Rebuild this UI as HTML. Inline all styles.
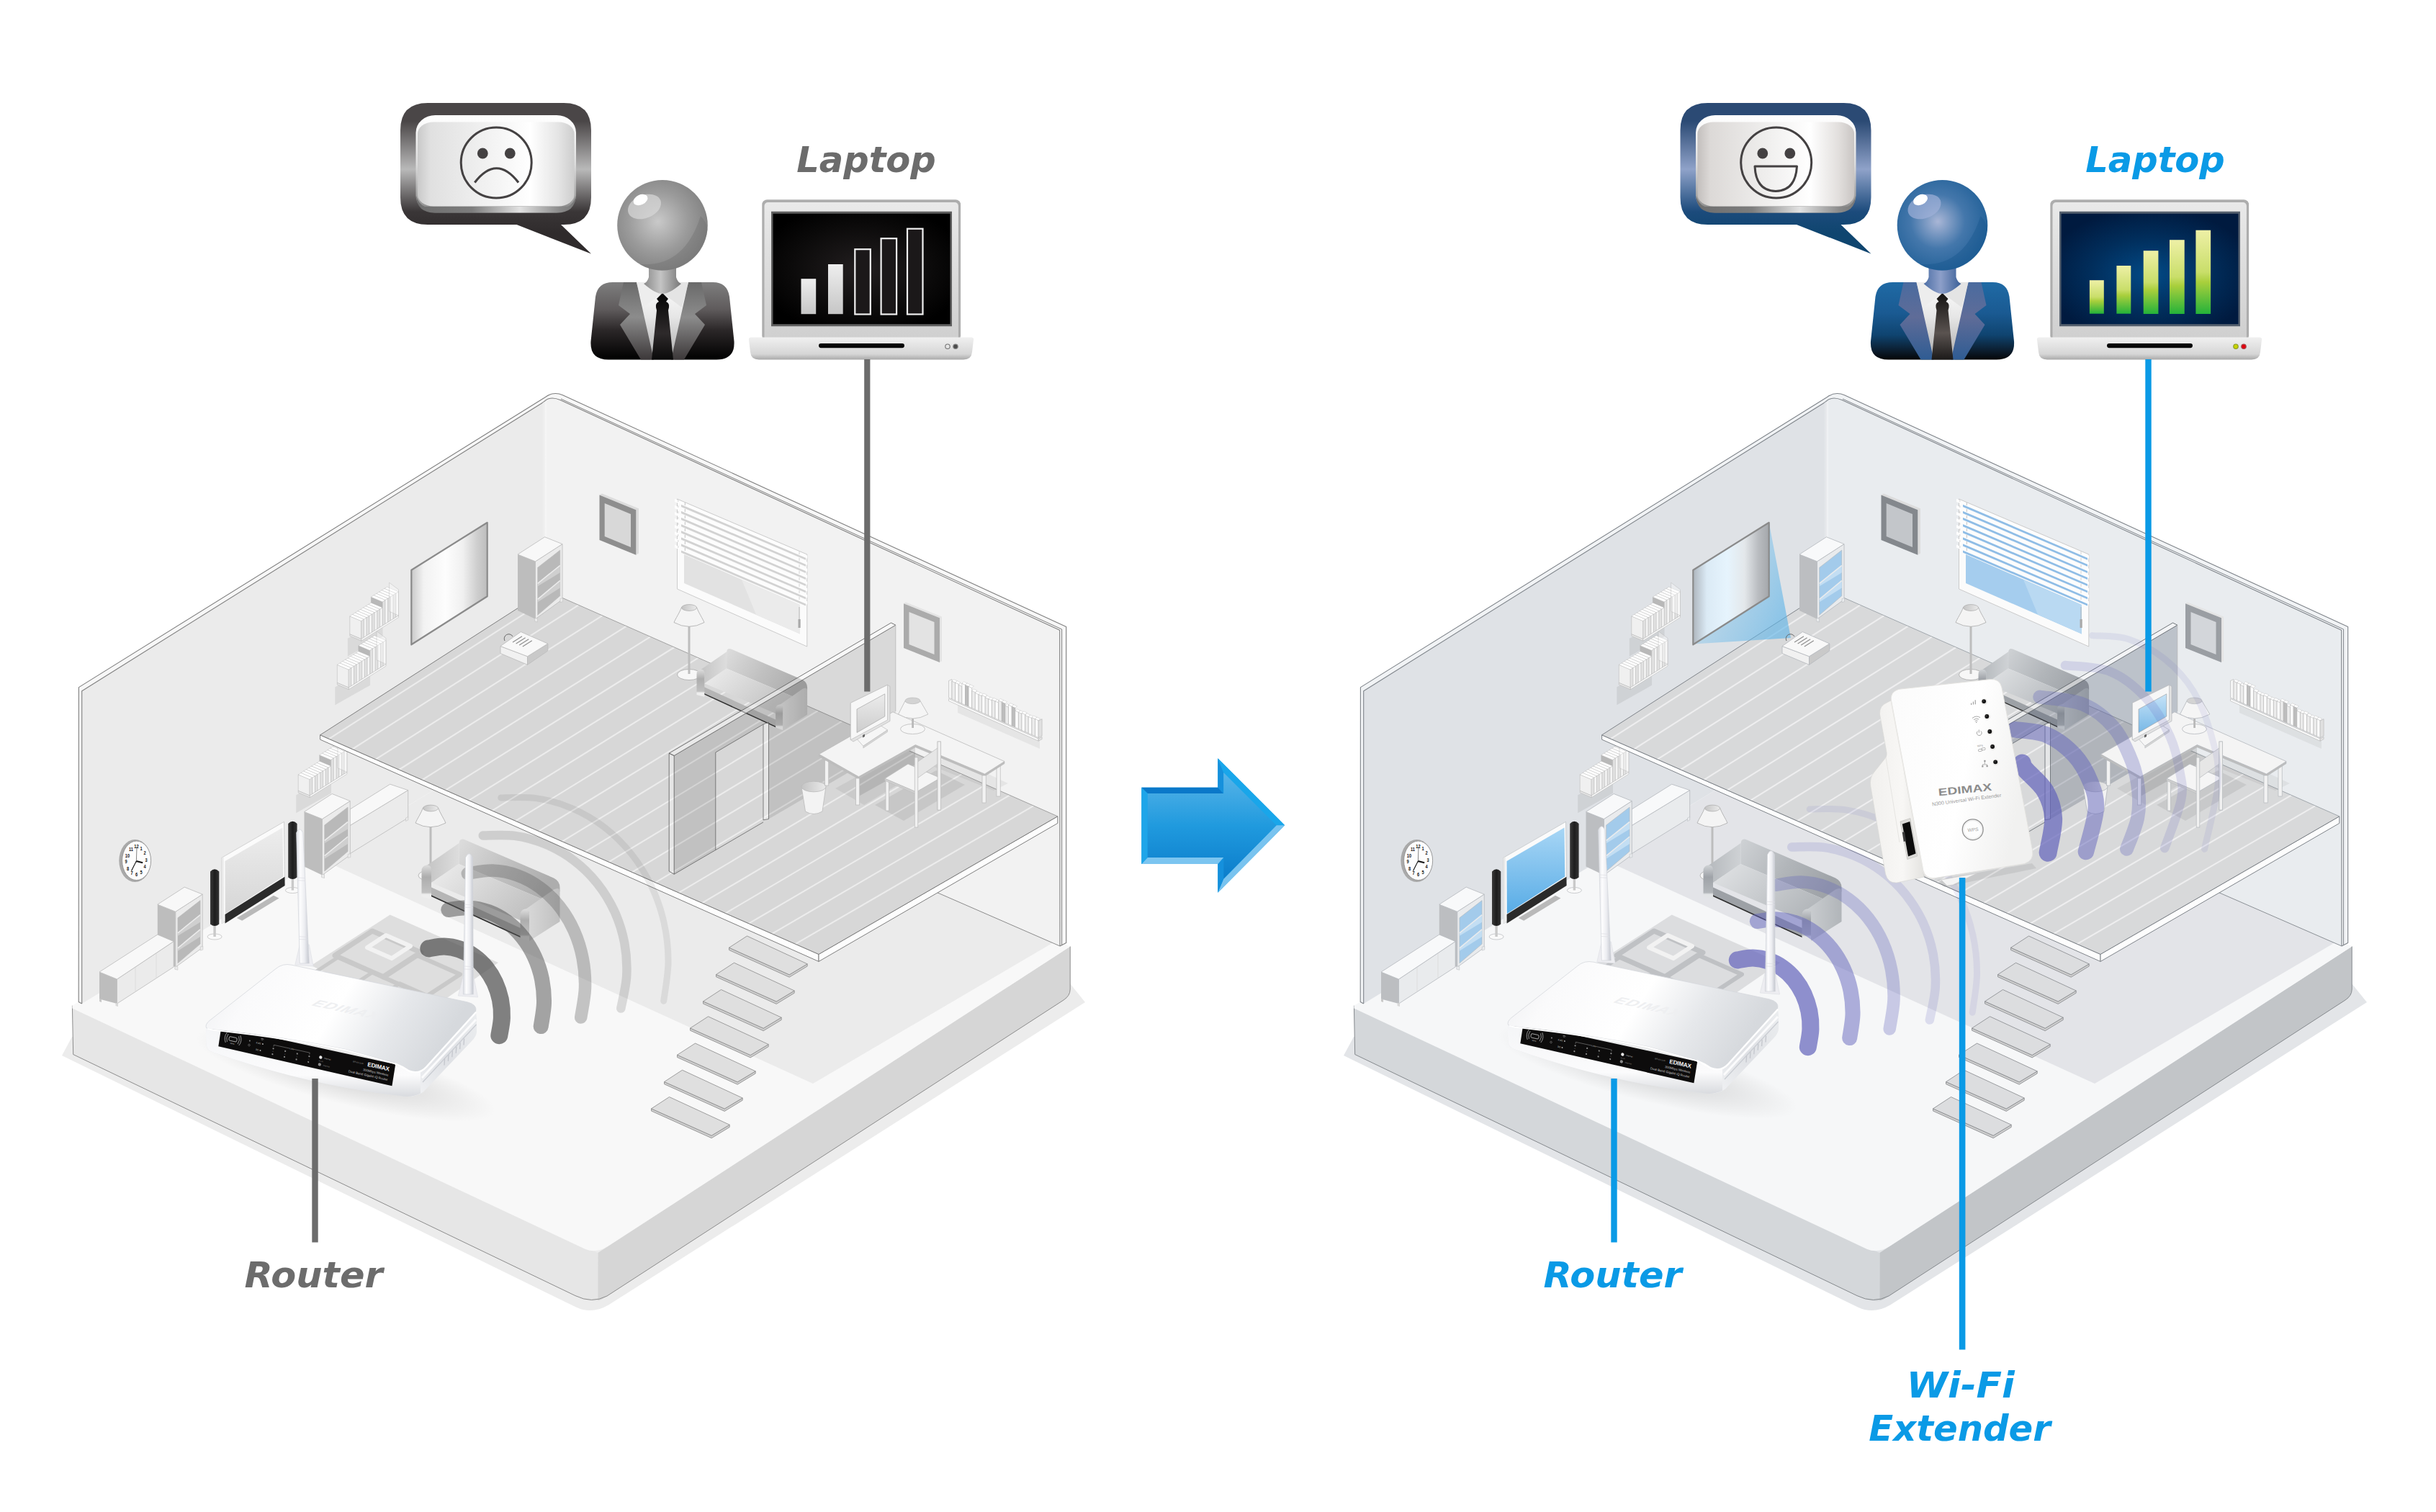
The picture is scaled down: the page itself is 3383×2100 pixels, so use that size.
<!DOCTYPE html>
<html lang="en"><head><meta charset="utf-8"><title>Wi-Fi Extender - before and after</title>
<style>
html,body{margin:0;padding:0;background:#fff}
body{width:3383px;height:2100px;overflow:hidden}
svg{display:block}
text{font-family:"DejaVu Sans","Liberation Sans",sans-serif}
.ls,.ls text{font-family:"Liberation Sans","DejaVu Sans",sans-serif}
.lbl{font-family:"DejaVu Sans","Liberation Sans",sans-serif;font-weight:bold;font-style:italic}
</style></head><body>
<svg xmlns="http://www.w3.org/2000/svg" width="3383" height="2100" viewBox="0 0 3383 2100">
<defs><linearGradient id="cornerShade" x1="0" x2="1" y1="0" y2="0"><stop offset="0" stop-color="#fff" stop-opacity="0"/><stop offset="0.6" stop-color="#fff" stop-opacity="0.35"/><stop offset="1" stop-color="#fff" stop-opacity="0"/></linearGradient><linearGradient id="bubVL" x1="0" x2="0" y1="0" y2="1"><stop offset="0" stop-color="#4a4647"/><stop offset="0.12" stop-color="#4a4647"/><stop offset="0.44" stop-color="#b9b9b9"/><stop offset="0.72" stop-color="#3a3637"/><stop offset="0.86" stop-color="#2f2b2c"/><stop offset="1" stop-color="#2f2b2c"/></linearGradient><linearGradient id="bubVR" x1="0" x2="0" y1="0" y2="1"><stop offset="0" stop-color="#2b4a74"/><stop offset="0.12" stop-color="#2b4a74"/><stop offset="0.44" stop-color="#8fa2c9"/><stop offset="0.72" stop-color="#1c4b7c"/><stop offset="0.86" stop-color="#0f456f"/><stop offset="1" stop-color="#0f456f"/></linearGradient><linearGradient id="bubFace" x1="0" x2="1" y1="0" y2="0"><stop offset="0" stop-color="#c9c9c9"/><stop offset="0.08" stop-color="#e0e0e0"/><stop offset="0.45" stop-color="#f2f2f2"/><stop offset="0.72" stop-color="#ffffff"/><stop offset="0.9" stop-color="#e4e4e4"/><stop offset="1" stop-color="#cdcdcd"/></linearGradient><linearGradient id="bubFaceR" x1="0" x2="1" y1="0" y2="0"><stop offset="0" stop-color="#c3bfbd"/><stop offset="0.08" stop-color="#dcd9d7"/><stop offset="0.45" stop-color="#f0efee"/><stop offset="0.72" stop-color="#ffffff"/><stop offset="0.9" stop-color="#e2dfdd"/><stop offset="1" stop-color="#c9c5c3"/></linearGradient><linearGradient id="bubRim" x1="0" x2="0" y1="0" y2="1"><stop offset="0" stop-color="#ffffff"/><stop offset="0.1" stop-color="#fafafa"/><stop offset="0.5" stop-color="#dcdcdc"/><stop offset="0.9" stop-color="#9a9a9a"/><stop offset="1" stop-color="#777"/></linearGradient><linearGradient id="bubRimB" x1="0" x2="1" y1="0" y2="0"><stop offset="0" stop-color="#6e6e6e"/><stop offset="0.35" stop-color="#7d7d7d"/><stop offset="0.65" stop-color="#e2e2e2"/><stop offset="0.9" stop-color="#8a8a8a"/><stop offset="1" stop-color="#777"/></linearGradient><radialGradient id="headL" cx="0.45" cy="0.46" r="0.6"><stop offset="0" stop-color="#c9c9c9"/><stop offset="0.55" stop-color="#9b9b9b"/><stop offset="1" stop-color="#7e7e7e"/></radialGradient><radialGradient id="headR" cx="0.45" cy="0.46" r="0.6"><stop offset="0" stop-color="#a9b6d6"/><stop offset="0.5" stop-color="#4477ab"/><stop offset="1" stop-color="#1f5f97"/></radialGradient><linearGradient id="neckL" x1="0" x2="1" y1="0" y2="0"><stop offset="0" stop-color="#8a8a8a"/><stop offset="0.45" stop-color="#c4c4c4"/><stop offset="1" stop-color="#777"/></linearGradient><linearGradient id="neckR" x1="0" x2="1" y1="0" y2="0"><stop offset="0" stop-color="#4d6fa6"/><stop offset="0.45" stop-color="#8d9fc9"/><stop offset="1" stop-color="#3a5f97"/></linearGradient><linearGradient id="suitL" x1="0" x2="0" y1="0" y2="1"><stop offset="0" stop-color="#7e7e7e"/><stop offset="0.35" stop-color="#5f5b5c"/><stop offset="0.62" stop-color="#2b2728"/><stop offset="1" stop-color="#000"/></linearGradient><linearGradient id="suitR" x1="0" x2="0" y1="0" y2="1"><stop offset="0" stop-color="#1f6aa5"/><stop offset="0.4" stop-color="#1a5a92"/><stop offset="0.68" stop-color="#0f4470"/><stop offset="0.9" stop-color="#0b1a29"/><stop offset="1" stop-color="#050608"/></linearGradient><linearGradient id="lapL" x1="0" x2="0" y1="0" y2="1"><stop offset="0" stop-color="#6a6a6a"/><stop offset="0.45" stop-color="#8c8c8c"/><stop offset="1" stop-color="#3c3839"/></linearGradient><linearGradient id="lapR" x1="0" x2="0" y1="0" y2="1"><stop offset="0" stop-color="#4a6b9f"/><stop offset="0.45" stop-color="#5f6c98"/><stop offset="1" stop-color="#2f5c93"/></linearGradient><linearGradient id="shirt" x1="0" x2="0" y1="0" y2="1"><stop offset="0" stop-color="#bdbdbd"/><stop offset="0.2" stop-color="#f4f4f4"/><stop offset="0.45" stop-color="#e6e6e6"/><stop offset="1" stop-color="#a9a9a9"/></linearGradient><linearGradient id="tieL" x1="0" x2="0" y1="0" y2="1"><stop offset="0" stop-color="#050505"/><stop offset="0.6" stop-color="#2e2a2b"/><stop offset="1" stop-color="#0a0a0a"/></linearGradient><linearGradient id="tieR" x1="0" x2="0" y1="0" y2="1"><stop offset="0" stop-color="#141211"/><stop offset="0.6" stop-color="#5a5350"/><stop offset="1" stop-color="#1c1a19"/></linearGradient><linearGradient id="lapBody" x1="0" x2="0" y1="0" y2="1"><stop offset="0" stop-color="#e9e9e9"/><stop offset="1" stop-color="#cfcfcf"/></linearGradient><linearGradient id="lapBase" x1="0" x2="0" y1="0" y2="1"><stop offset="0" stop-color="#f0f0f0"/><stop offset="0.75" stop-color="#d6d6d6"/><stop offset="1" stop-color="#a9a9a9"/></linearGradient><radialGradient id="scrL" cx="0.5" cy="0.5" r="0.6"><stop offset="0" stop-color="#231f20"/><stop offset="0.7" stop-color="#0a0909"/><stop offset="1" stop-color="#000"/></radialGradient><radialGradient id="scrR" cx="0.5" cy="0.55" r="0.6"><stop offset="0" stop-color="#024a86"/><stop offset="0.55" stop-color="#012e5c"/><stop offset="1" stop-color="#001a3f"/></radialGradient><linearGradient id="barW" x1="0" x2="0" y1="0" y2="1"><stop offset="0" stop-color="#eeeeee"/><stop offset="1" stop-color="#c6c6c6"/></linearGradient><linearGradient id="barG" x1="0" x2="0" y1="0" y2="1"><stop offset="0" stop-color="#eef0a6"/><stop offset="0.5" stop-color="#c9de6a"/><stop offset="0.62" stop-color="#a9cf3c"/><stop offset="1" stop-color="#24b23a"/></linearGradient><linearGradient id="screenL" x1="0" x2="1" y1="0" y2="0"><stop offset="0" stop-color="#c9c9c9"/><stop offset="0.16" stop-color="#f2f2f2"/><stop offset="0.45" stop-color="#fdfdfd"/><stop offset="0.68" stop-color="#f0f0f0"/><stop offset="0.86" stop-color="#cfcfcf"/><stop offset="1" stop-color="#bdbdbd"/></linearGradient><linearGradient id="screenR" x1="0" x2="1" y1="0" y2="0"><stop offset="0" stop-color="#aeb6be"/><stop offset="0.18" stop-color="#dbeaf5"/><stop offset="0.45" stop-color="#e6f4fd"/><stop offset="0.68" stop-color="#e3e7ea"/><stop offset="0.86" stop-color="#b9bcc0"/><stop offset="1" stop-color="#a4a7ab"/></linearGradient><linearGradient id="beam" x1="0" x2="1" y1="0" y2="0.6"><stop offset="0" stop-color="#8ecbf0" stop-opacity="0.2"/><stop offset="1" stop-color="#58b2e8" stop-opacity="0.6"/></linearGradient><linearGradient id="tvL" x1="0" x2="0" y1="0" y2="1"><stop offset="0" stop-color="#ededed"/><stop offset="1" stop-color="#d6d6d6"/></linearGradient><linearGradient id="tvR" x1="0" x2="0" y1="0" y2="1"><stop offset="0" stop-color="#a8d6f5"/><stop offset="1" stop-color="#58ace6"/></linearGradient><linearGradient id="monL" x1="0" x2="0" y1="0" y2="1"><stop offset="0" stop-color="#ececec"/><stop offset="1" stop-color="#cdcdcd"/></linearGradient><linearGradient id="monR" x1="0" x2="0" y1="0" y2="1"><stop offset="0" stop-color="#c6e3f8"/><stop offset="1" stop-color="#78b8e6"/></linearGradient><linearGradient id="spk" x1="0" x2="1" y1="0" y2="0"><stop offset="0" stop-color="#3a3a3a"/><stop offset="0.5" stop-color="#1d1d1d"/><stop offset="1" stop-color="#333"/></linearGradient><linearGradient id="binIn" x1="0" x2="1" y1="0" y2="0"><stop offset="0" stop-color="#c4c4c4"/><stop offset="1" stop-color="#eaeaea"/></linearGradient><linearGradient id="sofaBackL" x1="0" x2="1" y1="0" y2="0.4"><stop offset="0" stop-color="#dddddd"/><stop offset="0.55" stop-color="#c0c0c0"/><stop offset="1" stop-color="#adadad"/></linearGradient><linearGradient id="sofaArmL" x1="0" x2="1" y1="0" y2="0"><stop offset="0" stop-color="#c0c0c0"/><stop offset="1" stop-color="#dddddd"/></linearGradient><linearGradient id="sofaArm2L" x1="0" x2="1" y1="0" y2="0"><stop offset="0" stop-color="#dddddd"/><stop offset="1" stop-color="#c0c0c0"/></linearGradient><linearGradient id="sofaSeatL" x1="0" x2="1" y1="0" y2="0.5"><stop offset="0" stop-color="#eeeeee"/><stop offset="1" stop-color="#c0c0c0"/></linearGradient><linearGradient id="sofaBlkL" x1="0" x2="0" y1="0" y2="1"><stop offset="0" stop-color="#dddddd"/><stop offset="0.35" stop-color="#adadad"/><stop offset="0.8" stop-color="#c0c0c0"/><stop offset="0.86" stop-color="#eeeeee"/><stop offset="1" stop-color="#eeeeee"/></linearGradient><linearGradient id="sofaBackR" x1="0" x2="1" y1="0" y2="0.4"><stop offset="0" stop-color="#cfd2d5"/><stop offset="0.55" stop-color="#b1b5b9"/><stop offset="1" stop-color="#9fa3a8"/></linearGradient><linearGradient id="sofaArmR" x1="0" x2="1" y1="0" y2="0"><stop offset="0" stop-color="#b1b5b9"/><stop offset="1" stop-color="#cfd2d5"/></linearGradient><linearGradient id="sofaArm2R" x1="0" x2="1" y1="0" y2="0"><stop offset="0" stop-color="#cfd2d5"/><stop offset="1" stop-color="#b1b5b9"/></linearGradient><linearGradient id="sofaSeatR" x1="0" x2="1" y1="0" y2="0.5"><stop offset="0" stop-color="#e2e4e6"/><stop offset="1" stop-color="#b1b5b9"/></linearGradient><linearGradient id="sofaBlkR" x1="0" x2="0" y1="0" y2="1"><stop offset="0" stop-color="#cfd2d5"/><stop offset="0.35" stop-color="#9fa3a8"/><stop offset="0.8" stop-color="#b1b5b9"/><stop offset="0.86" stop-color="#e2e4e6"/><stop offset="1" stop-color="#e2e4e6"/></linearGradient><linearGradient id="arrIn" x1="0" x2="0" y1="0" y2="1"><stop offset="0" stop-color="#58b4e8"/><stop offset="0.5" stop-color="#209ade"/><stop offset="1" stop-color="#0b7dcb"/></linearGradient><linearGradient id="rtTop" x1="0" x2="1" y1="0" y2="0.25"><stop offset="0" stop-color="#ecedf0"/><stop offset="0.22" stop-color="#fafafb"/><stop offset="0.55" stop-color="#ffffff"/><stop offset="0.78" stop-color="#e6e8eb"/><stop offset="1" stop-color="#d6d9dd"/></linearGradient><linearGradient id="rtFront" x1="0" x2="0" y1="0" y2="1"><stop offset="0" stop-color="#f4f5f7"/><stop offset="0.7" stop-color="#fbfbfc"/><stop offset="1" stop-color="#d9dbdf"/></linearGradient><linearGradient id="rtSide" x1="0" x2="1" y1="1" y2="0"><stop offset="0" stop-color="#f3f4f6"/><stop offset="0.5" stop-color="#dfe1e5"/><stop offset="1" stop-color="#eceef0"/></linearGradient><linearGradient id="ant" x1="0" x2="1" y1="0" y2="0"><stop offset="0" stop-color="#d9dbe1"/><stop offset="0.3" stop-color="#fdfdfe"/><stop offset="0.65" stop-color="#ecedf1"/><stop offset="1" stop-color="#c3c6ce"/></linearGradient><radialGradient id="rtShadow" cx="0.5" cy="0.5" r="0.5"><stop offset="0" stop-color="#000" stop-opacity="0.16"/><stop offset="1" stop-color="#000" stop-opacity="0"/></radialGradient><linearGradient id="exFront" x1="0" x2="1" y1="0" y2="0.3"><stop offset="0" stop-color="#fbfbfb"/><stop offset="0.6" stop-color="#ffffff"/><stop offset="1" stop-color="#f1f1f0"/></linearGradient><linearGradient id="exSide" x1="0" x2="1" y1="0" y2="0"><stop offset="0" stop-color="#f1f0ee"/><stop offset="0.6" stop-color="#f8f7f5"/><stop offset="1" stop-color="#e4e3e0"/></linearGradient></defs>
<rect width="3383" height="2100" fill="#fff"/>
<g id="sceneL">
<path d="M86,1466 L800,1815.5 Q822,1826 845,1812.5 L1507,1392 L1486,1366 L100,1440 Z" fill="#ececec"/>
<path d="M100.4,1396.7 L830,1740 L830.4,1806.5 L826,1807 Q812,1806.5 799,1799.6 L101.7,1464.5 Z" fill="#e6e6e6"/>
<path d="M830.4,1740 L1486.2,1314.5 L1486.2,1374 Q1486.2,1383 1477,1389 L843,1800 Q836,1805 830.4,1806.5 Z" fill="#d6d6d6"/>
<path d="M100.4,1396.7 L101.7,1464.5 L799,1799.6 Q822,1811 843,1800 L1477,1389 Q1486.2,1383 1486.2,1374 L1486.2,1314.5" fill="none" stroke="#8c8c8c" stroke-width="1"/>
<path d="M100.4,1400.5 L100.4,1396.7 L757,990 L1486.2,1314.5 L844,1731 Q828,1741 813,1735 Z" fill="#f8f8f8"/>
<polygon points="445,1193 757.5,1003 1462,1309.5 1129,1505" fill="#ebebeb"/>
<path d="M109.4,954.6 L757.5,551.5 Q768.5,543.2 781.5,548.7 L1480.7,870.4 L1480.7,1309.6 L1472,1314 L757.5,1003 L113.7,1394 L109.2,1391.5 Z" fill="#f7f7f7"/>
<path d="M113.7,959.8 L752,560.2 Q755.5,558 757.5,556 L757.5,1003 L113.7,1394 Z" fill="#ebebeb"/>
<path d="M757.5,556 Q766,550.5 778,555.5 L1471.7,875.2 L1472,1314 L757.5,1003 Z" fill="#f2f2f2"/>
<path d="M113.7,1394 L109.2,1391.5 L109.4,954.6 L757.5,551.5 Q768.5,543.2 781.5,548.7 L1480.7,870.4 L1480.7,1309.6 L1472,1314" fill="none" stroke="#7f7f7f" stroke-width="1.1" stroke-linejoin="round"/>
<path d="M113.7,1394 L113.7,959.8 L752,560.2 Q755.5,558 758.5,555.4 Q766,550.5 778,555.5 L1471.7,875.2 L1472,1314" fill="none" stroke="#7f7f7f" stroke-width="1.1" stroke-linejoin="round"/>
<polyline points="779,554 1474.6,874 1474.6,1312.5" fill="none" stroke="#7f7f7f" stroke-width="1"/>
<polyline points="1300,1239 1472,1314" fill="none" stroke="#7f7f7f" stroke-width="0.9"/>
<rect x="752.5" y="558" width="8" height="264" fill="url(#cornerShade)"/>
<polygon points="411.2,1104.3 460,1077.7 460,1101.7 411.2,1129.3" fill="rgba(0,0,0,0.07)"/>
<polygon points="462.3,1068 478.2,1074.7 478.2,1043.7 462.3,1037" fill="#fafafa" stroke="#b3b3b3" stroke-width="0.5" stroke-linejoin="round"/>
<polygon points="462.3,1037 478.2,1043.7 481.9,1041.4 466,1034.7" fill="#ffffff" stroke="#b3b3b3" stroke-width="0.4" stroke-linejoin="round"/>
<polygon points="458.6,1070.3 474.5,1077 474.5,1046 458.6,1039.3" fill="#ededed" stroke="#b3b3b3" stroke-width="0.5" stroke-linejoin="round"/>
<polygon points="458.6,1039.3 474.5,1046 478.2,1043.7 462.3,1037" fill="#ffffff" stroke="#b3b3b3" stroke-width="0.4" stroke-linejoin="round"/>
<polygon points="454.9,1072.7 470.8,1079.4 470.8,1048.4 454.9,1041.7" fill="#fafafa" stroke="#b3b3b3" stroke-width="0.5" stroke-linejoin="round"/>
<polygon points="454.9,1041.7 470.8,1048.4 474.5,1046 458.6,1039.3" fill="#ffffff" stroke="#b3b3b3" stroke-width="0.4" stroke-linejoin="round"/>
<polygon points="451.2,1075 467.1,1081.7 467.1,1050.7 451.2,1044" fill="#fafafa" stroke="#b3b3b3" stroke-width="0.5" stroke-linejoin="round"/>
<polygon points="451.2,1044 467.1,1050.7 470.8,1048.4 454.9,1041.7" fill="#ffffff" stroke="#b3b3b3" stroke-width="0.4" stroke-linejoin="round"/>
<polygon points="447.5,1077.3 463.4,1084 463.4,1053 447.5,1046.3" fill="#ededed" stroke="#b3b3b3" stroke-width="0.5" stroke-linejoin="round"/>
<polygon points="447.5,1046.3 463.4,1053 467.1,1050.7 451.2,1044" fill="#ffffff" stroke="#b3b3b3" stroke-width="0.4" stroke-linejoin="round"/>
<polygon points="443.8,1079.7 459.7,1086.4 459.7,1055.4 443.8,1048.7" fill="#b8b8b8" stroke="#b3b3b3" stroke-width="0.5" stroke-linejoin="round"/>
<polygon points="443.8,1048.7 459.7,1055.4 463.4,1053 447.5,1046.3" fill="#ffffff" stroke="#b3b3b3" stroke-width="0.4" stroke-linejoin="round"/>
<polygon points="440.1,1082 456,1088.7 456,1066.2 440.1,1059.5" fill="#fafafa" stroke="#b3b3b3" stroke-width="0.5" stroke-linejoin="round"/>
<polygon points="440.1,1059.5 456,1066.2 459.7,1063.9 443.8,1057.2" fill="#ffffff" stroke="#b3b3b3" stroke-width="0.4" stroke-linejoin="round"/>
<polygon points="436.4,1084.3 452.3,1091 452.3,1068.5 436.4,1061.8" fill="#ededed" stroke="#b3b3b3" stroke-width="0.5" stroke-linejoin="round"/>
<polygon points="436.4,1061.8 452.3,1068.5 456,1066.2 440.1,1059.5" fill="#ffffff" stroke="#b3b3b3" stroke-width="0.4" stroke-linejoin="round"/>
<polygon points="432.7,1086.6 448.6,1093.3 448.6,1070.8 432.7,1064.1" fill="#fafafa" stroke="#b3b3b3" stroke-width="0.5" stroke-linejoin="round"/>
<polygon points="432.7,1064.1 448.6,1070.8 452.3,1068.5 436.4,1061.8" fill="#ffffff" stroke="#b3b3b3" stroke-width="0.4" stroke-linejoin="round"/>
<polygon points="429,1089 444.9,1095.7 444.9,1073.2 429,1066.5" fill="#fafafa" stroke="#b3b3b3" stroke-width="0.5" stroke-linejoin="round"/>
<polygon points="429,1066.5 444.9,1073.2 448.6,1070.9 432.7,1064.2" fill="#ffffff" stroke="#b3b3b3" stroke-width="0.4" stroke-linejoin="round"/>
<polygon points="425.3,1091.3 441.2,1098 441.2,1075.5 425.3,1068.8" fill="#ededed" stroke="#b3b3b3" stroke-width="0.5" stroke-linejoin="round"/>
<polygon points="425.3,1068.8 441.2,1075.5 444.9,1073.2 429,1066.5" fill="#ffffff" stroke="#b3b3b3" stroke-width="0.4" stroke-linejoin="round"/>
<polygon points="421.6,1093.6 437.5,1100.3 437.5,1077.8 421.6,1071.1" fill="#fafafa" stroke="#b3b3b3" stroke-width="0.5" stroke-linejoin="round"/>
<polygon points="421.6,1071.1 437.5,1077.8 441.2,1075.5 425.3,1068.8" fill="#ffffff" stroke="#b3b3b3" stroke-width="0.4" stroke-linejoin="round"/>
<polygon points="417.9,1096 433.8,1102.7 433.8,1080.2 417.9,1073.5" fill="#fafafa" stroke="#b3b3b3" stroke-width="0.5" stroke-linejoin="round"/>
<polygon points="417.9,1073.5 433.8,1080.2 437.5,1077.8 421.6,1071.1" fill="#ffffff" stroke="#b3b3b3" stroke-width="0.4" stroke-linejoin="round"/>
<polygon points="414.2,1098.3 430.1,1105 430.1,1082.5 414.2,1075.8" fill="#f0f0f0" stroke="#b3b3b3" stroke-width="0.5" stroke-linejoin="round"/>
<polygon points="414.2,1075.8 430.1,1082.5 433.8,1080.2 417.9,1073.5" fill="#ffffff" stroke="#b3b3b3" stroke-width="0.4" stroke-linejoin="round"/>
<polygon points="430.1,1105 433.8,1102.7 433.8,1080.2 430.1,1082.5" fill="#e2e2e2" stroke="#b3b3b3" stroke-width="0.4" stroke-linejoin="round"/>
<polygon points="433.8,1102.7 437.5,1100.3 437.5,1077.8 433.8,1080.2" fill="#f4f4f4" stroke="#b3b3b3" stroke-width="0.4" stroke-linejoin="round"/>
<polygon points="437.5,1100.3 441.2,1098 441.2,1075.5 437.5,1077.8" fill="#e2e2e2" stroke="#b3b3b3" stroke-width="0.4" stroke-linejoin="round"/>
<polygon points="441.2,1098 444.9,1095.7 444.9,1073.2 441.2,1075.5" fill="#f4f4f4" stroke="#b3b3b3" stroke-width="0.4" stroke-linejoin="round"/>
<polygon points="444.9,1095.7 448.6,1093.4 448.6,1070.9 444.9,1073.2" fill="#e2e2e2" stroke="#b3b3b3" stroke-width="0.4" stroke-linejoin="round"/>
<polygon points="448.6,1093.3 452.3,1091 452.3,1068.5 448.6,1070.8" fill="#f4f4f4" stroke="#b3b3b3" stroke-width="0.4" stroke-linejoin="round"/>
<polygon points="452.3,1091 456,1088.7 456,1066.2 452.3,1068.5" fill="#e2e2e2" stroke="#b3b3b3" stroke-width="0.4" stroke-linejoin="round"/>
<polygon points="456,1088.7 459.7,1086.4 459.7,1063.9 456,1066.2" fill="#f4f4f4" stroke="#b3b3b3" stroke-width="0.4" stroke-linejoin="round"/>
<polygon points="459.7,1086.4 463.4,1084 463.4,1053 459.7,1055.4" fill="#e2e2e2" stroke="#b3b3b3" stroke-width="0.4" stroke-linejoin="round"/>
<polygon points="463.4,1084 467.1,1081.7 467.1,1050.7 463.4,1053" fill="#f4f4f4" stroke="#b3b3b3" stroke-width="0.4" stroke-linejoin="round"/>
<polygon points="467.1,1081.7 470.8,1079.4 470.8,1048.4 467.1,1050.7" fill="#e2e2e2" stroke="#b3b3b3" stroke-width="0.4" stroke-linejoin="round"/>
<polygon points="470.8,1079.4 474.5,1077 474.5,1046 470.8,1048.4" fill="#f4f4f4" stroke="#b3b3b3" stroke-width="0.4" stroke-linejoin="round"/>
<polygon points="474.5,1077 478.2,1074.7 478.2,1043.7 474.5,1046" fill="#e2e2e2" stroke="#b3b3b3" stroke-width="0.4" stroke-linejoin="round"/>
<polygon points="478.2,1074.7 481.9,1072.4 481.9,1041.4 478.2,1043.7" fill="#f4f4f4" stroke="#b3b3b3" stroke-width="0.4" stroke-linejoin="round"/>
<polygon points="481.9,1072.4 481.9,1038.4 469,1028.7 469,1066.7" fill="rgba(255,255,255,0.35)" stroke="#b3b3b3" stroke-width="0.4" stroke-linejoin="round"/>
<polygon points="430.1,1105 481.9,1072.4 481.9,1075 430.1,1107.6" fill="#fafafa" stroke="#b3b3b3" stroke-width="0.5" stroke-linejoin="round"/>
<polygon points="414.2,1098.3 430.1,1105 430.1,1107.6 414.2,1100.9" fill="#e6e6e6" stroke="#b3b3b3" stroke-width="0.5" stroke-linejoin="round"/>
<polygon points="485.8,1146.7 566.7,1097.5 566.7,1135.8 485.8,1185.8" fill="#ebebeb" stroke="#bababa" stroke-width="0.8" stroke-linejoin="round"/>
<polygon points="485.8,1124.2 541.7,1089.2 566.7,1097.5 485.8,1146.7" fill="#f8f8f8" stroke="#bababa" stroke-width="0.8" stroke-linejoin="round"/>
<polygon points="563.5,1136 566.7,1134.5 566.7,1139 563.5,1140.5" fill="#ebebeb" stroke="#bababa" stroke-width="0.5" stroke-linejoin="round"/>
<polygon points="422.5,1127.5 447.5,1137.5 447.5,1215.5 422.5,1203.5" fill="#bdbdbd"/>
<polygon points="447.5,1137.5 486.2,1112.5 486.2,1187.5 447.5,1215.5" fill="#ebebeb" stroke="#bababa" stroke-width="0.8" stroke-linejoin="round"/>
<polygon points="450.7,1146 483.1,1121 483.1,1182.5 450.7,1210" fill="#b9b9b9" stroke="#bababa" stroke-width="0.6" stroke-linejoin="round"/>
<polygon points="450.7,1167.3 483.1,1141.5 483.1,1151.5 450.7,1171.3" fill="#cfcfcf"/>
<polyline points="450.7,1167.3 483.1,1141.5" fill="none" stroke="#ebebeb" stroke-width="1.6"/>
<polygon points="450.7,1188.7 483.1,1162 483.1,1172 450.7,1192.7" fill="#cfcfcf"/>
<polyline points="450.7,1188.7 483.1,1162" fill="none" stroke="#ebebeb" stroke-width="1.6"/>
<polygon points="446.5,1214.5 450.5,1214.5 450.5,1219.5 446.5,1218.5" fill="#ebebeb" stroke="#bababa" stroke-width="0.5" stroke-linejoin="round"/>
<polygon points="483.2,1186.5 486.8,1185.5 486.8,1190.5 483.2,1191.5" fill="#ebebeb" stroke="#bababa" stroke-width="0.5" stroke-linejoin="round"/>
<polygon points="422.5,1127.5 461.2,1102.5 486.2,1112.5 447.5,1137.5" fill="#f8f8f8" stroke="#bababa" stroke-width="0.8" stroke-linejoin="round"/>
<ellipse cx="598" cy="1216" rx="17" ry="7.5" fill="#f7f7f7" stroke="#a9a9a9" stroke-width="0.8"/>
<rect x="596.5" y="1141" width="3" height="74" fill="#bdbdbd"/>
<path d="M587.5,1122 C585,1129 579,1138 577,1143 Q598,1154.5 619,1143 C617,1138 611,1129 608.5,1122 Z" fill="#f4f4f4" stroke="#a9a9a9" stroke-width="0.8"/>
<ellipse cx="598" cy="1122.5" rx="10.5" ry="4.4" fill="url(#binIn)" stroke="#a9a9a9" stroke-width="0.7"/>
<path d="M637.5,1172 Q638,1163 646,1166.5 L769,1219.5 Q778,1224 777.5,1234 L777.5,1238 L765,1254 L637.5,1200 Z" fill="url(#sofaBackL)"/>
<path d="M585.5,1207 L637.5,1171 L637.5,1200 L599,1226 L599,1206 Z" fill="url(#sofaArmL)"/>
<polygon points="599,1226 636.7,1200 765,1254 727,1280" fill="url(#sofaSeatL)"/>
<polygon points="596,1231 724,1289.5 724,1301 596,1242.5" fill="#b5b5b5"/>
<polyline points="597,1243.2 724,1301.8" fill="none" stroke="#2e2e2e" stroke-width="1.7"/>
<path d="M722.5,1268 L769,1235.5 Q778,1231 777.5,1240 L777.5,1280 L735,1307 L735,1266 Z" fill="url(#sofaArm2L)"/>
<path d="M722.5,1271 Q722.5,1263.5 729,1262.5 Q735,1262 735,1269 L735,1307 L722.5,1302.5 Z" fill="url(#sofaBlkL)"/>
<path d="M585.5,1210 Q585.5,1202.5 592,1201.5 Q599,1201 599,1208 L599,1249 L585.5,1245.5 Z" fill="url(#sofaBlkL)"/>
<polygon points="541.7,1270.5 692,1337 583,1412 432,1341" fill="#dedede"/>
<polygon points="517,1293 585,1323 533,1357 465,1327" fill="none" stroke="#c9c9c9" stroke-width="7" stroke-linejoin="round" stroke-linejoin="round"/>
<polygon points="536,1299 570,1314 544,1331 510,1316" fill="none" stroke="#f2f2f2" stroke-width="6" stroke-linejoin="round" stroke-linejoin="round"/>
<polygon points="577.8,1326.2 639,1353.2 592.2,1383.8 531,1356.8" fill="none" stroke="#c9c9c9" stroke-width="6" stroke-linejoin="round" stroke-linejoin="round"/>
<polygon points="469.4,1329.6 517,1350.6 480.6,1374.4 433,1353.4" fill="none" stroke="#c9c9c9" stroke-width="5" stroke-linejoin="round" stroke-linejoin="round"/>
<polygon points="555.2,1365.8 596,1383.8 564.8,1404.2 524,1386.2" fill="none" stroke="#c9c9c9" stroke-width="5" stroke-linejoin="round" stroke-linejoin="round"/>
<polygon points="328.8,1275 380,1243.8 387.5,1247.5 336.2,1278.8" fill="#b9b9b9"/>
<polygon points="307.5,1191.5 394.5,1141.3 395.5,1230 308.2,1282.5" fill="#fbfbfb" stroke="#bababa" stroke-width="0.6" stroke-linejoin="round"/>
<polygon points="312.5,1196 392.5,1149.5 393.3,1217.5 312.8,1269" fill="url(#tvL)"/>
<polygon points="312.5,1270 395.4,1217.8 395.5,1230 312.6,1282.5" fill="#2b2b2b"/>
<polygon points="307.5,1191.5 310.5,1190 311,1281 308.2,1282.5" fill="#e9e9e9"/>
<ellipse cx="298.1" cy="1301" rx="10" ry="4" fill="#fafafa" stroke="#bababa" stroke-width="0.7"/>
<rect x="296.4" y="1283.5" width="3.4" height="17.5" fill="#c9c9c9"/>
<path d="M292,1210.5 V1283.5 Q298.1,1288.5 304.3,1283.5 V1210.5 Q298.1,1204 292,1210.5 Z" fill="url(#spk)"/>
<ellipse cx="406.4" cy="1236.5" rx="10" ry="4" fill="#fafafa" stroke="#bababa" stroke-width="0.7"/>
<rect x="404.7" y="1218.5" width="3.4" height="18" fill="#c9c9c9"/>
<path d="M400.2,1144 V1218.5 Q406.4,1223.5 412.6,1218.5 V1144 Q406.4,1137.5 400.2,1144 Z" fill="url(#spk)"/>
<polygon points="218.8,1256.2 243.8,1266.2 243.8,1343.2 218.8,1331.2" fill="#bdbdbd"/>
<polygon points="243.8,1266.2 281.2,1242.1 281.2,1316.1 243.8,1343.2" fill="#ebebeb" stroke="#bababa" stroke-width="0.8" stroke-linejoin="round"/>
<polygon points="246.9,1274.8 278.1,1250.6 278.1,1311.1 246.9,1337.8" fill="#b9b9b9" stroke="#bababa" stroke-width="0.6" stroke-linejoin="round"/>
<polygon points="246.9,1295.8 278.1,1270.7 278.1,1280.7 246.9,1299.8" fill="#cfcfcf"/>
<polyline points="246.9,1295.8 278.1,1270.7" fill="none" stroke="#ebebeb" stroke-width="1.6"/>
<polygon points="246.9,1316.8 278.1,1290.9 278.1,1300.9 246.9,1320.8" fill="#cfcfcf"/>
<polyline points="246.9,1316.8 278.1,1290.9" fill="none" stroke="#ebebeb" stroke-width="1.6"/>
<polygon points="242.8,1342.2 246.8,1342.2 246.8,1347.2 242.8,1346.2" fill="#ebebeb" stroke="#bababa" stroke-width="0.5" stroke-linejoin="round"/>
<polygon points="278.2,1315.1 281.8,1314.1 281.8,1319.1 278.2,1320.1" fill="#ebebeb" stroke="#bababa" stroke-width="0.5" stroke-linejoin="round"/>
<polygon points="218.8,1256.2 256.2,1232.1 281.2,1242.1 243.8,1266.2" fill="#f8f8f8" stroke="#bababa" stroke-width="0.8" stroke-linejoin="round"/>
<polygon points="138,1350 162.5,1360 162.5,1394 138,1387.5" fill="#bdbdbd"/>
<polygon points="162.5,1360 241.2,1307.5 241.2,1343 162.5,1394" fill="#ebebeb" stroke="#bababa" stroke-width="0.8" stroke-linejoin="round"/>
<polyline points="188,1343 188,1377.5" fill="none" stroke="#d9d9d9" stroke-width="0.8"/>
<polyline points="217,1323.8 217,1358.7" fill="none" stroke="#d9d9d9" stroke-width="0.8"/>
<polygon points="138,1350 218.8,1298 241.2,1307.5 162.5,1360" fill="#f8f8f8" stroke="#bababa" stroke-width="0.8" stroke-linejoin="round"/>
<polygon points="160.5,1393 164,1393.5 164,1398 160.5,1397" fill="#d9d9d9"/>
<polygon points="138,1387 141,1388 141,1392 138,1391" fill="#c9c9c9"/>
<ellipse cx="187.5" cy="1195.5" rx="22.2" ry="29.6" fill="#a9a9a9"/>
<ellipse cx="189.6" cy="1195.3" rx="20" ry="27.2" fill="#fdfdfd" stroke="#8c8c8c" stroke-width="0.8"/>
<text x="189.5" y="1178" font-size="6.6" font-weight="bold" text-anchor="middle" fill="#111" class="ls" transform="translate(189.5 1176) scale(0.86 1) translate(-189.5 -1176)">12</text>
<text x="196" y="1181" font-size="6.6" font-weight="bold" text-anchor="middle" fill="#111" class="ls" transform="translate(196 1179) scale(0.86 1) translate(-196 -1179)">1</text>
<text x="201" y="1187.5" font-size="6.6" font-weight="bold" text-anchor="middle" fill="#111" class="ls" transform="translate(201 1185.5) scale(0.86 1) translate(-201 -1185.5)">2</text>
<text x="203" y="1197" font-size="6.6" font-weight="bold" text-anchor="middle" fill="#111" class="ls" transform="translate(203 1195) scale(0.86 1) translate(-203 -1195)">3</text>
<text x="201" y="1206.5" font-size="6.6" font-weight="bold" text-anchor="middle" fill="#111" class="ls" transform="translate(201 1204.5) scale(0.86 1) translate(-201 -1204.5)">4</text>
<text x="196" y="1214.5" font-size="6.6" font-weight="bold" text-anchor="middle" fill="#111" class="ls" transform="translate(196 1212.5) scale(0.86 1) translate(-196 -1212.5)">5</text>
<text x="189.5" y="1217.5" font-size="6.6" font-weight="bold" text-anchor="middle" fill="#111" class="ls" transform="translate(189.5 1215.5) scale(0.86 1) translate(-189.5 -1215.5)">6</text>
<text x="183" y="1215.5" font-size="6.6" font-weight="bold" text-anchor="middle" fill="#111" class="ls" transform="translate(183 1213.5) scale(0.86 1) translate(-183 -1213.5)">7</text>
<text x="177.5" y="1209" font-size="6.6" font-weight="bold" text-anchor="middle" fill="#111" class="ls" transform="translate(177.5 1207) scale(0.86 1) translate(-177.5 -1207)">8</text>
<text x="175" y="1199.5" font-size="6.6" font-weight="bold" text-anchor="middle" fill="#111" class="ls" transform="translate(175 1197.5) scale(0.86 1) translate(-175 -1197.5)">9</text>
<text x="177" y="1190.5" font-size="6.6" font-weight="bold" text-anchor="middle" fill="#111" class="ls" transform="translate(177 1188.5) scale(0.86 1) translate(-177 -1188.5)">10</text>
<text x="182" y="1182.5" font-size="6.6" font-weight="bold" text-anchor="middle" fill="#111" class="ls" transform="translate(182 1180.5) scale(0.86 1) translate(-182 -1180.5)">11</text>
<polyline points="189.3,1196 198.2,1198.3" fill="none" stroke="#111" stroke-width="2.2"/>
<polyline points="189.3,1196 182.5,1209.5" fill="none" stroke="#111" stroke-width="1.1"/>
<polyline points="189.3,1198 190,1176.5" fill="none" stroke="#333" stroke-width="0.6"/>
<polygon points="1012.5,1316.2 1096.2,1353.8 1121.2,1338.8 1121.2,1342 1096.2,1357.2 1012.5,1319.5" fill="#cfcfcf" stroke="#8a8a8a" stroke-width="0.8" stroke-linejoin="round"/>
<polygon points="1012.5,1316.2 1037.5,1300 1121.2,1338.8 1096.2,1353.8" fill="#dfdfdf" stroke="#8a8a8a" stroke-width="0.8" stroke-linejoin="round"/>
<polygon points="994.5,1353.5 1078.2,1391 1103.2,1376 1103.2,1379.2 1078.2,1394.4 994.5,1356.7" fill="#cfcfcf" stroke="#8a8a8a" stroke-width="0.8" stroke-linejoin="round"/>
<polygon points="994.5,1353.5 1019.5,1337.2 1103.2,1376 1078.2,1391" fill="#dfdfdf" stroke="#8a8a8a" stroke-width="0.8" stroke-linejoin="round"/>
<polygon points="976.5,1390.8 1060.2,1428.2 1085.2,1413.2 1085.2,1416.5 1060.2,1431.7 976.5,1394" fill="#cfcfcf" stroke="#8a8a8a" stroke-width="0.8" stroke-linejoin="round"/>
<polygon points="976.5,1390.8 1001.5,1374.5 1085.2,1413.2 1060.2,1428.2" fill="#dfdfdf" stroke="#8a8a8a" stroke-width="0.8" stroke-linejoin="round"/>
<polygon points="958.5,1428 1042.2,1465.5 1067.2,1450.5 1067.2,1453.7 1042.2,1468.9 958.5,1431.2" fill="#cfcfcf" stroke="#8a8a8a" stroke-width="0.8" stroke-linejoin="round"/>
<polygon points="958.5,1428 983.5,1411.8 1067.2,1450.5 1042.2,1465.5" fill="#dfdfdf" stroke="#8a8a8a" stroke-width="0.8" stroke-linejoin="round"/>
<polygon points="940.5,1465.2 1024.2,1502.8 1049.2,1487.8 1049.2,1491 1024.2,1506.2 940.5,1468.5" fill="#cfcfcf" stroke="#8a8a8a" stroke-width="0.8" stroke-linejoin="round"/>
<polygon points="940.5,1465.2 965.5,1449 1049.2,1487.8 1024.2,1502.8" fill="#dfdfdf" stroke="#8a8a8a" stroke-width="0.8" stroke-linejoin="round"/>
<polygon points="922.5,1502.5 1006.2,1540 1031.2,1525 1031.2,1528.2 1006.2,1543.4 922.5,1505.7" fill="#cfcfcf" stroke="#8a8a8a" stroke-width="0.8" stroke-linejoin="round"/>
<polygon points="922.5,1502.5 947.5,1486.2 1031.2,1525 1006.2,1540" fill="#dfdfdf" stroke="#8a8a8a" stroke-width="0.8" stroke-linejoin="round"/>
<polygon points="904.5,1539.8 988.2,1577.2 1013.2,1562.2 1013.2,1565.5 988.2,1580.7 904.5,1543" fill="#cfcfcf" stroke="#8a8a8a" stroke-width="0.8" stroke-linejoin="round"/>
<polygon points="904.5,1539.8 929.5,1523.5 1013.2,1562.2 988.2,1577.2" fill="#dfdfdf" stroke="#8a8a8a" stroke-width="0.8" stroke-linejoin="round"/>
<polygon points="444.6,1020.8 1137,1325.4 1137,1335.4 444.6,1027.1" fill="#fdfdfd" stroke="#7f7f7f" stroke-width="1" stroke-linejoin="round"/>
<polygon points="1137,1325.4 1468.8,1133.8 1468.8,1143.4 1137,1335.4" fill="#fdfdfd" stroke="#7f7f7f" stroke-width="1" stroke-linejoin="round"/>
<polygon points="444.6,1020.8 757.5,820 1468.8,1133.8 1137,1325.4" fill="#d7d7d7"/>
<path d="M770.1,825.6 L456.9,1026.2 M803.4,840.3 L489.3,1040.5 M836.7,854.9 L521.7,1054.7 M870,869.6 L554.1,1069 M903.2,884.3 L586.4,1083.2 M936.5,899 L618.8,1097.4 M969.8,913.6 L651.2,1111.7 M1003,928.3 L683.6,1125.9 M1036.3,943 L716,1140.2 M1069.6,957.7 L748.4,1154.4 M1102.8,972.4 L780.8,1168.7 M1136.1,987 L813.1,1182.9 M1169.4,1001.7 L845.5,1197.2 M1202.6,1016.4 L877.9,1211.4 M1235.9,1031.1 L910.3,1225.7 M1269.2,1045.7 L942.7,1239.9 M1302.5,1060.4 L975.1,1254.2 M1335.7,1075.1 L1007.5,1268.4 M1369,1089.8 L1039.8,1282.7 M1402.3,1104.4 L1072.2,1296.9 M1435.5,1119.1 L1104.6,1311.2" fill="none" stroke="#ececec" stroke-width="2.1"/>
<polyline points="757.5,820 444.6,1020.8 1137,1325.4 1468.8,1133.8" fill="none" stroke="#7f7f7f" stroke-width="1"/>
<polyline points="757.5,820 1468.8,1133.8" fill="none" stroke="#9a9a9a" stroke-width="0.9"/>
<polygon points="482.8,886.8 531.6,860.2 531.6,884.2 482.8,911.8" fill="rgba(0,0,0,0.07)"/>
<polygon points="533.9,850.5 549.8,857.2 549.8,824.2 533.9,817.5" fill="#fafafa" stroke="#b3b3b3" stroke-width="0.5" stroke-linejoin="round"/>
<polygon points="533.9,817.5 549.8,824.2 553.5,821.9 537.6,815.2" fill="#ffffff" stroke="#b3b3b3" stroke-width="0.4" stroke-linejoin="round"/>
<polygon points="530.2,852.8 546.1,859.5 546.1,826.5 530.2,819.8" fill="#ededed" stroke="#b3b3b3" stroke-width="0.5" stroke-linejoin="round"/>
<polygon points="530.2,819.8 546.1,826.5 549.8,824.2 533.9,817.5" fill="#ffffff" stroke="#b3b3b3" stroke-width="0.4" stroke-linejoin="round"/>
<polygon points="526.5,855.2 542.4,861.9 542.4,828.9 526.5,822.2" fill="#fafafa" stroke="#b3b3b3" stroke-width="0.5" stroke-linejoin="round"/>
<polygon points="526.5,822.2 542.4,828.9 546.1,826.5 530.2,819.8" fill="#ffffff" stroke="#b3b3b3" stroke-width="0.4" stroke-linejoin="round"/>
<polygon points="522.8,857.5 538.7,864.2 538.7,831.2 522.8,824.5" fill="#fafafa" stroke="#b3b3b3" stroke-width="0.5" stroke-linejoin="round"/>
<polygon points="522.8,824.5 538.7,831.2 542.4,828.9 526.5,822.2" fill="#ffffff" stroke="#b3b3b3" stroke-width="0.4" stroke-linejoin="round"/>
<polygon points="519.1,859.8 535,866.5 535,833.5 519.1,826.8" fill="#ededed" stroke="#b3b3b3" stroke-width="0.5" stroke-linejoin="round"/>
<polygon points="519.1,826.8 535,833.5 538.7,831.2 522.8,824.5" fill="#ffffff" stroke="#b3b3b3" stroke-width="0.4" stroke-linejoin="round"/>
<polygon points="515.4,862.2 531.3,868.9 531.3,835.9 515.4,829.2" fill="#b8b8b8" stroke="#b3b3b3" stroke-width="0.5" stroke-linejoin="round"/>
<polygon points="515.4,829.2 531.3,835.9 535,833.5 519.1,826.8" fill="#ffffff" stroke="#b3b3b3" stroke-width="0.4" stroke-linejoin="round"/>
<polygon points="511.7,864.5 527.6,871.2 527.6,846.2 511.7,839.5" fill="#fafafa" stroke="#b3b3b3" stroke-width="0.5" stroke-linejoin="round"/>
<polygon points="511.7,839.5 527.6,846.2 531.3,843.9 515.4,837.2" fill="#ffffff" stroke="#b3b3b3" stroke-width="0.4" stroke-linejoin="round"/>
<polygon points="508,866.8 523.9,873.5 523.9,848.5 508,841.8" fill="#ededed" stroke="#b3b3b3" stroke-width="0.5" stroke-linejoin="round"/>
<polygon points="508,841.8 523.9,848.5 527.6,846.2 511.7,839.5" fill="#ffffff" stroke="#b3b3b3" stroke-width="0.4" stroke-linejoin="round"/>
<polygon points="504.3,869.1 520.2,875.9 520.2,850.9 504.3,844.1" fill="#fafafa" stroke="#b3b3b3" stroke-width="0.5" stroke-linejoin="round"/>
<polygon points="504.3,844.1 520.2,850.9 523.9,848.5 508,841.8" fill="#ffffff" stroke="#b3b3b3" stroke-width="0.4" stroke-linejoin="round"/>
<polygon points="500.6,871.5 516.5,878.2 516.5,853.2 500.6,846.5" fill="#fafafa" stroke="#b3b3b3" stroke-width="0.5" stroke-linejoin="round"/>
<polygon points="500.6,846.5 516.5,853.2 520.2,850.8 504.3,844.1" fill="#ffffff" stroke="#b3b3b3" stroke-width="0.4" stroke-linejoin="round"/>
<polygon points="496.9,873.8 512.8,880.5 512.8,855.5 496.9,848.8" fill="#ededed" stroke="#b3b3b3" stroke-width="0.5" stroke-linejoin="round"/>
<polygon points="496.9,848.8 512.8,855.5 516.5,853.2 500.6,846.5" fill="#ffffff" stroke="#b3b3b3" stroke-width="0.4" stroke-linejoin="round"/>
<polygon points="493.2,876.1 509.1,882.8 509.1,857.8 493.2,851.1" fill="#fafafa" stroke="#b3b3b3" stroke-width="0.5" stroke-linejoin="round"/>
<polygon points="493.2,851.1 509.1,857.8 512.8,855.5 496.9,848.8" fill="#ffffff" stroke="#b3b3b3" stroke-width="0.4" stroke-linejoin="round"/>
<polygon points="489.5,878.5 505.4,885.2 505.4,860.2 489.5,853.5" fill="#fafafa" stroke="#b3b3b3" stroke-width="0.5" stroke-linejoin="round"/>
<polygon points="489.5,853.5 505.4,860.2 509.1,857.8 493.2,851.1" fill="#ffffff" stroke="#b3b3b3" stroke-width="0.4" stroke-linejoin="round"/>
<polygon points="485.8,880.8 501.7,887.5 501.7,862.5 485.8,855.8" fill="#f0f0f0" stroke="#b3b3b3" stroke-width="0.5" stroke-linejoin="round"/>
<polygon points="485.8,855.8 501.7,862.5 505.4,860.2 489.5,853.5" fill="#ffffff" stroke="#b3b3b3" stroke-width="0.4" stroke-linejoin="round"/>
<polygon points="501.7,887.5 505.4,885.2 505.4,860.2 501.7,862.5" fill="#e2e2e2" stroke="#b3b3b3" stroke-width="0.4" stroke-linejoin="round"/>
<polygon points="505.4,885.2 509.1,882.8 509.1,857.8 505.4,860.2" fill="#f4f4f4" stroke="#b3b3b3" stroke-width="0.4" stroke-linejoin="round"/>
<polygon points="509.1,882.8 512.8,880.5 512.8,855.5 509.1,857.8" fill="#e2e2e2" stroke="#b3b3b3" stroke-width="0.4" stroke-linejoin="round"/>
<polygon points="512.8,880.5 516.5,878.2 516.5,853.2 512.8,855.5" fill="#f4f4f4" stroke="#b3b3b3" stroke-width="0.4" stroke-linejoin="round"/>
<polygon points="516.5,878.2 520.2,875.8 520.2,850.8 516.5,853.2" fill="#e2e2e2" stroke="#b3b3b3" stroke-width="0.4" stroke-linejoin="round"/>
<polygon points="520.2,875.9 523.9,873.5 523.9,848.5 520.2,850.9" fill="#f4f4f4" stroke="#b3b3b3" stroke-width="0.4" stroke-linejoin="round"/>
<polygon points="523.9,873.5 527.6,871.2 527.6,846.2 523.9,848.5" fill="#e2e2e2" stroke="#b3b3b3" stroke-width="0.4" stroke-linejoin="round"/>
<polygon points="527.6,871.2 531.3,868.9 531.3,843.9 527.6,846.2" fill="#f4f4f4" stroke="#b3b3b3" stroke-width="0.4" stroke-linejoin="round"/>
<polygon points="531.3,868.9 535,866.5 535,833.5 531.3,835.9" fill="#e2e2e2" stroke="#b3b3b3" stroke-width="0.4" stroke-linejoin="round"/>
<polygon points="535,866.5 538.7,864.2 538.7,831.2 535,833.5" fill="#f4f4f4" stroke="#b3b3b3" stroke-width="0.4" stroke-linejoin="round"/>
<polygon points="538.7,864.2 542.4,861.9 542.4,828.9 538.7,831.2" fill="#e2e2e2" stroke="#b3b3b3" stroke-width="0.4" stroke-linejoin="round"/>
<polygon points="542.4,861.9 546.1,859.5 546.1,826.5 542.4,828.9" fill="#f4f4f4" stroke="#b3b3b3" stroke-width="0.4" stroke-linejoin="round"/>
<polygon points="546.1,859.5 549.8,857.2 549.8,824.2 546.1,826.5" fill="#e2e2e2" stroke="#b3b3b3" stroke-width="0.4" stroke-linejoin="round"/>
<polygon points="549.8,857.2 553.5,854.9 553.5,821.9 549.8,824.2" fill="#f4f4f4" stroke="#b3b3b3" stroke-width="0.4" stroke-linejoin="round"/>
<polygon points="553.5,854.9 553.5,818.9 540.6,809.2 540.6,849.2" fill="rgba(255,255,255,0.35)" stroke="#b3b3b3" stroke-width="0.4" stroke-linejoin="round"/>
<polygon points="501.7,887.5 553.5,854.9 553.5,857.5 501.7,890.1" fill="#fafafa" stroke="#b3b3b3" stroke-width="0.5" stroke-linejoin="round"/>
<polygon points="485.8,880.8 501.7,887.5 501.7,890.1 485.8,883.4" fill="#e6e6e6" stroke="#b3b3b3" stroke-width="0.5" stroke-linejoin="round"/>
<polygon points="465.3,954.3 514.1,927.7 514.1,951.7 465.3,979.3" fill="rgba(0,0,0,0.07)"/>
<polygon points="516.4,918 532.3,924.7 532.3,891.7 516.4,885" fill="#fafafa" stroke="#b3b3b3" stroke-width="0.5" stroke-linejoin="round"/>
<polygon points="516.4,885 532.3,891.7 536,889.4 520.1,882.7" fill="#ffffff" stroke="#b3b3b3" stroke-width="0.4" stroke-linejoin="round"/>
<polygon points="512.7,920.3 528.6,927 528.6,894 512.7,887.3" fill="#ededed" stroke="#b3b3b3" stroke-width="0.5" stroke-linejoin="round"/>
<polygon points="512.7,887.3 528.6,894 532.3,891.7 516.4,885" fill="#ffffff" stroke="#b3b3b3" stroke-width="0.4" stroke-linejoin="round"/>
<polygon points="509,922.7 524.9,929.4 524.9,896.4 509,889.7" fill="#fafafa" stroke="#b3b3b3" stroke-width="0.5" stroke-linejoin="round"/>
<polygon points="509,889.7 524.9,896.4 528.6,894 512.7,887.3" fill="#ffffff" stroke="#b3b3b3" stroke-width="0.4" stroke-linejoin="round"/>
<polygon points="505.3,925 521.2,931.7 521.2,898.7 505.3,892" fill="#fafafa" stroke="#b3b3b3" stroke-width="0.5" stroke-linejoin="round"/>
<polygon points="505.3,892 521.2,898.7 524.9,896.4 509,889.7" fill="#ffffff" stroke="#b3b3b3" stroke-width="0.4" stroke-linejoin="round"/>
<polygon points="501.6,927.3 517.5,934 517.5,901 501.6,894.3" fill="#ededed" stroke="#b3b3b3" stroke-width="0.5" stroke-linejoin="round"/>
<polygon points="501.6,894.3 517.5,901 521.2,898.7 505.3,892" fill="#ffffff" stroke="#b3b3b3" stroke-width="0.4" stroke-linejoin="round"/>
<polygon points="497.9,929.7 513.8,936.4 513.8,903.4 497.9,896.7" fill="#b8b8b8" stroke="#b3b3b3" stroke-width="0.5" stroke-linejoin="round"/>
<polygon points="497.9,896.7 513.8,903.4 517.5,901 501.6,894.3" fill="#ffffff" stroke="#b3b3b3" stroke-width="0.4" stroke-linejoin="round"/>
<polygon points="494.2,932 510.1,938.7 510.1,913.7 494.2,907" fill="#fafafa" stroke="#b3b3b3" stroke-width="0.5" stroke-linejoin="round"/>
<polygon points="494.2,907 510.1,913.7 513.8,911.4 497.9,904.7" fill="#ffffff" stroke="#b3b3b3" stroke-width="0.4" stroke-linejoin="round"/>
<polygon points="490.5,934.3 506.4,941 506.4,916 490.5,909.3" fill="#ededed" stroke="#b3b3b3" stroke-width="0.5" stroke-linejoin="round"/>
<polygon points="490.5,909.3 506.4,916 510.1,913.7 494.2,907" fill="#ffffff" stroke="#b3b3b3" stroke-width="0.4" stroke-linejoin="round"/>
<polygon points="486.8,936.6 502.7,943.4 502.7,918.4 486.8,911.6" fill="#fafafa" stroke="#b3b3b3" stroke-width="0.5" stroke-linejoin="round"/>
<polygon points="486.8,911.6 502.7,918.4 506.4,916 490.5,909.3" fill="#ffffff" stroke="#b3b3b3" stroke-width="0.4" stroke-linejoin="round"/>
<polygon points="483.1,939 499,945.7 499,920.7 483.1,914" fill="#fafafa" stroke="#b3b3b3" stroke-width="0.5" stroke-linejoin="round"/>
<polygon points="483.1,914 499,920.7 502.7,918.3 486.8,911.6" fill="#ffffff" stroke="#b3b3b3" stroke-width="0.4" stroke-linejoin="round"/>
<polygon points="479.4,941.3 495.3,948 495.3,923 479.4,916.3" fill="#ededed" stroke="#b3b3b3" stroke-width="0.5" stroke-linejoin="round"/>
<polygon points="479.4,916.3 495.3,923 499,920.7 483.1,914" fill="#ffffff" stroke="#b3b3b3" stroke-width="0.4" stroke-linejoin="round"/>
<polygon points="475.7,943.6 491.6,950.3 491.6,925.3 475.7,918.6" fill="#fafafa" stroke="#b3b3b3" stroke-width="0.5" stroke-linejoin="round"/>
<polygon points="475.7,918.6 491.6,925.3 495.3,923 479.4,916.3" fill="#ffffff" stroke="#b3b3b3" stroke-width="0.4" stroke-linejoin="round"/>
<polygon points="472,946 487.9,952.7 487.9,927.7 472,921" fill="#fafafa" stroke="#b3b3b3" stroke-width="0.5" stroke-linejoin="round"/>
<polygon points="472,921 487.9,927.7 491.6,925.3 475.7,918.6" fill="#ffffff" stroke="#b3b3b3" stroke-width="0.4" stroke-linejoin="round"/>
<polygon points="468.3,948.3 484.2,955 484.2,930 468.3,923.3" fill="#f0f0f0" stroke="#b3b3b3" stroke-width="0.5" stroke-linejoin="round"/>
<polygon points="468.3,923.3 484.2,930 487.9,927.7 472,921" fill="#ffffff" stroke="#b3b3b3" stroke-width="0.4" stroke-linejoin="round"/>
<polygon points="484.2,955 487.9,952.7 487.9,927.7 484.2,930" fill="#e2e2e2" stroke="#b3b3b3" stroke-width="0.4" stroke-linejoin="round"/>
<polygon points="487.9,952.7 491.6,950.3 491.6,925.3 487.9,927.7" fill="#f4f4f4" stroke="#b3b3b3" stroke-width="0.4" stroke-linejoin="round"/>
<polygon points="491.6,950.3 495.3,948 495.3,923 491.6,925.3" fill="#e2e2e2" stroke="#b3b3b3" stroke-width="0.4" stroke-linejoin="round"/>
<polygon points="495.3,948 499,945.7 499,920.7 495.3,923" fill="#f4f4f4" stroke="#b3b3b3" stroke-width="0.4" stroke-linejoin="round"/>
<polygon points="499,945.7 502.7,943.3 502.7,918.3 499,920.7" fill="#e2e2e2" stroke="#b3b3b3" stroke-width="0.4" stroke-linejoin="round"/>
<polygon points="502.7,943.4 506.4,941 506.4,916 502.7,918.4" fill="#f4f4f4" stroke="#b3b3b3" stroke-width="0.4" stroke-linejoin="round"/>
<polygon points="506.4,941 510.1,938.7 510.1,913.7 506.4,916" fill="#e2e2e2" stroke="#b3b3b3" stroke-width="0.4" stroke-linejoin="round"/>
<polygon points="510.1,938.7 513.8,936.4 513.8,911.4 510.1,913.7" fill="#f4f4f4" stroke="#b3b3b3" stroke-width="0.4" stroke-linejoin="round"/>
<polygon points="513.8,936.4 517.5,934 517.5,901 513.8,903.4" fill="#e2e2e2" stroke="#b3b3b3" stroke-width="0.4" stroke-linejoin="round"/>
<polygon points="517.5,934 521.2,931.7 521.2,898.7 517.5,901" fill="#f4f4f4" stroke="#b3b3b3" stroke-width="0.4" stroke-linejoin="round"/>
<polygon points="521.2,931.7 524.9,929.4 524.9,896.4 521.2,898.7" fill="#e2e2e2" stroke="#b3b3b3" stroke-width="0.4" stroke-linejoin="round"/>
<polygon points="524.9,929.4 528.6,927 528.6,894 524.9,896.4" fill="#f4f4f4" stroke="#b3b3b3" stroke-width="0.4" stroke-linejoin="round"/>
<polygon points="528.6,927 532.3,924.7 532.3,891.7 528.6,894" fill="#e2e2e2" stroke="#b3b3b3" stroke-width="0.4" stroke-linejoin="round"/>
<polygon points="532.3,924.7 536,922.4 536,889.4 532.3,891.7" fill="#f4f4f4" stroke="#b3b3b3" stroke-width="0.4" stroke-linejoin="round"/>
<polygon points="536,922.4 536,886.4 523.1,876.7 523.1,916.7" fill="rgba(255,255,255,0.35)" stroke="#b3b3b3" stroke-width="0.4" stroke-linejoin="round"/>
<polygon points="484.2,955 536,922.4 536,925 484.2,957.6" fill="#fafafa" stroke="#b3b3b3" stroke-width="0.5" stroke-linejoin="round"/>
<polygon points="468.3,948.3 484.2,955 484.2,957.6 468.3,950.9" fill="#e6e6e6" stroke="#b3b3b3" stroke-width="0.5" stroke-linejoin="round"/>
<polygon points="571.3,791.7 676.7,725.8 676.7,828.3 571.3,895.3" fill="url(#screenL)" stroke="#8a8a8a" stroke-width="2.2" stroke-linejoin="round"/>
<polygon points="719,770 743.5,779.8 743.5,859.8 719,848" fill="#bdbdbd"/>
<polygon points="743.5,779.8 781,755.6 781,832.6 743.5,859.8" fill="#ebebeb" stroke="#bababa" stroke-width="0.8" stroke-linejoin="round"/>
<polygon points="746.7,788.3 777.8,764.1 777.8,827.6 746.7,854.3" fill="#b9b9b9" stroke="#bababa" stroke-width="0.6" stroke-linejoin="round"/>
<polygon points="746.7,810.3 777.8,785.3 777.8,795.3 746.7,814.3" fill="#cfcfcf"/>
<polyline points="746.7,810.3 777.8,785.3" fill="none" stroke="#ebebeb" stroke-width="1.6"/>
<polygon points="746.7,832.3 777.8,806.4 777.8,816.4 746.7,836.3" fill="#cfcfcf"/>
<polyline points="746.7,832.3 777.8,806.4" fill="none" stroke="#ebebeb" stroke-width="1.6"/>
<polygon points="742.5,858.8 746.5,858.8 746.5,863.8 742.5,862.8" fill="#ebebeb" stroke="#bababa" stroke-width="0.5" stroke-linejoin="round"/>
<polygon points="778,831.6 781.5,830.6 781.5,835.6 778,836.6" fill="#ebebeb" stroke="#bababa" stroke-width="0.5" stroke-linejoin="round"/>
<polygon points="719,770 756.5,745.8 781,755.6 743.5,779.8" fill="#f8f8f8" stroke="#bababa" stroke-width="0.8" stroke-linejoin="round"/>
<path d="M701,890 A6,6 0 0 1 712,884" fill="none" stroke="#666" stroke-width="1"/>
<polygon points="695,897.5 732.5,911.7 732.5,923.3 695,907.5" fill="#f1f1f1" stroke="#bababa" stroke-width="0.8" stroke-linejoin="round"/>
<polygon points="732.5,911.7 760.8,894 760.8,904 732.5,923.3" fill="#c9c9c9" stroke="#bababa" stroke-width="0.8" stroke-linejoin="round"/>
<polygon points="695,897.5 723.3,877.5 760.8,894 732.5,911.7" fill="#f8f8f8" stroke="#bababa" stroke-width="0.8" stroke-linejoin="round"/>
<polyline points="712,892 725,883.7" fill="none" stroke="#8c8c8c" stroke-width="1.1"/>
<polyline points="716.6,894 729.6,885.7" fill="none" stroke="#8c8c8c" stroke-width="1.1"/>
<polyline points="721.2,896 734.2,887.7" fill="none" stroke="#8c8c8c" stroke-width="1.1"/>
<polyline points="725.8,898 738.8,889.7" fill="none" stroke="#8c8c8c" stroke-width="1.1"/>
<polygon points="836,685.5 887,706.3 887,768.5 883.3,770.8 883.3,708.3 832.5,687.5" fill="#dcdcdc"/>
<polygon points="832.5,687.5 883.3,708.3 883.3,770.8 832.5,750" fill="#8e8e8e"/>
<polygon points="839.7,699 876,714 876,760 839.7,745" fill="#d8d8d8"/>
<polygon points="940.5,693 1120.8,770 1120.8,898 940.5,818" fill="#fbfbfb" stroke="#c6c6c6" stroke-width="0.9" stroke-linejoin="round"/>
<polygon points="950,770 1111,840 1111,880.5 950,810" fill="#e2e2e2"/>
<polygon points="1030,805 1111,840 1111,880.5 1050,853.5" fill="#ebebeb"/>
<polygon points="946,700.1 1119,773.9 1119,777.7 946,703.9" fill="#d2d2d2"/>
<polygon points="937,692.7 1121,771.5 1121,775.7 937,696.9" fill="#fdfdfd"/>
<polygon points="946,709.2 1119,783 1119,786.8 946,713" fill="#d2d2d2"/>
<polygon points="937,701.8 1121,780.6 1121,784.8 937,706" fill="#fdfdfd"/>
<polygon points="946,718.3 1119,792.1 1119,795.9 946,722.1" fill="#d2d2d2"/>
<polygon points="937,710.9 1121,789.7 1121,793.9 937,715.1" fill="#fdfdfd"/>
<polygon points="946,727.4 1119,801.2 1119,805 946,731.2" fill="#d2d2d2"/>
<polygon points="937,720 1121,798.8 1121,803 937,724.2" fill="#fdfdfd"/>
<polygon points="946,736.5 1119,810.3 1119,814.1 946,740.3" fill="#d2d2d2"/>
<polygon points="937,729.1 1121,807.9 1121,812.1 937,733.3" fill="#fdfdfd"/>
<polygon points="946,745.6 1119,819.4 1119,823.2 946,749.4" fill="#d2d2d2"/>
<polygon points="937,738.2 1121,817 1121,821.2 937,742.4" fill="#fdfdfd"/>
<polygon points="946,754.7 1119,828.5 1119,832.3 946,758.5" fill="#d2d2d2"/>
<polygon points="937,747.3 1121,826.1 1121,830.3 937,751.5" fill="#fdfdfd"/>
<polygon points="946,763.8 1119,837.6 1119,841.4 946,767.6" fill="#d2d2d2"/>
<polygon points="937,756.4 1121,835.2 1121,839.4 937,760.6" fill="#fdfdfd"/>
<polyline points="941.8,694 941.8,766" fill="none" stroke="#cfcfcf" stroke-width="0.8" stroke-dasharray="3 5"/>
<polyline points="951.3,698 951.3,770" fill="none" stroke="#b5b5b5" stroke-width="0.8" stroke-dasharray="4 5"/>
<polyline points="1110,766 1110,838" fill="none" stroke="#c9c9c9" stroke-width="0.8" stroke-dasharray="4 5"/>
<polyline points="1110,843 1110,862" fill="none" stroke="#aaa" stroke-width="0.8"/>
<rect x="1108.5" y="860" width="3.2" height="12" fill="#a9a9a9"/>
<ellipse cx="957" cy="937" rx="16.5" ry="7.5" fill="#f7f7f7" stroke="#a9a9a9" stroke-width="0.8"/>
<rect x="955.5" y="862.5" width="3" height="73.5" fill="#bdbdbd"/>
<path d="M946.5,843.5 C944,850.5 938,859.5 936,864.5 Q957,876 978,864.5 C976,859.5 970,850.5 967.5,843.5 Z" fill="#f4f4f4" stroke="#a9a9a9" stroke-width="0.8"/>
<ellipse cx="957" cy="844" rx="10.5" ry="4.4" fill="url(#binIn)" stroke="#a9a9a9" stroke-width="0.7"/>
<path d="M1009.1,906.1 Q1009.5,898.9 1015.9,901.7 L1114.3,944.1 Q1121.5,947.7 1121.1,955.7 L1121.1,958.9 L1111.1,971.7 L1009.1,928.5 Z" fill="url(#sofaBackL)"/>
<path d="M967.5,934.1 L1009.1,905.3 L1009.1,928.5 L978.3,949.3 L978.3,933.3 Z" fill="url(#sofaArmL)"/>
<polygon points="978.3,949.3 1008.5,928.5 1111.1,971.7 1080.7,992.5" fill="url(#sofaSeatL)"/>
<polygon points="975.9,953.3 1078.3,1000.1 1078.3,1009.3 975.9,962.5" fill="#b5b5b5"/>
<polyline points="976.7,963.1 1078.3,1009.9" fill="none" stroke="#2e2e2e" stroke-width="1.4"/>
<path d="M1077.1,982.9 L1114.3,956.9 Q1121.5,953.3 1121.1,960.5 L1121.1,992.5 L1087.1,1014.1 L1087.1,981.3 Z" fill="url(#sofaArm2L)"/>
<path d="M1077.1,985.3 Q1077.1,979.3 1082.3,978.5 Q1087.1,978.1 1087.1,983.7 L1087.1,1014.1 L1077.1,1010.5 Z" fill="url(#sofaBlkL)"/>
<path d="M967.5,936.5 Q967.5,930.5 972.7,929.7 Q978.3,929.3 978.3,934.9 L978.3,967.7 L967.5,964.9 Z" fill="url(#sofaBlkL)"/>
<polygon points="1258,836.5 1308,856.5 1308,918 1305,920 1305,858.3 1255,838.3" fill="#e4e4e4"/>
<polygon points="1255,838.3 1305,858.3 1305,920 1255,900" fill="#ababab"/>
<polygon points="1262.5,850 1297.5,864 1297.5,909 1262.5,895" fill="#e3e3e3"/>
<polygon points="1330,975 1444,1026 1444,1040 1330,990" fill="rgba(0,0,0,0.05)"/>
<polygon points="1317.5,945.5 1322,943.5 1322,971 1317.5,969" fill="#f4f4f4" stroke="#a8a8a8" stroke-width="0.5" stroke-linejoin="round"/>
<polygon points="1322,971 1326.6,973.1 1326.6,948.1 1322,946" fill="#ececec" stroke="#a8a8a8" stroke-width="0.5" stroke-linejoin="round"/>
<polygon points="1322,946 1326.6,948.1 1329.3,945.7 1324.7,943.7" fill="#fff" stroke="#a8a8a8" stroke-width="0.3" stroke-linejoin="round"/>
<polygon points="1326.6,973.1 1331.2,975.1 1331.2,950.1 1326.6,948.1" fill="#fcfcfc" stroke="#a8a8a8" stroke-width="0.5" stroke-linejoin="round"/>
<polygon points="1326.6,948.1 1331.2,950.1 1333.9,947.8 1329.3,945.7" fill="#fff" stroke="#a8a8a8" stroke-width="0.3" stroke-linejoin="round"/>
<polygon points="1331.2,975.1 1335.9,977.2 1335.9,953.2 1331.2,951.1" fill="#ececec" stroke="#a8a8a8" stroke-width="0.5" stroke-linejoin="round"/>
<polygon points="1331.2,951.1 1335.9,953.2 1338.6,950.8 1333.9,948.8" fill="#fff" stroke="#a8a8a8" stroke-width="0.3" stroke-linejoin="round"/>
<polygon points="1335.9,977.2 1340.5,979.2 1340.5,951.2 1335.9,949.2" fill="#fcfcfc" stroke="#a8a8a8" stroke-width="0.5" stroke-linejoin="round"/>
<polygon points="1335.9,949.2 1340.5,951.2 1343.2,948.9 1338.6,946.8" fill="#fff" stroke="#a8a8a8" stroke-width="0.3" stroke-linejoin="round"/>
<polygon points="1340.5,979.2 1345.1,981.3 1345.1,953.3 1340.5,951.2" fill="#bdbdbd" stroke="#a8a8a8" stroke-width="0.5" stroke-linejoin="round"/>
<polygon points="1340.5,951.2 1345.1,953.3 1347.8,951 1343.2,948.9" fill="#fff" stroke="#a8a8a8" stroke-width="0.3" stroke-linejoin="round"/>
<polygon points="1345.1,981.3 1349.7,983.4 1349.7,955.4 1345.1,953.3" fill="#fcfcfc" stroke="#a8a8a8" stroke-width="0.5" stroke-linejoin="round"/>
<polygon points="1345.1,953.3 1349.7,955.4 1352.4,953 1347.8,951" fill="#fff" stroke="#a8a8a8" stroke-width="0.3" stroke-linejoin="round"/>
<polygon points="1349.7,983.4 1354.3,985.4 1354.3,961.4 1349.7,959.4" fill="#ececec" stroke="#a8a8a8" stroke-width="0.5" stroke-linejoin="round"/>
<polygon points="1349.7,959.4 1354.3,961.4 1357,959.1 1352.4,957" fill="#fff" stroke="#a8a8a8" stroke-width="0.3" stroke-linejoin="round"/>
<polygon points="1354.3,985.4 1359,987.5 1359,964.5 1354.3,962.4" fill="#fcfcfc" stroke="#a8a8a8" stroke-width="0.5" stroke-linejoin="round"/>
<polygon points="1354.3,962.4 1359,964.5 1361.7,962.1 1357,960.1" fill="#fff" stroke="#a8a8a8" stroke-width="0.3" stroke-linejoin="round"/>
<polygon points="1359,987.5 1363.6,989.5 1363.6,966.5 1359,964.5" fill="#ececec" stroke="#a8a8a8" stroke-width="0.5" stroke-linejoin="round"/>
<polygon points="1359,964.5 1363.6,966.5 1366.3,964.2 1361.7,962.1" fill="#fff" stroke="#a8a8a8" stroke-width="0.3" stroke-linejoin="round"/>
<polygon points="1363.6,989.5 1368.2,991.6 1368.2,967.6 1363.6,965.5" fill="#fcfcfc" stroke="#a8a8a8" stroke-width="0.5" stroke-linejoin="round"/>
<polygon points="1363.6,965.5 1368.2,967.6 1370.9,965.3 1366.3,963.2" fill="#fff" stroke="#a8a8a8" stroke-width="0.3" stroke-linejoin="round"/>
<polygon points="1368.2,991.6 1372.8,993.7 1372.8,970.7 1368.2,968.6" fill="#ececec" stroke="#a8a8a8" stroke-width="0.5" stroke-linejoin="round"/>
<polygon points="1368.2,968.6 1372.8,970.7 1375.5,968.3 1370.9,966.3" fill="#fff" stroke="#a8a8a8" stroke-width="0.3" stroke-linejoin="round"/>
<polygon points="1372.8,993.7 1377.4,995.7 1377.4,972.7 1372.8,970.7" fill="#fcfcfc" stroke="#a8a8a8" stroke-width="0.5" stroke-linejoin="round"/>
<polygon points="1372.8,970.7 1377.4,972.7 1380.1,970.4 1375.5,968.3" fill="#fff" stroke="#a8a8a8" stroke-width="0.3" stroke-linejoin="round"/>
<polygon points="1377.4,995.7 1382.1,997.8 1382.1,973.8 1377.4,971.7" fill="#ececec" stroke="#a8a8a8" stroke-width="0.5" stroke-linejoin="round"/>
<polygon points="1377.4,971.7 1382.1,973.8 1384.8,971.4 1380.1,969.4" fill="#fff" stroke="#a8a8a8" stroke-width="0.3" stroke-linejoin="round"/>
<polygon points="1382.1,997.8 1386.7,999.8 1386.7,975.8 1382.1,973.8" fill="#fcfcfc" stroke="#a8a8a8" stroke-width="0.5" stroke-linejoin="round"/>
<polygon points="1382.1,973.8 1386.7,975.8 1389.4,973.5 1384.8,971.4" fill="#fff" stroke="#a8a8a8" stroke-width="0.3" stroke-linejoin="round"/>
<polygon points="1386.7,999.8 1391.3,1001.9 1391.3,974.9 1386.7,972.8" fill="#ececec" stroke="#a8a8a8" stroke-width="0.5" stroke-linejoin="round"/>
<polygon points="1386.7,972.8 1391.3,974.9 1394,972.6 1389.4,970.5" fill="#fff" stroke="#a8a8a8" stroke-width="0.3" stroke-linejoin="round"/>
<polygon points="1391.3,1001.9 1395.9,1004 1395.9,977 1391.3,974.9" fill="#bdbdbd" stroke="#a8a8a8" stroke-width="0.5" stroke-linejoin="round"/>
<polygon points="1391.3,974.9 1395.9,977 1398.6,974.6 1394,972.6" fill="#fff" stroke="#a8a8a8" stroke-width="0.3" stroke-linejoin="round"/>
<polygon points="1395.9,1004 1400.5,1006 1400.5,982 1395.9,980" fill="#ececec" stroke="#a8a8a8" stroke-width="0.5" stroke-linejoin="round"/>
<polygon points="1395.9,980 1400.5,982 1403.2,979.7 1398.6,977.6" fill="#fff" stroke="#a8a8a8" stroke-width="0.3" stroke-linejoin="round"/>
<polygon points="1400.5,1006 1405.2,1008.1 1405.2,981.1 1400.5,979" fill="#fcfcfc" stroke="#a8a8a8" stroke-width="0.5" stroke-linejoin="round"/>
<polygon points="1400.5,979 1405.2,981.1 1407.9,978.7 1403.2,976.7" fill="#fff" stroke="#a8a8a8" stroke-width="0.3" stroke-linejoin="round"/>
<polygon points="1405.2,1008.1 1409.8,1010.1 1409.8,983.1 1405.2,981.1" fill="#bdbdbd" stroke="#a8a8a8" stroke-width="0.5" stroke-linejoin="round"/>
<polygon points="1405.2,981.1 1409.8,983.1 1412.5,980.8 1407.9,978.7" fill="#fff" stroke="#a8a8a8" stroke-width="0.3" stroke-linejoin="round"/>
<polygon points="1409.8,1010.1 1414.4,1012.2 1414.4,989.2 1409.8,987.1" fill="#fcfcfc" stroke="#a8a8a8" stroke-width="0.5" stroke-linejoin="round"/>
<polygon points="1409.8,987.1 1414.4,989.2 1417.1,986.9 1412.5,984.8" fill="#fff" stroke="#a8a8a8" stroke-width="0.3" stroke-linejoin="round"/>
<polygon points="1414.4,1012.2 1419,1014.3 1419,991.3 1414.4,989.2" fill="#ececec" stroke="#a8a8a8" stroke-width="0.5" stroke-linejoin="round"/>
<polygon points="1414.4,989.2 1419,991.3 1421.7,988.9 1417.1,986.9" fill="#fff" stroke="#a8a8a8" stroke-width="0.3" stroke-linejoin="round"/>
<polygon points="1419,1014.3 1423.6,1016.3 1423.6,992.3 1419,990.3" fill="#fcfcfc" stroke="#a8a8a8" stroke-width="0.5" stroke-linejoin="round"/>
<polygon points="1419,990.3 1423.6,992.3 1426.3,990 1421.7,987.9" fill="#fff" stroke="#a8a8a8" stroke-width="0.3" stroke-linejoin="round"/>
<polygon points="1423.6,1016.3 1428.3,1018.4 1428.3,995.4 1423.6,993.3" fill="#ececec" stroke="#a8a8a8" stroke-width="0.5" stroke-linejoin="round"/>
<polygon points="1423.6,993.3 1428.3,995.4 1431,993 1426.3,991" fill="#fff" stroke="#a8a8a8" stroke-width="0.3" stroke-linejoin="round"/>
<polygon points="1428.3,1018.4 1432.9,1020.4 1432.9,997.4 1428.3,995.4" fill="#fcfcfc" stroke="#a8a8a8" stroke-width="0.5" stroke-linejoin="round"/>
<polygon points="1428.3,995.4 1432.9,997.4 1435.6,995.1 1431,993" fill="#fff" stroke="#a8a8a8" stroke-width="0.3" stroke-linejoin="round"/>
<polygon points="1432.9,1020.4 1437.5,1022.5 1437.5,998.5 1432.9,996.4" fill="#ececec" stroke="#a8a8a8" stroke-width="0.5" stroke-linejoin="round"/>
<polygon points="1432.9,996.4 1437.5,998.5 1440.2,996.2 1435.6,994.1" fill="#fff" stroke="#a8a8a8" stroke-width="0.3" stroke-linejoin="round"/>
<polygon points="1437.5,1022.5 1442.1,1024.6 1442.1,1000.6 1437.5,998.5" fill="#fcfcfc" stroke="#a8a8a8" stroke-width="0.5" stroke-linejoin="round"/>
<polygon points="1437.5,998.5 1442.1,1000.6 1444.8,998.2 1440.2,996.2" fill="#fff" stroke="#a8a8a8" stroke-width="0.3" stroke-linejoin="round"/>
<polygon points="1442.1,1024.6 1447.1,1022.1 1447.1,998.6 1442.1,1001.1" fill="#e0e0e0" stroke="#a8a8a8" stroke-width="0.5" stroke-linejoin="round"/>
<polygon points="1317.5,970.5 1442.1,1026.1 1442.1,1029.1 1317.5,973.5" fill="#fbfbfb" stroke="#a8a8a8" stroke-width="0.5" stroke-linejoin="round"/>
<polygon points="1442.1,1026.1 1447.1,1023.6 1447.1,1026.6 1442.1,1029.1" fill="#e6e6e6" stroke="#a8a8a8" stroke-width="0.5" stroke-linejoin="round"/>
<polygon points="1128,936.5 1243.8,868.2 1243.8,1034.5 1128,1102.2" fill="rgba(0,0,0,0.10)"/>
<polygon points="1067.5,972.1 1128,936.5 1128,1102.2 1067.5,1137.5" fill="rgba(0,0,0,0.10)"/>
<polygon points="936.2,1049.5 1067.5,972.1 1067.5,1003 1060,1006 993.8,1045 993.8,1180.6 936.2,1214.2" fill="rgba(0,0,0,0.10)"/>
<polygon points="1060,1006 1067.5,1003 1067.5,1137.5 1060,1138.9" fill="rgba(255,255,255,0.35)" stroke="#555" stroke-width="0.7" stroke-linejoin="round"/>
<polyline points="993.8,1180.6 993.8,1045 1060,1006" fill="none" stroke="#555" stroke-width="0.7"/>
<polygon points="929.2,1046.2 936.2,1049.5 936.2,1214.2 929.2,1210" fill="rgba(255,255,255,0.35)" stroke="#555" stroke-width="0.8" stroke-linejoin="round"/>
<polygon points="929.2,1046.2 1237.5,865 1243.8,868.2 936.2,1049.5" fill="rgba(255,255,255,0.45)" stroke="#555" stroke-width="0.8" stroke-linejoin="round"/>
<polyline points="1243.8,868.2 1243.8,988" fill="none" stroke="#b5b5b5" stroke-width="0.8"/>
<polyline points="936.2,1214.2 1060,1141.9" fill="none" stroke="#555" stroke-width="0.7"/>
<polygon points="1160,1095 1260,1040 1300,1058 1200,1118" fill="rgba(0,0,0,0.06)"/>
<polygon points="1215,1118 1300,1070 1340,1090 1255,1140" fill="rgba(0,0,0,0.07)"/>
<polygon points="1290,1062 1380,1098 1400,1088 1320,1050" fill="rgba(0,0,0,0.05)"/>
<path d="M1113,1092.5 L1118.5,1127 Q1130,1134 1142,1127 L1147,1092.5 Z" fill="#f3f3f3" stroke="#bababa" stroke-width="0.8"/>
<ellipse cx="1130" cy="1092.5" rx="17" ry="7.3" fill="url(#binIn)" stroke="#bababa" stroke-width="0.8"/>
<rect x="1145.5" y="1056" width="5.2" height="35" fill="#f2f2f2" stroke="#bababa" stroke-width="0.7"/>
<rect x="1384" y="1063" width="5.2" height="43" fill="#f2f2f2" stroke="#bababa" stroke-width="0.7"/>
<polygon points="1192.5,1081 1271,1037 1271,1062 1192.5,1106" fill="rgba(0,0,0,0.10)"/>
<polygon points="1137.5,1047.5 1192.5,1078.8 1271.3,1034.5 1367.5,1075 1395,1057.5 1395,1060.5 1367.5,1078.2 1271.3,1037.8 1192.5,1082 1137.5,1050.7" fill="#bdbdbd" stroke="#bababa" stroke-width="0.6" stroke-linejoin="round"/>
<polygon points="1137.5,1047.5 1240,988.8 1395,1057.5 1367.5,1075 1271.3,1034.5 1192.5,1078.8" fill="#f4f4f4" stroke="#bababa" stroke-width="0.8" stroke-linejoin="round"/>
<rect x="1188.5" y="1081" width="5.2" height="37" fill="#f2f2f2" stroke="#bababa" stroke-width="0.7"/>
<rect x="1364" y="1077" width="5.2" height="38" fill="#f2f2f2" stroke="#bababa" stroke-width="0.7"/>
<polygon points="1188.8,1025 1222.5,1007.5 1232.5,1013.8 1198.8,1036.2" fill="#f6f6f6" stroke="#bababa" stroke-width="0.7" stroke-linejoin="round"/>
<polygon points="1198.8,1036.2 1232.5,1013.8 1232.5,1016.5 1198.8,1039" fill="#d5d5d5" stroke="#bababa" stroke-width="0.5" stroke-linejoin="round"/>
<polygon points="1181.3,976.3 1232.5,951.3 1236,953.5 1236,1001.5 1185,1030 1181.3,1027.5" fill="#e2e2e2" stroke="#bababa" stroke-width="0.7" stroke-linejoin="round"/>
<polygon points="1181.3,976.3 1232.5,951.3 1232.5,1000 1181.3,1027.5" fill="#f7f7f7" stroke="#bababa" stroke-width="0.7" stroke-linejoin="round"/>
<polygon points="1190,985 1228.8,963.8 1228.8,995 1190,1017.5" fill="url(#monL)" stroke="#9a9a9a" stroke-width="0.6" stroke-linejoin="round"/>
<polygon points="1198,1021 1201,1019.5 1201,1023 1198,1024.5" fill="#666"/>
<ellipse cx="1267.5" cy="1012.5" rx="17" ry="7" fill="#f6f6f6" stroke="#bababa" stroke-width="0.8"/>
<rect x="1266.2" y="996" width="2.8" height="15" fill="#b9b9b9"/>
<path d="M1257,973.5 L1247.5,992 Q1267.5,1004 1288.8,992 L1278,973.5 Z" fill="#f5f5f5" stroke="#bababa" stroke-width="0.8"/>
<ellipse cx="1267.5" cy="973.3" rx="10.5" ry="4.3" fill="#d3d3d3" stroke="#bababa" stroke-width="0.7"/>
<rect x="1230" y="1083" width="4.6" height="43" fill="#f0f0f0" stroke="#bababa" stroke-width="0.7"/>
<rect x="1302" y="1030" width="4.6" height="95" fill="#f0f0f0" stroke="#bababa" stroke-width="0.7"/>
<polygon points="1228.8,1081.3 1261,1061 1306,1080.5 1272.5,1100" fill="#f5f5f5" stroke="#bababa" stroke-width="0.8" stroke-linejoin="round"/>
<polygon points="1228.8,1081.3 1272.5,1100 1272.5,1103 1228.8,1084.3" fill="#cfcfcf" stroke="#bababa" stroke-width="0.5" stroke-linejoin="round"/>
<polygon points="1274.5,1058 1302,1039 1302,1061 1274.5,1080.5" fill="#e6e6e6" stroke="#bababa" stroke-width="0.7" stroke-linejoin="round"/>
<rect x="1270.2" y="1052" width="4.6" height="97" fill="#f0f0f0" stroke="#bababa" stroke-width="0.7"/>
<rect x="1302" y="1030" width="4.6" height="95" fill="#f0f0f0" stroke="#bababa" stroke-width="0.7"/>
<g transform="translate(0 0)" fill="none" stroke="#4d4d4d" stroke-linecap="round">
<path d="M595.3,1317.5 C598.8,1317 609.6,1314.5 616.7,1314.6 C623.8,1314.8 631.2,1316 638,1318.4 C644.9,1320.7 651.7,1324.2 657.8,1328.5 C663.9,1332.8 669.7,1338.3 674.6,1344.3 C679.5,1350.4 683.8,1357.4 687.2,1364.7 C690.6,1372.1 693.2,1380.2 694.9,1388.3 C696.5,1396.4 697.2,1405.1 696.9,1413.4 C696.7,1421.7 693.9,1434.1 693.3,1438.2" stroke-width="24" stroke-opacity="0.7"/>
<path d="M622.8,1263.5 C627.5,1263 641.6,1260.3 650.9,1260.9 C660.3,1261.4 669.8,1263.4 678.7,1266.7 C687.6,1270 696.4,1274.9 704.3,1280.7 C712.2,1286.6 719.7,1293.9 726,1301.9 C732.4,1309.9 738,1319.2 742.4,1328.9 C746.8,1338.5 750.3,1349.2 752.5,1359.9 C754.6,1370.5 755.7,1381.9 755.5,1392.8 C755.3,1403.8 751.9,1420.2 751.2,1425.6" stroke-width="21" stroke-opacity="0.5"/>
<path d="M649.3,1213.3 C655,1212.6 672.4,1208.7 683.9,1209.1 C695.4,1209.5 707.2,1211.7 718.2,1215.7 C729.2,1219.6 740.2,1225.5 749.9,1232.7 C759.7,1239.9 769,1248.9 776.8,1258.9 C784.7,1268.9 791.7,1280.4 797.1,1292.5 C802.5,1304.6 806.7,1317.9 809.2,1331.2 C811.8,1344.5 812.9,1358.7 812.5,1372.3 C812.1,1386 807.6,1406.3 806.7,1413.1" stroke-width="17.5" stroke-opacity="0.31"/>
<path d="M670.7,1160.4 C678.1,1160.5 700.6,1158.9 715.2,1160.9 C729.8,1163 744.5,1167.1 758.2,1172.8 C771.8,1178.5 785.2,1186.2 797.1,1195.2 C809,1204.2 820.1,1215.1 829.4,1226.8 C838.8,1238.6 847,1251.9 853.3,1265.7 C859.6,1279.4 864.3,1294.5 867.2,1309.4 C870,1324.3 871,1340.1 870.2,1355.3 C869.4,1370.5 863.6,1393 862.3,1400.6" stroke-width="12.5" stroke-opacity="0.18"/>
<path d="M695.7,1107.9 C704.1,1108 729.6,1106.4 746.1,1108.9 C762.6,1111.4 779.3,1116.1 794.8,1122.8 C810.4,1129.5 825.5,1138.4 839.2,1148.8 C852.8,1159.3 865.6,1171.9 876.5,1185.5 C887.4,1199.2 897.1,1214.7 904.7,1230.7 C912.3,1246.8 918.3,1264.3 922.2,1281.9 C926.1,1299.5 928.1,1318 928,1336.1 C927.9,1354.2 922.8,1381.2 921.7,1390.2" stroke-width="9" stroke-opacity="0.105"/>
</g>
<g transform="translate(0 0)">
<ellipse cx="480" cy="1492" rx="215" ry="42" fill="url(#rtShadow)" transform="rotate(14 480 1492)"/>
<path d="M416.3,1312 L429.3,1312 L435.2,1342 L409.8,1340 Z" fill="#ededf1" stroke="#dcdde2" stroke-width="0.6"/>
<path d="M416.3,1338 L411.6,1156.6 Q416.2,1146.9 420.8,1156.6 L429.3,1338 Z" fill="url(#ant)" stroke="#d3d5db" stroke-width="0.7"/>
<polyline points="415.5,1304.5 427.8,1305.1" fill="none" stroke="#dcdde2" stroke-width="0.7"/>
<polyline points="415.4,1300.8 427.6,1301.4" fill="none" stroke="#dcdde2" stroke-width="0.7"/>
<polyline points="413.4,1222.7 424,1223.3" fill="none" stroke="#dcdde2" stroke-width="0.7"/>
<polyline points="413.3,1219 423.9,1219.6" fill="none" stroke="#dcdde2" stroke-width="0.7"/>
<path d="M286.3,1430 L286.8,1452 Q287.5,1459 296,1461.5 Q430,1508 556,1522 Q572,1525 586,1517.5 L655,1445 Q662.5,1438 662,1428 L661,1404 L560,1490 Z" fill="#e3e5e9"/>
<path d="M583,1487 L660.5,1404 Q662.5,1420 662,1432 Q662,1439 655,1446 L588,1516.5 Q578,1523.5 566,1523 Z" fill="url(#rtSide)"/>
<path d="M586,1497 L661,1416" fill="none" stroke="#fbfbfc" stroke-width="3"/>
<path d="M587,1503 L661.5,1423" fill="none" stroke="#c9ccd2" stroke-width="1.2"/>
<polyline points="617,1479.5 617.6,1470.5" fill="none" stroke="#c3c6cc" stroke-width="1.3"/>
<polyline points="622.4,1473.9 623,1464.9" fill="none" stroke="#c3c6cc" stroke-width="1.3"/>
<polyline points="627.8,1468.3 628.4,1459.3" fill="none" stroke="#c3c6cc" stroke-width="1.3"/>
<polyline points="633.2,1462.7 633.8,1453.7" fill="none" stroke="#c3c6cc" stroke-width="1.3"/>
<polyline points="638.6,1457.1 639.2,1448.1" fill="none" stroke="#c3c6cc" stroke-width="1.3"/>
<polyline points="644,1451.5 644.6,1442.5" fill="none" stroke="#c3c6cc" stroke-width="1.3"/>
<path d="M286.2,1428 Q285.5,1440 286.8,1452 Q287.5,1459 296,1461.5 Q430,1508 556,1522 Q572,1525 584,1518.5 L584,1488 L292,1424 Z" fill="url(#rtFront)"/>
<polygon points="307.5,1425.8 549.2,1478.3 544.4,1508.3 303.3,1453.3" fill="#0d0c0c"/>
<path d="M286.5,1427.5 Q284.5,1423 291,1417.5 L383,1345.5 Q392.5,1337.5 405,1340.2 L649,1391.8 Q663.5,1395.5 660.5,1405.5 L592,1481 Q582,1492 568,1486.5 Q558,1480 549,1476.5 L480,1457.4 Q400,1441 296,1429.8 Q288.5,1429.5 286.5,1427.5 Z" fill="url(#rtTop)" stroke="#d5d8dd" stroke-width="0.8"/>
<path d="M549,1477.5 Q558,1481 568,1487.5 Q582,1493 592,1482 L660.5,1406.5" fill="none" stroke="#ffffff" stroke-width="2.6" stroke-linecap="round"/>
<path d="M288,1428.8 L296,1430.6 Q400,1442 480,1458.4 L549,1477.5" fill="none" stroke="#ffffff" stroke-width="1.6"/>
<text x="0" y="0" font-size="17" font-weight="bold" fill="#eeeff1" transform="matrix(1.25 0.27 -1.0 0.62 431 1396)" class="ls" letter-spacing="1">EDIMAX</text>
<g transform="matrix(0.977 0.212 -0.15 0.99 307.5 1425.8)" class="ls" fill="#cfcfcf">
<rect x="13" y="11" width="11" height="5.5" rx="1.5" fill="none" stroke="#bdbdbd" stroke-width="0.8"/>
<path d="M11,8 Q8,13.5 11,19 M9,6.5 Q5,13.5 9,20.5 M26,8 Q29,13.5 26,19 M28,6.5 Q32,13.5 28,20.5" fill="none" stroke="#bdbdbd" stroke-width="0.7"/>
<text x="18.5" y="21" font-size="2.6" text-anchor="middle">WPS</text>
<circle cx="42" cy="11" r="1" fill="#888"/><circle cx="42" cy="17" r="1.3" fill="none" stroke="#999" stroke-width="0.5"/>
<text x="51" y="12.6" font-size="3.2">2.4G</text><circle cx="60.5" cy="11.5" r="1" fill="#aaa"/>
<text x="52" y="22" font-size="3.2">5G</text><circle cx="58.5" cy="21" r="1" fill="#aaa"/>
<path d="M57,5 Q59,3.2 61,5 M58,6.2 Q59,5.4 60,6.2" fill="none" stroke="#bbb" stroke-width="0.6"/>
<path d="M76,12 V9.5 H99 M104,9.5 H127 V12" fill="none" stroke="#9a9a9a" stroke-width="0.5"/>
<text x="101.5" y="10.6" font-size="2.8" text-anchor="middle">LAN</text>
<circle cx="76" cy="14.5" r="1.1" fill="#8a8a8a"/><text x="76" y="19.5" font-size="2.4" text-anchor="middle" fill="#777">4</text><circle cx="76" cy="22.5" r="1.1" fill="#8a8a8a"/>
<circle cx="93" cy="14.5" r="1.1" fill="#8a8a8a"/><text x="93" y="19.5" font-size="2.4" text-anchor="middle" fill="#777">3</text><circle cx="93" cy="22.5" r="1.1" fill="#8a8a8a"/>
<circle cx="110" cy="14.5" r="1.1" fill="#8a8a8a"/><text x="110" y="19.5" font-size="2.4" text-anchor="middle" fill="#777">2</text><circle cx="110" cy="22.5" r="1.1" fill="#8a8a8a"/>
<circle cx="127" cy="14.5" r="1.1" fill="#8a8a8a"/><text x="127" y="19.5" font-size="2.4" text-anchor="middle" fill="#777">1</text><circle cx="127" cy="22.5" r="1.1" fill="#8a8a8a"/>
<circle cx="143" cy="12.5" r="2.2" fill="#e6e6e6"/><text x="148" y="13.6" font-size="2.8">Internet</text>
<text x="141" y="18.5" font-size="2.2" fill="#888">WLAN</text>
<circle cx="143" cy="22.5" r="2.2" fill="#8a8a8a"/><text x="148" y="23.6" font-size="2.8" fill="#999">Internet</text>
<text x="203" y="9.5" font-size="2.8" text-anchor="end" fill="#999">BR-6475nD</text>
<text x="240" y="11" font-size="8.3" font-weight="bold" text-anchor="end" fill="#f5f5f5" letter-spacing="-0.2">EDIMAX</text>
<text x="240" y="18.2" font-size="4.4" text-anchor="end" fill="#c9c9c9">300Mbps Wireless</text>
<text x="240" y="24.6" font-size="4.4" text-anchor="end" fill="#c9c9c9">Dual-Band Gigabit iQ Router</text>
</g>
<path d="M643.3,1355 L657.3,1355 L663.6,1385 L636.3,1383 Z" fill="#ededf1" stroke="#dcdde2" stroke-width="0.6"/>
<path d="M643.3,1381 L646.5,1191 Q651.5,1180.5 656.5,1191 L657.3,1381 Z" fill="url(#ant)" stroke="#d3d5db" stroke-width="0.7"/>
<polyline points="643.9,1345.9 657.2,1346.5" fill="none" stroke="#dcdde2" stroke-width="0.7"/>
<polyline points="643.9,1342 657.1,1342.6" fill="none" stroke="#dcdde2" stroke-width="0.7"/>
<polyline points="645.3,1260.1 656.8,1260.7" fill="none" stroke="#dcdde2" stroke-width="0.7"/>
<polyline points="645.3,1256.2 656.8,1256.8" fill="none" stroke="#dcdde2" stroke-width="0.7"/>
</g>
</g>
<g id="sceneR" transform="translate(1780 0)">
<path d="M86,1466 L800,1815.5 Q822,1826 845,1812.5 L1507,1392 L1486,1366 L100,1440 Z" fill="#e3e5e8"/>
<path d="M100.4,1396.7 L830,1740 L830.4,1806.5 L826,1807 Q812,1806.5 799,1799.6 L101.7,1464.5 Z" fill="#d4d7da"/>
<path d="M830.4,1740 L1486.2,1314.5 L1486.2,1374 Q1486.2,1383 1477,1389 L843,1800 Q836,1805 830.4,1806.5 Z" fill="#c2c5c8"/>
<path d="M100.4,1396.7 L101.7,1464.5 L799,1799.6 Q822,1811 843,1800 L1477,1389 Q1486.2,1383 1486.2,1374 L1486.2,1314.5" fill="none" stroke="#85898d" stroke-width="1"/>
<path d="M100.4,1400.5 L100.4,1396.7 L757,990 L1486.2,1314.5 L844,1731 Q828,1741 813,1735 Z" fill="#f6f7f8"/>
<polygon points="445,1193 757.5,1003 1462,1309.5 1129,1505" fill="#e3e4e8"/>
<path d="M109.4,954.6 L757.5,551.5 Q768.5,543.2 781.5,548.7 L1480.7,870.4 L1480.7,1309.6 L1472,1314 L757.5,1003 L113.7,1394 L109.2,1391.5 Z" fill="#f1f3f5"/>
<path d="M113.7,959.8 L752,560.2 Q755.5,558 757.5,556 L757.5,1003 L113.7,1394 Z" fill="#dfe2e6"/>
<path d="M757.5,556 Q766,550.5 778,555.5 L1471.7,875.2 L1472,1314 L757.5,1003 Z" fill="#e9ecef"/>
<path d="M113.7,1394 L109.2,1391.5 L109.4,954.6 L757.5,551.5 Q768.5,543.2 781.5,548.7 L1480.7,870.4 L1480.7,1309.6 L1472,1314" fill="none" stroke="#7f848a" stroke-width="1.1" stroke-linejoin="round"/>
<path d="M113.7,1394 L113.7,959.8 L752,560.2 Q755.5,558 758.5,555.4 Q766,550.5 778,555.5 L1471.7,875.2 L1472,1314" fill="none" stroke="#7f848a" stroke-width="1.1" stroke-linejoin="round"/>
<polyline points="779,554 1474.6,874 1474.6,1312.5" fill="none" stroke="#7f848a" stroke-width="1"/>
<polyline points="1300,1239 1472,1314" fill="none" stroke="#7f848a" stroke-width="0.9"/>
<rect x="752.5" y="558" width="8" height="264" fill="url(#cornerShade)"/>
<polygon points="411.2,1104.3 460,1077.7 460,1101.7 411.2,1129.3" fill="rgba(0,0,0,0.07)"/>
<polygon points="462.3,1068 478.2,1074.7 478.2,1043.7 462.3,1037" fill="#fafafa" stroke="#b3b3b3" stroke-width="0.5" stroke-linejoin="round"/>
<polygon points="462.3,1037 478.2,1043.7 481.9,1041.4 466,1034.7" fill="#ffffff" stroke="#b3b3b3" stroke-width="0.4" stroke-linejoin="round"/>
<polygon points="458.6,1070.3 474.5,1077 474.5,1046 458.6,1039.3" fill="#ededed" stroke="#b3b3b3" stroke-width="0.5" stroke-linejoin="round"/>
<polygon points="458.6,1039.3 474.5,1046 478.2,1043.7 462.3,1037" fill="#ffffff" stroke="#b3b3b3" stroke-width="0.4" stroke-linejoin="round"/>
<polygon points="454.9,1072.7 470.8,1079.4 470.8,1048.4 454.9,1041.7" fill="#fafafa" stroke="#b3b3b3" stroke-width="0.5" stroke-linejoin="round"/>
<polygon points="454.9,1041.7 470.8,1048.4 474.5,1046 458.6,1039.3" fill="#ffffff" stroke="#b3b3b3" stroke-width="0.4" stroke-linejoin="round"/>
<polygon points="451.2,1075 467.1,1081.7 467.1,1050.7 451.2,1044" fill="#fafafa" stroke="#b3b3b3" stroke-width="0.5" stroke-linejoin="round"/>
<polygon points="451.2,1044 467.1,1050.7 470.8,1048.4 454.9,1041.7" fill="#ffffff" stroke="#b3b3b3" stroke-width="0.4" stroke-linejoin="round"/>
<polygon points="447.5,1077.3 463.4,1084 463.4,1053 447.5,1046.3" fill="#ededed" stroke="#b3b3b3" stroke-width="0.5" stroke-linejoin="round"/>
<polygon points="447.5,1046.3 463.4,1053 467.1,1050.7 451.2,1044" fill="#ffffff" stroke="#b3b3b3" stroke-width="0.4" stroke-linejoin="round"/>
<polygon points="443.8,1079.7 459.7,1086.4 459.7,1055.4 443.8,1048.7" fill="#b8b8b8" stroke="#b3b3b3" stroke-width="0.5" stroke-linejoin="round"/>
<polygon points="443.8,1048.7 459.7,1055.4 463.4,1053 447.5,1046.3" fill="#ffffff" stroke="#b3b3b3" stroke-width="0.4" stroke-linejoin="round"/>
<polygon points="440.1,1082 456,1088.7 456,1066.2 440.1,1059.5" fill="#fafafa" stroke="#b3b3b3" stroke-width="0.5" stroke-linejoin="round"/>
<polygon points="440.1,1059.5 456,1066.2 459.7,1063.9 443.8,1057.2" fill="#ffffff" stroke="#b3b3b3" stroke-width="0.4" stroke-linejoin="round"/>
<polygon points="436.4,1084.3 452.3,1091 452.3,1068.5 436.4,1061.8" fill="#ededed" stroke="#b3b3b3" stroke-width="0.5" stroke-linejoin="round"/>
<polygon points="436.4,1061.8 452.3,1068.5 456,1066.2 440.1,1059.5" fill="#ffffff" stroke="#b3b3b3" stroke-width="0.4" stroke-linejoin="round"/>
<polygon points="432.7,1086.6 448.6,1093.3 448.6,1070.8 432.7,1064.1" fill="#fafafa" stroke="#b3b3b3" stroke-width="0.5" stroke-linejoin="round"/>
<polygon points="432.7,1064.1 448.6,1070.8 452.3,1068.5 436.4,1061.8" fill="#ffffff" stroke="#b3b3b3" stroke-width="0.4" stroke-linejoin="round"/>
<polygon points="429,1089 444.9,1095.7 444.9,1073.2 429,1066.5" fill="#fafafa" stroke="#b3b3b3" stroke-width="0.5" stroke-linejoin="round"/>
<polygon points="429,1066.5 444.9,1073.2 448.6,1070.9 432.7,1064.2" fill="#ffffff" stroke="#b3b3b3" stroke-width="0.4" stroke-linejoin="round"/>
<polygon points="425.3,1091.3 441.2,1098 441.2,1075.5 425.3,1068.8" fill="#ededed" stroke="#b3b3b3" stroke-width="0.5" stroke-linejoin="round"/>
<polygon points="425.3,1068.8 441.2,1075.5 444.9,1073.2 429,1066.5" fill="#ffffff" stroke="#b3b3b3" stroke-width="0.4" stroke-linejoin="round"/>
<polygon points="421.6,1093.6 437.5,1100.3 437.5,1077.8 421.6,1071.1" fill="#fafafa" stroke="#b3b3b3" stroke-width="0.5" stroke-linejoin="round"/>
<polygon points="421.6,1071.1 437.5,1077.8 441.2,1075.5 425.3,1068.8" fill="#ffffff" stroke="#b3b3b3" stroke-width="0.4" stroke-linejoin="round"/>
<polygon points="417.9,1096 433.8,1102.7 433.8,1080.2 417.9,1073.5" fill="#fafafa" stroke="#b3b3b3" stroke-width="0.5" stroke-linejoin="round"/>
<polygon points="417.9,1073.5 433.8,1080.2 437.5,1077.8 421.6,1071.1" fill="#ffffff" stroke="#b3b3b3" stroke-width="0.4" stroke-linejoin="round"/>
<polygon points="414.2,1098.3 430.1,1105 430.1,1082.5 414.2,1075.8" fill="#f0f0f0" stroke="#b3b3b3" stroke-width="0.5" stroke-linejoin="round"/>
<polygon points="414.2,1075.8 430.1,1082.5 433.8,1080.2 417.9,1073.5" fill="#ffffff" stroke="#b3b3b3" stroke-width="0.4" stroke-linejoin="round"/>
<polygon points="430.1,1105 433.8,1102.7 433.8,1080.2 430.1,1082.5" fill="#e2e2e2" stroke="#b3b3b3" stroke-width="0.4" stroke-linejoin="round"/>
<polygon points="433.8,1102.7 437.5,1100.3 437.5,1077.8 433.8,1080.2" fill="#f4f4f4" stroke="#b3b3b3" stroke-width="0.4" stroke-linejoin="round"/>
<polygon points="437.5,1100.3 441.2,1098 441.2,1075.5 437.5,1077.8" fill="#e2e2e2" stroke="#b3b3b3" stroke-width="0.4" stroke-linejoin="round"/>
<polygon points="441.2,1098 444.9,1095.7 444.9,1073.2 441.2,1075.5" fill="#f4f4f4" stroke="#b3b3b3" stroke-width="0.4" stroke-linejoin="round"/>
<polygon points="444.9,1095.7 448.6,1093.4 448.6,1070.9 444.9,1073.2" fill="#e2e2e2" stroke="#b3b3b3" stroke-width="0.4" stroke-linejoin="round"/>
<polygon points="448.6,1093.3 452.3,1091 452.3,1068.5 448.6,1070.8" fill="#f4f4f4" stroke="#b3b3b3" stroke-width="0.4" stroke-linejoin="round"/>
<polygon points="452.3,1091 456,1088.7 456,1066.2 452.3,1068.5" fill="#e2e2e2" stroke="#b3b3b3" stroke-width="0.4" stroke-linejoin="round"/>
<polygon points="456,1088.7 459.7,1086.4 459.7,1063.9 456,1066.2" fill="#f4f4f4" stroke="#b3b3b3" stroke-width="0.4" stroke-linejoin="round"/>
<polygon points="459.7,1086.4 463.4,1084 463.4,1053 459.7,1055.4" fill="#e2e2e2" stroke="#b3b3b3" stroke-width="0.4" stroke-linejoin="round"/>
<polygon points="463.4,1084 467.1,1081.7 467.1,1050.7 463.4,1053" fill="#f4f4f4" stroke="#b3b3b3" stroke-width="0.4" stroke-linejoin="round"/>
<polygon points="467.1,1081.7 470.8,1079.4 470.8,1048.4 467.1,1050.7" fill="#e2e2e2" stroke="#b3b3b3" stroke-width="0.4" stroke-linejoin="round"/>
<polygon points="470.8,1079.4 474.5,1077 474.5,1046 470.8,1048.4" fill="#f4f4f4" stroke="#b3b3b3" stroke-width="0.4" stroke-linejoin="round"/>
<polygon points="474.5,1077 478.2,1074.7 478.2,1043.7 474.5,1046" fill="#e2e2e2" stroke="#b3b3b3" stroke-width="0.4" stroke-linejoin="round"/>
<polygon points="478.2,1074.7 481.9,1072.4 481.9,1041.4 478.2,1043.7" fill="#f4f4f4" stroke="#b3b3b3" stroke-width="0.4" stroke-linejoin="round"/>
<polygon points="481.9,1072.4 481.9,1038.4 469,1028.7 469,1066.7" fill="rgba(255,255,255,0.35)" stroke="#b3b3b3" stroke-width="0.4" stroke-linejoin="round"/>
<polygon points="430.1,1105 481.9,1072.4 481.9,1075 430.1,1107.6" fill="#fafafa" stroke="#b3b3b3" stroke-width="0.5" stroke-linejoin="round"/>
<polygon points="414.2,1098.3 430.1,1105 430.1,1107.6 414.2,1100.9" fill="#e6e6e6" stroke="#b3b3b3" stroke-width="0.5" stroke-linejoin="round"/>
<polygon points="485.8,1146.7 566.7,1097.5 566.7,1135.8 485.8,1185.8" fill="#e9ebed" stroke="#b4b8bc" stroke-width="0.8" stroke-linejoin="round"/>
<polygon points="485.8,1124.2 541.7,1089.2 566.7,1097.5 485.8,1146.7" fill="#f8f9fa" stroke="#b4b8bc" stroke-width="0.8" stroke-linejoin="round"/>
<polygon points="563.5,1136 566.7,1134.5 566.7,1139 563.5,1140.5" fill="#e9ebed" stroke="#b4b8bc" stroke-width="0.5" stroke-linejoin="round"/>
<polygon points="422.5,1127.5 447.5,1137.5 447.5,1215.5 422.5,1203.5" fill="#bcbec1"/>
<polygon points="447.5,1137.5 486.2,1112.5 486.2,1187.5 447.5,1215.5" fill="#e9ebed" stroke="#b4b8bc" stroke-width="0.8" stroke-linejoin="round"/>
<polygon points="450.7,1146 483.1,1121 483.1,1182.5 450.7,1210" fill="#a3cbeb" stroke="#b4b8bc" stroke-width="0.6" stroke-linejoin="round"/>
<polygon points="450.7,1167.3 483.1,1141.5 483.1,1151.5 450.7,1171.3" fill="#c3def3"/>
<polyline points="450.7,1167.3 483.1,1141.5" fill="none" stroke="#e9ebed" stroke-width="1.6"/>
<polygon points="450.7,1188.7 483.1,1162 483.1,1172 450.7,1192.7" fill="#c3def3"/>
<polyline points="450.7,1188.7 483.1,1162" fill="none" stroke="#e9ebed" stroke-width="1.6"/>
<polygon points="446.5,1214.5 450.5,1214.5 450.5,1219.5 446.5,1218.5" fill="#e9ebed" stroke="#b4b8bc" stroke-width="0.5" stroke-linejoin="round"/>
<polygon points="483.2,1186.5 486.8,1185.5 486.8,1190.5 483.2,1191.5" fill="#e9ebed" stroke="#b4b8bc" stroke-width="0.5" stroke-linejoin="round"/>
<polygon points="422.5,1127.5 461.2,1102.5 486.2,1112.5 447.5,1137.5" fill="#f8f9fa" stroke="#b4b8bc" stroke-width="0.8" stroke-linejoin="round"/>
<ellipse cx="598" cy="1216" rx="17" ry="7.5" fill="#f7f7f7" stroke="#a9a9a9" stroke-width="0.8"/>
<rect x="596.5" y="1141" width="3" height="74" fill="#bdbdbd"/>
<path d="M587.5,1122 C585,1129 579,1138 577,1143 Q598,1154.5 619,1143 C617,1138 611,1129 608.5,1122 Z" fill="#f4f4f4" stroke="#a9a9a9" stroke-width="0.8"/>
<ellipse cx="598" cy="1122.5" rx="10.5" ry="4.4" fill="url(#binIn)" stroke="#a9a9a9" stroke-width="0.7"/>
<path d="M637.5,1172 Q638,1163 646,1166.5 L769,1219.5 Q778,1224 777.5,1234 L777.5,1238 L765,1254 L637.5,1200 Z" fill="url(#sofaBackR)"/>
<path d="M585.5,1207 L637.5,1171 L637.5,1200 L599,1226 L599,1206 Z" fill="url(#sofaArmR)"/>
<polygon points="599,1226 636.7,1200 765,1254 727,1280" fill="url(#sofaSeatR)"/>
<polygon points="596,1231 724,1289.5 724,1301 596,1242.5" fill="#9da1a6"/>
<polyline points="597,1243.2 724,1301.8" fill="none" stroke="#2e2e2e" stroke-width="1.7"/>
<path d="M722.5,1268 L769,1235.5 Q778,1231 777.5,1240 L777.5,1280 L735,1307 L735,1266 Z" fill="url(#sofaArm2R)"/>
<path d="M722.5,1271 Q722.5,1263.5 729,1262.5 Q735,1262 735,1269 L735,1307 L722.5,1302.5 Z" fill="url(#sofaBlkR)"/>
<path d="M585.5,1210 Q585.5,1202.5 592,1201.5 Q599,1201 599,1208 L599,1249 L585.5,1245.5 Z" fill="url(#sofaBlkR)"/>
<polygon points="541.7,1270.5 692,1337 583,1412 432,1341" fill="#dcdddf"/>
<polygon points="517,1293 585,1323 533,1357 465,1327" fill="none" stroke="#bfc1c4" stroke-width="7" stroke-linejoin="round" stroke-linejoin="round"/>
<polygon points="536,1299 570,1314 544,1331 510,1316" fill="none" stroke="#f2f2f2" stroke-width="6" stroke-linejoin="round" stroke-linejoin="round"/>
<polygon points="577.8,1326.2 639,1353.2 592.2,1383.8 531,1356.8" fill="none" stroke="#bfc1c4" stroke-width="6" stroke-linejoin="round" stroke-linejoin="round"/>
<polygon points="469.4,1329.6 517,1350.6 480.6,1374.4 433,1353.4" fill="none" stroke="#bfc1c4" stroke-width="5" stroke-linejoin="round" stroke-linejoin="round"/>
<polygon points="555.2,1365.8 596,1383.8 564.8,1404.2 524,1386.2" fill="none" stroke="#bfc1c4" stroke-width="5" stroke-linejoin="round" stroke-linejoin="round"/>
<polygon points="328.8,1275 380,1243.8 387.5,1247.5 336.2,1278.8" fill="#b9b9b9"/>
<polygon points="307.5,1191.5 394.5,1141.3 395.5,1230 308.2,1282.5" fill="#fbfbfb" stroke="#b4b8bc" stroke-width="0.6" stroke-linejoin="round"/>
<polygon points="312.5,1196 392.5,1149.5 393.3,1217.5 312.8,1269" fill="url(#tvR)"/>
<polygon points="312.5,1270 395.4,1217.8 395.5,1230 312.6,1282.5" fill="#2b2b2b"/>
<polygon points="307.5,1191.5 310.5,1190 311,1281 308.2,1282.5" fill="#e9e9e9"/>
<ellipse cx="298.1" cy="1301" rx="10" ry="4" fill="#fafafa" stroke="#b4b8bc" stroke-width="0.7"/>
<rect x="296.4" y="1283.5" width="3.4" height="17.5" fill="#c9c9c9"/>
<path d="M292,1210.5 V1283.5 Q298.1,1288.5 304.3,1283.5 V1210.5 Q298.1,1204 292,1210.5 Z" fill="url(#spk)"/>
<ellipse cx="406.4" cy="1236.5" rx="10" ry="4" fill="#fafafa" stroke="#b4b8bc" stroke-width="0.7"/>
<rect x="404.7" y="1218.5" width="3.4" height="18" fill="#c9c9c9"/>
<path d="M400.2,1144 V1218.5 Q406.4,1223.5 412.6,1218.5 V1144 Q406.4,1137.5 400.2,1144 Z" fill="url(#spk)"/>
<polygon points="218.8,1256.2 243.8,1266.2 243.8,1343.2 218.8,1331.2" fill="#bcbec1"/>
<polygon points="243.8,1266.2 281.2,1242.1 281.2,1316.1 243.8,1343.2" fill="#e9ebed" stroke="#b4b8bc" stroke-width="0.8" stroke-linejoin="round"/>
<polygon points="246.9,1274.8 278.1,1250.6 278.1,1311.1 246.9,1337.8" fill="#a3cbeb" stroke="#b4b8bc" stroke-width="0.6" stroke-linejoin="round"/>
<polygon points="246.9,1295.8 278.1,1270.7 278.1,1280.7 246.9,1299.8" fill="#c3def3"/>
<polyline points="246.9,1295.8 278.1,1270.7" fill="none" stroke="#e9ebed" stroke-width="1.6"/>
<polygon points="246.9,1316.8 278.1,1290.9 278.1,1300.9 246.9,1320.8" fill="#c3def3"/>
<polyline points="246.9,1316.8 278.1,1290.9" fill="none" stroke="#e9ebed" stroke-width="1.6"/>
<polygon points="242.8,1342.2 246.8,1342.2 246.8,1347.2 242.8,1346.2" fill="#e9ebed" stroke="#b4b8bc" stroke-width="0.5" stroke-linejoin="round"/>
<polygon points="278.2,1315.1 281.8,1314.1 281.8,1319.1 278.2,1320.1" fill="#e9ebed" stroke="#b4b8bc" stroke-width="0.5" stroke-linejoin="round"/>
<polygon points="218.8,1256.2 256.2,1232.1 281.2,1242.1 243.8,1266.2" fill="#f8f9fa" stroke="#b4b8bc" stroke-width="0.8" stroke-linejoin="round"/>
<polygon points="138,1350 162.5,1360 162.5,1394 138,1387.5" fill="#bcbec1"/>
<polygon points="162.5,1360 241.2,1307.5 241.2,1343 162.5,1394" fill="#e9ebed" stroke="#b4b8bc" stroke-width="0.8" stroke-linejoin="round"/>
<polyline points="188,1343 188,1377.5" fill="none" stroke="#d9d9d9" stroke-width="0.8"/>
<polyline points="217,1323.8 217,1358.7" fill="none" stroke="#d9d9d9" stroke-width="0.8"/>
<polygon points="138,1350 218.8,1298 241.2,1307.5 162.5,1360" fill="#f8f9fa" stroke="#b4b8bc" stroke-width="0.8" stroke-linejoin="round"/>
<polygon points="160.5,1393 164,1393.5 164,1398 160.5,1397" fill="#d9d9d9"/>
<polygon points="138,1387 141,1388 141,1392 138,1391" fill="#c9c9c9"/>
<ellipse cx="187.5" cy="1195.5" rx="22.2" ry="29.6" fill="#a9a9a9"/>
<ellipse cx="189.6" cy="1195.3" rx="20" ry="27.2" fill="#fdfdfd" stroke="#8c8c8c" stroke-width="0.8"/>
<text x="189.5" y="1178" font-size="6.6" font-weight="bold" text-anchor="middle" fill="#111" class="ls" transform="translate(189.5 1176) scale(0.86 1) translate(-189.5 -1176)">12</text>
<text x="196" y="1181" font-size="6.6" font-weight="bold" text-anchor="middle" fill="#111" class="ls" transform="translate(196 1179) scale(0.86 1) translate(-196 -1179)">1</text>
<text x="201" y="1187.5" font-size="6.6" font-weight="bold" text-anchor="middle" fill="#111" class="ls" transform="translate(201 1185.5) scale(0.86 1) translate(-201 -1185.5)">2</text>
<text x="203" y="1197" font-size="6.6" font-weight="bold" text-anchor="middle" fill="#111" class="ls" transform="translate(203 1195) scale(0.86 1) translate(-203 -1195)">3</text>
<text x="201" y="1206.5" font-size="6.6" font-weight="bold" text-anchor="middle" fill="#111" class="ls" transform="translate(201 1204.5) scale(0.86 1) translate(-201 -1204.5)">4</text>
<text x="196" y="1214.5" font-size="6.6" font-weight="bold" text-anchor="middle" fill="#111" class="ls" transform="translate(196 1212.5) scale(0.86 1) translate(-196 -1212.5)">5</text>
<text x="189.5" y="1217.5" font-size="6.6" font-weight="bold" text-anchor="middle" fill="#111" class="ls" transform="translate(189.5 1215.5) scale(0.86 1) translate(-189.5 -1215.5)">6</text>
<text x="183" y="1215.5" font-size="6.6" font-weight="bold" text-anchor="middle" fill="#111" class="ls" transform="translate(183 1213.5) scale(0.86 1) translate(-183 -1213.5)">7</text>
<text x="177.5" y="1209" font-size="6.6" font-weight="bold" text-anchor="middle" fill="#111" class="ls" transform="translate(177.5 1207) scale(0.86 1) translate(-177.5 -1207)">8</text>
<text x="175" y="1199.5" font-size="6.6" font-weight="bold" text-anchor="middle" fill="#111" class="ls" transform="translate(175 1197.5) scale(0.86 1) translate(-175 -1197.5)">9</text>
<text x="177" y="1190.5" font-size="6.6" font-weight="bold" text-anchor="middle" fill="#111" class="ls" transform="translate(177 1188.5) scale(0.86 1) translate(-177 -1188.5)">10</text>
<text x="182" y="1182.5" font-size="6.6" font-weight="bold" text-anchor="middle" fill="#111" class="ls" transform="translate(182 1180.5) scale(0.86 1) translate(-182 -1180.5)">11</text>
<polyline points="189.3,1196 198.2,1198.3" fill="none" stroke="#111" stroke-width="2.2"/>
<polyline points="189.3,1196 182.5,1209.5" fill="none" stroke="#111" stroke-width="1.1"/>
<polyline points="189.3,1198 190,1176.5" fill="none" stroke="#333" stroke-width="0.6"/>
<polygon points="1012.5,1316.2 1096.2,1353.8 1121.2,1338.8 1121.2,1342 1096.2,1357.2 1012.5,1319.5" fill="#cfcfcf" stroke="#85888c" stroke-width="0.8" stroke-linejoin="round"/>
<polygon points="1012.5,1316.2 1037.5,1300 1121.2,1338.8 1096.2,1353.8" fill="#dcdddf" stroke="#85888c" stroke-width="0.8" stroke-linejoin="round"/>
<polygon points="994.5,1353.5 1078.2,1391 1103.2,1376 1103.2,1379.2 1078.2,1394.4 994.5,1356.7" fill="#cfcfcf" stroke="#85888c" stroke-width="0.8" stroke-linejoin="round"/>
<polygon points="994.5,1353.5 1019.5,1337.2 1103.2,1376 1078.2,1391" fill="#dcdddf" stroke="#85888c" stroke-width="0.8" stroke-linejoin="round"/>
<polygon points="976.5,1390.8 1060.2,1428.2 1085.2,1413.2 1085.2,1416.5 1060.2,1431.7 976.5,1394" fill="#cfcfcf" stroke="#85888c" stroke-width="0.8" stroke-linejoin="round"/>
<polygon points="976.5,1390.8 1001.5,1374.5 1085.2,1413.2 1060.2,1428.2" fill="#dcdddf" stroke="#85888c" stroke-width="0.8" stroke-linejoin="round"/>
<polygon points="958.5,1428 1042.2,1465.5 1067.2,1450.5 1067.2,1453.7 1042.2,1468.9 958.5,1431.2" fill="#cfcfcf" stroke="#85888c" stroke-width="0.8" stroke-linejoin="round"/>
<polygon points="958.5,1428 983.5,1411.8 1067.2,1450.5 1042.2,1465.5" fill="#dcdddf" stroke="#85888c" stroke-width="0.8" stroke-linejoin="round"/>
<polygon points="940.5,1465.2 1024.2,1502.8 1049.2,1487.8 1049.2,1491 1024.2,1506.2 940.5,1468.5" fill="#cfcfcf" stroke="#85888c" stroke-width="0.8" stroke-linejoin="round"/>
<polygon points="940.5,1465.2 965.5,1449 1049.2,1487.8 1024.2,1502.8" fill="#dcdddf" stroke="#85888c" stroke-width="0.8" stroke-linejoin="round"/>
<polygon points="922.5,1502.5 1006.2,1540 1031.2,1525 1031.2,1528.2 1006.2,1543.4 922.5,1505.7" fill="#cfcfcf" stroke="#85888c" stroke-width="0.8" stroke-linejoin="round"/>
<polygon points="922.5,1502.5 947.5,1486.2 1031.2,1525 1006.2,1540" fill="#dcdddf" stroke="#85888c" stroke-width="0.8" stroke-linejoin="round"/>
<polygon points="904.5,1539.8 988.2,1577.2 1013.2,1562.2 1013.2,1565.5 988.2,1580.7 904.5,1543" fill="#cfcfcf" stroke="#85888c" stroke-width="0.8" stroke-linejoin="round"/>
<polygon points="904.5,1539.8 929.5,1523.5 1013.2,1562.2 988.2,1577.2" fill="#dcdddf" stroke="#85888c" stroke-width="0.8" stroke-linejoin="round"/>
<polygon points="444.6,1020.8 1137,1325.4 1137,1335.4 444.6,1027.1" fill="#fdfdfd" stroke="#7f848a" stroke-width="1" stroke-linejoin="round"/>
<polygon points="1137,1325.4 1468.8,1133.8 1468.8,1143.4 1137,1335.4" fill="#fdfdfd" stroke="#7f848a" stroke-width="1" stroke-linejoin="round"/>
<polygon points="444.6,1020.8 757.5,820 1468.8,1133.8 1137,1325.4" fill="#d8d9da"/>
<path d="M770.1,825.6 L456.9,1026.2 M803.4,840.3 L489.3,1040.5 M836.7,854.9 L521.7,1054.7 M870,869.6 L554.1,1069 M903.2,884.3 L586.4,1083.2 M936.5,899 L618.8,1097.4 M969.8,913.6 L651.2,1111.7 M1003,928.3 L683.6,1125.9 M1036.3,943 L716,1140.2 M1069.6,957.7 L748.4,1154.4 M1102.8,972.4 L780.8,1168.7 M1136.1,987 L813.1,1182.9 M1169.4,1001.7 L845.5,1197.2 M1202.6,1016.4 L877.9,1211.4 M1235.9,1031.1 L910.3,1225.7 M1269.2,1045.7 L942.7,1239.9 M1302.5,1060.4 L975.1,1254.2 M1335.7,1075.1 L1007.5,1268.4 M1369,1089.8 L1039.8,1282.7 M1402.3,1104.4 L1072.2,1296.9 M1435.5,1119.1 L1104.6,1311.2" fill="none" stroke="#eeeeef" stroke-width="2.1"/>
<polyline points="757.5,820 444.6,1020.8 1137,1325.4 1468.8,1133.8" fill="none" stroke="#7f848a" stroke-width="1"/>
<polyline points="757.5,820 1468.8,1133.8" fill="none" stroke="#9aa0a6" stroke-width="0.9"/>
<polygon points="482.8,886.8 531.6,860.2 531.6,884.2 482.8,911.8" fill="rgba(0,0,0,0.07)"/>
<polygon points="533.9,850.5 549.8,857.2 549.8,824.2 533.9,817.5" fill="#fafafa" stroke="#b3b3b3" stroke-width="0.5" stroke-linejoin="round"/>
<polygon points="533.9,817.5 549.8,824.2 553.5,821.9 537.6,815.2" fill="#ffffff" stroke="#b3b3b3" stroke-width="0.4" stroke-linejoin="round"/>
<polygon points="530.2,852.8 546.1,859.5 546.1,826.5 530.2,819.8" fill="#ededed" stroke="#b3b3b3" stroke-width="0.5" stroke-linejoin="round"/>
<polygon points="530.2,819.8 546.1,826.5 549.8,824.2 533.9,817.5" fill="#ffffff" stroke="#b3b3b3" stroke-width="0.4" stroke-linejoin="round"/>
<polygon points="526.5,855.2 542.4,861.9 542.4,828.9 526.5,822.2" fill="#fafafa" stroke="#b3b3b3" stroke-width="0.5" stroke-linejoin="round"/>
<polygon points="526.5,822.2 542.4,828.9 546.1,826.5 530.2,819.8" fill="#ffffff" stroke="#b3b3b3" stroke-width="0.4" stroke-linejoin="round"/>
<polygon points="522.8,857.5 538.7,864.2 538.7,831.2 522.8,824.5" fill="#fafafa" stroke="#b3b3b3" stroke-width="0.5" stroke-linejoin="round"/>
<polygon points="522.8,824.5 538.7,831.2 542.4,828.9 526.5,822.2" fill="#ffffff" stroke="#b3b3b3" stroke-width="0.4" stroke-linejoin="round"/>
<polygon points="519.1,859.8 535,866.5 535,833.5 519.1,826.8" fill="#ededed" stroke="#b3b3b3" stroke-width="0.5" stroke-linejoin="round"/>
<polygon points="519.1,826.8 535,833.5 538.7,831.2 522.8,824.5" fill="#ffffff" stroke="#b3b3b3" stroke-width="0.4" stroke-linejoin="round"/>
<polygon points="515.4,862.2 531.3,868.9 531.3,835.9 515.4,829.2" fill="#b8b8b8" stroke="#b3b3b3" stroke-width="0.5" stroke-linejoin="round"/>
<polygon points="515.4,829.2 531.3,835.9 535,833.5 519.1,826.8" fill="#ffffff" stroke="#b3b3b3" stroke-width="0.4" stroke-linejoin="round"/>
<polygon points="511.7,864.5 527.6,871.2 527.6,846.2 511.7,839.5" fill="#fafafa" stroke="#b3b3b3" stroke-width="0.5" stroke-linejoin="round"/>
<polygon points="511.7,839.5 527.6,846.2 531.3,843.9 515.4,837.2" fill="#ffffff" stroke="#b3b3b3" stroke-width="0.4" stroke-linejoin="round"/>
<polygon points="508,866.8 523.9,873.5 523.9,848.5 508,841.8" fill="#ededed" stroke="#b3b3b3" stroke-width="0.5" stroke-linejoin="round"/>
<polygon points="508,841.8 523.9,848.5 527.6,846.2 511.7,839.5" fill="#ffffff" stroke="#b3b3b3" stroke-width="0.4" stroke-linejoin="round"/>
<polygon points="504.3,869.1 520.2,875.9 520.2,850.9 504.3,844.1" fill="#fafafa" stroke="#b3b3b3" stroke-width="0.5" stroke-linejoin="round"/>
<polygon points="504.3,844.1 520.2,850.9 523.9,848.5 508,841.8" fill="#ffffff" stroke="#b3b3b3" stroke-width="0.4" stroke-linejoin="round"/>
<polygon points="500.6,871.5 516.5,878.2 516.5,853.2 500.6,846.5" fill="#fafafa" stroke="#b3b3b3" stroke-width="0.5" stroke-linejoin="round"/>
<polygon points="500.6,846.5 516.5,853.2 520.2,850.8 504.3,844.1" fill="#ffffff" stroke="#b3b3b3" stroke-width="0.4" stroke-linejoin="round"/>
<polygon points="496.9,873.8 512.8,880.5 512.8,855.5 496.9,848.8" fill="#ededed" stroke="#b3b3b3" stroke-width="0.5" stroke-linejoin="round"/>
<polygon points="496.9,848.8 512.8,855.5 516.5,853.2 500.6,846.5" fill="#ffffff" stroke="#b3b3b3" stroke-width="0.4" stroke-linejoin="round"/>
<polygon points="493.2,876.1 509.1,882.8 509.1,857.8 493.2,851.1" fill="#fafafa" stroke="#b3b3b3" stroke-width="0.5" stroke-linejoin="round"/>
<polygon points="493.2,851.1 509.1,857.8 512.8,855.5 496.9,848.8" fill="#ffffff" stroke="#b3b3b3" stroke-width="0.4" stroke-linejoin="round"/>
<polygon points="489.5,878.5 505.4,885.2 505.4,860.2 489.5,853.5" fill="#fafafa" stroke="#b3b3b3" stroke-width="0.5" stroke-linejoin="round"/>
<polygon points="489.5,853.5 505.4,860.2 509.1,857.8 493.2,851.1" fill="#ffffff" stroke="#b3b3b3" stroke-width="0.4" stroke-linejoin="round"/>
<polygon points="485.8,880.8 501.7,887.5 501.7,862.5 485.8,855.8" fill="#f0f0f0" stroke="#b3b3b3" stroke-width="0.5" stroke-linejoin="round"/>
<polygon points="485.8,855.8 501.7,862.5 505.4,860.2 489.5,853.5" fill="#ffffff" stroke="#b3b3b3" stroke-width="0.4" stroke-linejoin="round"/>
<polygon points="501.7,887.5 505.4,885.2 505.4,860.2 501.7,862.5" fill="#e2e2e2" stroke="#b3b3b3" stroke-width="0.4" stroke-linejoin="round"/>
<polygon points="505.4,885.2 509.1,882.8 509.1,857.8 505.4,860.2" fill="#f4f4f4" stroke="#b3b3b3" stroke-width="0.4" stroke-linejoin="round"/>
<polygon points="509.1,882.8 512.8,880.5 512.8,855.5 509.1,857.8" fill="#e2e2e2" stroke="#b3b3b3" stroke-width="0.4" stroke-linejoin="round"/>
<polygon points="512.8,880.5 516.5,878.2 516.5,853.2 512.8,855.5" fill="#f4f4f4" stroke="#b3b3b3" stroke-width="0.4" stroke-linejoin="round"/>
<polygon points="516.5,878.2 520.2,875.8 520.2,850.8 516.5,853.2" fill="#e2e2e2" stroke="#b3b3b3" stroke-width="0.4" stroke-linejoin="round"/>
<polygon points="520.2,875.9 523.9,873.5 523.9,848.5 520.2,850.9" fill="#f4f4f4" stroke="#b3b3b3" stroke-width="0.4" stroke-linejoin="round"/>
<polygon points="523.9,873.5 527.6,871.2 527.6,846.2 523.9,848.5" fill="#e2e2e2" stroke="#b3b3b3" stroke-width="0.4" stroke-linejoin="round"/>
<polygon points="527.6,871.2 531.3,868.9 531.3,843.9 527.6,846.2" fill="#f4f4f4" stroke="#b3b3b3" stroke-width="0.4" stroke-linejoin="round"/>
<polygon points="531.3,868.9 535,866.5 535,833.5 531.3,835.9" fill="#e2e2e2" stroke="#b3b3b3" stroke-width="0.4" stroke-linejoin="round"/>
<polygon points="535,866.5 538.7,864.2 538.7,831.2 535,833.5" fill="#f4f4f4" stroke="#b3b3b3" stroke-width="0.4" stroke-linejoin="round"/>
<polygon points="538.7,864.2 542.4,861.9 542.4,828.9 538.7,831.2" fill="#e2e2e2" stroke="#b3b3b3" stroke-width="0.4" stroke-linejoin="round"/>
<polygon points="542.4,861.9 546.1,859.5 546.1,826.5 542.4,828.9" fill="#f4f4f4" stroke="#b3b3b3" stroke-width="0.4" stroke-linejoin="round"/>
<polygon points="546.1,859.5 549.8,857.2 549.8,824.2 546.1,826.5" fill="#e2e2e2" stroke="#b3b3b3" stroke-width="0.4" stroke-linejoin="round"/>
<polygon points="549.8,857.2 553.5,854.9 553.5,821.9 549.8,824.2" fill="#f4f4f4" stroke="#b3b3b3" stroke-width="0.4" stroke-linejoin="round"/>
<polygon points="553.5,854.9 553.5,818.9 540.6,809.2 540.6,849.2" fill="rgba(255,255,255,0.35)" stroke="#b3b3b3" stroke-width="0.4" stroke-linejoin="round"/>
<polygon points="501.7,887.5 553.5,854.9 553.5,857.5 501.7,890.1" fill="#fafafa" stroke="#b3b3b3" stroke-width="0.5" stroke-linejoin="round"/>
<polygon points="485.8,880.8 501.7,887.5 501.7,890.1 485.8,883.4" fill="#e6e6e6" stroke="#b3b3b3" stroke-width="0.5" stroke-linejoin="round"/>
<polygon points="465.3,954.3 514.1,927.7 514.1,951.7 465.3,979.3" fill="rgba(0,0,0,0.07)"/>
<polygon points="516.4,918 532.3,924.7 532.3,891.7 516.4,885" fill="#fafafa" stroke="#b3b3b3" stroke-width="0.5" stroke-linejoin="round"/>
<polygon points="516.4,885 532.3,891.7 536,889.4 520.1,882.7" fill="#ffffff" stroke="#b3b3b3" stroke-width="0.4" stroke-linejoin="round"/>
<polygon points="512.7,920.3 528.6,927 528.6,894 512.7,887.3" fill="#ededed" stroke="#b3b3b3" stroke-width="0.5" stroke-linejoin="round"/>
<polygon points="512.7,887.3 528.6,894 532.3,891.7 516.4,885" fill="#ffffff" stroke="#b3b3b3" stroke-width="0.4" stroke-linejoin="round"/>
<polygon points="509,922.7 524.9,929.4 524.9,896.4 509,889.7" fill="#fafafa" stroke="#b3b3b3" stroke-width="0.5" stroke-linejoin="round"/>
<polygon points="509,889.7 524.9,896.4 528.6,894 512.7,887.3" fill="#ffffff" stroke="#b3b3b3" stroke-width="0.4" stroke-linejoin="round"/>
<polygon points="505.3,925 521.2,931.7 521.2,898.7 505.3,892" fill="#fafafa" stroke="#b3b3b3" stroke-width="0.5" stroke-linejoin="round"/>
<polygon points="505.3,892 521.2,898.7 524.9,896.4 509,889.7" fill="#ffffff" stroke="#b3b3b3" stroke-width="0.4" stroke-linejoin="round"/>
<polygon points="501.6,927.3 517.5,934 517.5,901 501.6,894.3" fill="#ededed" stroke="#b3b3b3" stroke-width="0.5" stroke-linejoin="round"/>
<polygon points="501.6,894.3 517.5,901 521.2,898.7 505.3,892" fill="#ffffff" stroke="#b3b3b3" stroke-width="0.4" stroke-linejoin="round"/>
<polygon points="497.9,929.7 513.8,936.4 513.8,903.4 497.9,896.7" fill="#b8b8b8" stroke="#b3b3b3" stroke-width="0.5" stroke-linejoin="round"/>
<polygon points="497.9,896.7 513.8,903.4 517.5,901 501.6,894.3" fill="#ffffff" stroke="#b3b3b3" stroke-width="0.4" stroke-linejoin="round"/>
<polygon points="494.2,932 510.1,938.7 510.1,913.7 494.2,907" fill="#fafafa" stroke="#b3b3b3" stroke-width="0.5" stroke-linejoin="round"/>
<polygon points="494.2,907 510.1,913.7 513.8,911.4 497.9,904.7" fill="#ffffff" stroke="#b3b3b3" stroke-width="0.4" stroke-linejoin="round"/>
<polygon points="490.5,934.3 506.4,941 506.4,916 490.5,909.3" fill="#ededed" stroke="#b3b3b3" stroke-width="0.5" stroke-linejoin="round"/>
<polygon points="490.5,909.3 506.4,916 510.1,913.7 494.2,907" fill="#ffffff" stroke="#b3b3b3" stroke-width="0.4" stroke-linejoin="round"/>
<polygon points="486.8,936.6 502.7,943.4 502.7,918.4 486.8,911.6" fill="#fafafa" stroke="#b3b3b3" stroke-width="0.5" stroke-linejoin="round"/>
<polygon points="486.8,911.6 502.7,918.4 506.4,916 490.5,909.3" fill="#ffffff" stroke="#b3b3b3" stroke-width="0.4" stroke-linejoin="round"/>
<polygon points="483.1,939 499,945.7 499,920.7 483.1,914" fill="#fafafa" stroke="#b3b3b3" stroke-width="0.5" stroke-linejoin="round"/>
<polygon points="483.1,914 499,920.7 502.7,918.3 486.8,911.6" fill="#ffffff" stroke="#b3b3b3" stroke-width="0.4" stroke-linejoin="round"/>
<polygon points="479.4,941.3 495.3,948 495.3,923 479.4,916.3" fill="#ededed" stroke="#b3b3b3" stroke-width="0.5" stroke-linejoin="round"/>
<polygon points="479.4,916.3 495.3,923 499,920.7 483.1,914" fill="#ffffff" stroke="#b3b3b3" stroke-width="0.4" stroke-linejoin="round"/>
<polygon points="475.7,943.6 491.6,950.3 491.6,925.3 475.7,918.6" fill="#fafafa" stroke="#b3b3b3" stroke-width="0.5" stroke-linejoin="round"/>
<polygon points="475.7,918.6 491.6,925.3 495.3,923 479.4,916.3" fill="#ffffff" stroke="#b3b3b3" stroke-width="0.4" stroke-linejoin="round"/>
<polygon points="472,946 487.9,952.7 487.9,927.7 472,921" fill="#fafafa" stroke="#b3b3b3" stroke-width="0.5" stroke-linejoin="round"/>
<polygon points="472,921 487.9,927.7 491.6,925.3 475.7,918.6" fill="#ffffff" stroke="#b3b3b3" stroke-width="0.4" stroke-linejoin="round"/>
<polygon points="468.3,948.3 484.2,955 484.2,930 468.3,923.3" fill="#f0f0f0" stroke="#b3b3b3" stroke-width="0.5" stroke-linejoin="round"/>
<polygon points="468.3,923.3 484.2,930 487.9,927.7 472,921" fill="#ffffff" stroke="#b3b3b3" stroke-width="0.4" stroke-linejoin="round"/>
<polygon points="484.2,955 487.9,952.7 487.9,927.7 484.2,930" fill="#e2e2e2" stroke="#b3b3b3" stroke-width="0.4" stroke-linejoin="round"/>
<polygon points="487.9,952.7 491.6,950.3 491.6,925.3 487.9,927.7" fill="#f4f4f4" stroke="#b3b3b3" stroke-width="0.4" stroke-linejoin="round"/>
<polygon points="491.6,950.3 495.3,948 495.3,923 491.6,925.3" fill="#e2e2e2" stroke="#b3b3b3" stroke-width="0.4" stroke-linejoin="round"/>
<polygon points="495.3,948 499,945.7 499,920.7 495.3,923" fill="#f4f4f4" stroke="#b3b3b3" stroke-width="0.4" stroke-linejoin="round"/>
<polygon points="499,945.7 502.7,943.3 502.7,918.3 499,920.7" fill="#e2e2e2" stroke="#b3b3b3" stroke-width="0.4" stroke-linejoin="round"/>
<polygon points="502.7,943.4 506.4,941 506.4,916 502.7,918.4" fill="#f4f4f4" stroke="#b3b3b3" stroke-width="0.4" stroke-linejoin="round"/>
<polygon points="506.4,941 510.1,938.7 510.1,913.7 506.4,916" fill="#e2e2e2" stroke="#b3b3b3" stroke-width="0.4" stroke-linejoin="round"/>
<polygon points="510.1,938.7 513.8,936.4 513.8,911.4 510.1,913.7" fill="#f4f4f4" stroke="#b3b3b3" stroke-width="0.4" stroke-linejoin="round"/>
<polygon points="513.8,936.4 517.5,934 517.5,901 513.8,903.4" fill="#e2e2e2" stroke="#b3b3b3" stroke-width="0.4" stroke-linejoin="round"/>
<polygon points="517.5,934 521.2,931.7 521.2,898.7 517.5,901" fill="#f4f4f4" stroke="#b3b3b3" stroke-width="0.4" stroke-linejoin="round"/>
<polygon points="521.2,931.7 524.9,929.4 524.9,896.4 521.2,898.7" fill="#e2e2e2" stroke="#b3b3b3" stroke-width="0.4" stroke-linejoin="round"/>
<polygon points="524.9,929.4 528.6,927 528.6,894 524.9,896.4" fill="#f4f4f4" stroke="#b3b3b3" stroke-width="0.4" stroke-linejoin="round"/>
<polygon points="528.6,927 532.3,924.7 532.3,891.7 528.6,894" fill="#e2e2e2" stroke="#b3b3b3" stroke-width="0.4" stroke-linejoin="round"/>
<polygon points="532.3,924.7 536,922.4 536,889.4 532.3,891.7" fill="#f4f4f4" stroke="#b3b3b3" stroke-width="0.4" stroke-linejoin="round"/>
<polygon points="536,922.4 536,886.4 523.1,876.7 523.1,916.7" fill="rgba(255,255,255,0.35)" stroke="#b3b3b3" stroke-width="0.4" stroke-linejoin="round"/>
<polygon points="484.2,955 536,922.4 536,925 484.2,957.6" fill="#fafafa" stroke="#b3b3b3" stroke-width="0.5" stroke-linejoin="round"/>
<polygon points="468.3,948.3 484.2,955 484.2,957.6 468.3,950.9" fill="#e6e6e6" stroke="#b3b3b3" stroke-width="0.5" stroke-linejoin="round"/>
<polygon points="676.7,726 707,886 571.5,894.5 676.7,828.3" fill="url(#beam)"/>
<polygon points="571.3,791.7 676.7,725.8 676.7,828.3 571.3,895.3" fill="url(#screenR)" stroke="#8a8a8a" stroke-width="2.2" stroke-linejoin="round"/>
<polygon points="719,770 743.5,779.8 743.5,859.8 719,848" fill="#bcbec1"/>
<polygon points="743.5,779.8 781,755.6 781,832.6 743.5,859.8" fill="#e9ebed" stroke="#b4b8bc" stroke-width="0.8" stroke-linejoin="round"/>
<polygon points="746.7,788.3 777.8,764.1 777.8,827.6 746.7,854.3" fill="#a3cbeb" stroke="#b4b8bc" stroke-width="0.6" stroke-linejoin="round"/>
<polygon points="746.7,810.3 777.8,785.3 777.8,795.3 746.7,814.3" fill="#c3def3"/>
<polyline points="746.7,810.3 777.8,785.3" fill="none" stroke="#e9ebed" stroke-width="1.6"/>
<polygon points="746.7,832.3 777.8,806.4 777.8,816.4 746.7,836.3" fill="#c3def3"/>
<polyline points="746.7,832.3 777.8,806.4" fill="none" stroke="#e9ebed" stroke-width="1.6"/>
<polygon points="742.5,858.8 746.5,858.8 746.5,863.8 742.5,862.8" fill="#e9ebed" stroke="#b4b8bc" stroke-width="0.5" stroke-linejoin="round"/>
<polygon points="778,831.6 781.5,830.6 781.5,835.6 778,836.6" fill="#e9ebed" stroke="#b4b8bc" stroke-width="0.5" stroke-linejoin="round"/>
<polygon points="719,770 756.5,745.8 781,755.6 743.5,779.8" fill="#f8f9fa" stroke="#b4b8bc" stroke-width="0.8" stroke-linejoin="round"/>
<path d="M701,890 A6,6 0 0 1 712,884" fill="none" stroke="#666" stroke-width="1"/>
<polygon points="695,897.5 732.5,911.7 732.5,923.3 695,907.5" fill="#f1f1f1" stroke="#b4b8bc" stroke-width="0.8" stroke-linejoin="round"/>
<polygon points="732.5,911.7 760.8,894 760.8,904 732.5,923.3" fill="#c9c9c9" stroke="#b4b8bc" stroke-width="0.8" stroke-linejoin="round"/>
<polygon points="695,897.5 723.3,877.5 760.8,894 732.5,911.7" fill="#f8f8f8" stroke="#b4b8bc" stroke-width="0.8" stroke-linejoin="round"/>
<polyline points="712,892 725,883.7" fill="none" stroke="#8c8c8c" stroke-width="1.1"/>
<polyline points="716.6,894 729.6,885.7" fill="none" stroke="#8c8c8c" stroke-width="1.1"/>
<polyline points="721.2,896 734.2,887.7" fill="none" stroke="#8c8c8c" stroke-width="1.1"/>
<polyline points="725.8,898 738.8,889.7" fill="none" stroke="#8c8c8c" stroke-width="1.1"/>
<polygon points="836,685.5 887,706.3 887,768.5 883.3,770.8 883.3,708.3 832.5,687.5" fill="#dcdcdc"/>
<polygon points="832.5,687.5 883.3,708.3 883.3,770.8 832.5,750" fill="#84888d"/>
<polygon points="839.7,699 876,714 876,760 839.7,745" fill="#c3c6ca"/>
<polygon points="940.5,693 1120.8,770 1120.8,898 940.5,818" fill="#fbfbfb" stroke="#c6c6c6" stroke-width="0.9" stroke-linejoin="round"/>
<polygon points="950,770 1111,840 1111,880.5 950,810" fill="#a5cdee"/>
<polygon points="1030,805 1111,840 1111,880.5 1050,853.5" fill="#b9d9f2"/>
<polygon points="946,700.1 1119,773.9 1119,777.7 946,703.9" fill="#8fbde6"/>
<polygon points="937,692.7 1121,771.5 1121,775.7 937,696.9" fill="#fdfdfd"/>
<polygon points="946,709.2 1119,783 1119,786.8 946,713" fill="#8fbde6"/>
<polygon points="937,701.8 1121,780.6 1121,784.8 937,706" fill="#fdfdfd"/>
<polygon points="946,718.3 1119,792.1 1119,795.9 946,722.1" fill="#8fbde6"/>
<polygon points="937,710.9 1121,789.7 1121,793.9 937,715.1" fill="#fdfdfd"/>
<polygon points="946,727.4 1119,801.2 1119,805 946,731.2" fill="#8fbde6"/>
<polygon points="937,720 1121,798.8 1121,803 937,724.2" fill="#fdfdfd"/>
<polygon points="946,736.5 1119,810.3 1119,814.1 946,740.3" fill="#8fbde6"/>
<polygon points="937,729.1 1121,807.9 1121,812.1 937,733.3" fill="#fdfdfd"/>
<polygon points="946,745.6 1119,819.4 1119,823.2 946,749.4" fill="#8fbde6"/>
<polygon points="937,738.2 1121,817 1121,821.2 937,742.4" fill="#fdfdfd"/>
<polygon points="946,754.7 1119,828.5 1119,832.3 946,758.5" fill="#8fbde6"/>
<polygon points="937,747.3 1121,826.1 1121,830.3 937,751.5" fill="#fdfdfd"/>
<polygon points="946,763.8 1119,837.6 1119,841.4 946,767.6" fill="#8fbde6"/>
<polygon points="937,756.4 1121,835.2 1121,839.4 937,760.6" fill="#fdfdfd"/>
<polyline points="941.8,694 941.8,766" fill="none" stroke="#cfcfcf" stroke-width="0.8" stroke-dasharray="3 5"/>
<polyline points="951.3,698 951.3,770" fill="none" stroke="#b5b5b5" stroke-width="0.8" stroke-dasharray="4 5"/>
<polyline points="1110,766 1110,838" fill="none" stroke="#c9c9c9" stroke-width="0.8" stroke-dasharray="4 5"/>
<polyline points="1110,843 1110,862" fill="none" stroke="#aaa" stroke-width="0.8"/>
<rect x="1108.5" y="860" width="3.2" height="12" fill="#a9a9a9"/>
<ellipse cx="957" cy="937" rx="16.5" ry="7.5" fill="#f7f7f7" stroke="#a9a9a9" stroke-width="0.8"/>
<rect x="955.5" y="862.5" width="3" height="73.5" fill="#bdbdbd"/>
<path d="M946.5,843.5 C944,850.5 938,859.5 936,864.5 Q957,876 978,864.5 C976,859.5 970,850.5 967.5,843.5 Z" fill="#f4f4f4" stroke="#a9a9a9" stroke-width="0.8"/>
<ellipse cx="957" cy="844" rx="10.5" ry="4.4" fill="url(#binIn)" stroke="#a9a9a9" stroke-width="0.7"/>
<path d="M1009.1,906.1 Q1009.5,898.9 1015.9,901.7 L1114.3,944.1 Q1121.5,947.7 1121.1,955.7 L1121.1,958.9 L1111.1,971.7 L1009.1,928.5 Z" fill="url(#sofaBackR)"/>
<path d="M967.5,934.1 L1009.1,905.3 L1009.1,928.5 L978.3,949.3 L978.3,933.3 Z" fill="url(#sofaArmR)"/>
<polygon points="978.3,949.3 1008.5,928.5 1111.1,971.7 1080.7,992.5" fill="url(#sofaSeatR)"/>
<polygon points="975.9,953.3 1078.3,1000.1 1078.3,1009.3 975.9,962.5" fill="#9da1a6"/>
<polyline points="976.7,963.1 1078.3,1009.9" fill="none" stroke="#2e2e2e" stroke-width="1.4"/>
<path d="M1077.1,982.9 L1114.3,956.9 Q1121.5,953.3 1121.1,960.5 L1121.1,992.5 L1087.1,1014.1 L1087.1,981.3 Z" fill="url(#sofaArm2R)"/>
<path d="M1077.1,985.3 Q1077.1,979.3 1082.3,978.5 Q1087.1,978.1 1087.1,983.7 L1087.1,1014.1 L1077.1,1010.5 Z" fill="url(#sofaBlkR)"/>
<path d="M967.5,936.5 Q967.5,930.5 972.7,929.7 Q978.3,929.3 978.3,934.9 L978.3,967.7 L967.5,964.9 Z" fill="url(#sofaBlkR)"/>
<polygon points="1258,836.5 1308,856.5 1308,918 1305,920 1305,858.3 1255,838.3" fill="#e4e4e4"/>
<polygon points="1255,838.3 1305,858.3 1305,920 1255,900" fill="#9a9ea3"/>
<polygon points="1262.5,850 1297.5,864 1297.5,909 1262.5,895" fill="#d3d6da"/>
<polygon points="1330,975 1444,1026 1444,1040 1330,990" fill="rgba(0,0,0,0.05)"/>
<polygon points="1317.5,945.5 1322,943.5 1322,971 1317.5,969" fill="#f4f4f4" stroke="#a8a8a8" stroke-width="0.5" stroke-linejoin="round"/>
<polygon points="1322,971 1326.6,973.1 1326.6,948.1 1322,946" fill="#ececec" stroke="#a8a8a8" stroke-width="0.5" stroke-linejoin="round"/>
<polygon points="1322,946 1326.6,948.1 1329.3,945.7 1324.7,943.7" fill="#fff" stroke="#a8a8a8" stroke-width="0.3" stroke-linejoin="round"/>
<polygon points="1326.6,973.1 1331.2,975.1 1331.2,950.1 1326.6,948.1" fill="#fcfcfc" stroke="#a8a8a8" stroke-width="0.5" stroke-linejoin="round"/>
<polygon points="1326.6,948.1 1331.2,950.1 1333.9,947.8 1329.3,945.7" fill="#fff" stroke="#a8a8a8" stroke-width="0.3" stroke-linejoin="round"/>
<polygon points="1331.2,975.1 1335.9,977.2 1335.9,953.2 1331.2,951.1" fill="#ececec" stroke="#a8a8a8" stroke-width="0.5" stroke-linejoin="round"/>
<polygon points="1331.2,951.1 1335.9,953.2 1338.6,950.8 1333.9,948.8" fill="#fff" stroke="#a8a8a8" stroke-width="0.3" stroke-linejoin="round"/>
<polygon points="1335.9,977.2 1340.5,979.2 1340.5,951.2 1335.9,949.2" fill="#fcfcfc" stroke="#a8a8a8" stroke-width="0.5" stroke-linejoin="round"/>
<polygon points="1335.9,949.2 1340.5,951.2 1343.2,948.9 1338.6,946.8" fill="#fff" stroke="#a8a8a8" stroke-width="0.3" stroke-linejoin="round"/>
<polygon points="1340.5,979.2 1345.1,981.3 1345.1,953.3 1340.5,951.2" fill="#bdbdbd" stroke="#a8a8a8" stroke-width="0.5" stroke-linejoin="round"/>
<polygon points="1340.5,951.2 1345.1,953.3 1347.8,951 1343.2,948.9" fill="#fff" stroke="#a8a8a8" stroke-width="0.3" stroke-linejoin="round"/>
<polygon points="1345.1,981.3 1349.7,983.4 1349.7,955.4 1345.1,953.3" fill="#fcfcfc" stroke="#a8a8a8" stroke-width="0.5" stroke-linejoin="round"/>
<polygon points="1345.1,953.3 1349.7,955.4 1352.4,953 1347.8,951" fill="#fff" stroke="#a8a8a8" stroke-width="0.3" stroke-linejoin="round"/>
<polygon points="1349.7,983.4 1354.3,985.4 1354.3,961.4 1349.7,959.4" fill="#ececec" stroke="#a8a8a8" stroke-width="0.5" stroke-linejoin="round"/>
<polygon points="1349.7,959.4 1354.3,961.4 1357,959.1 1352.4,957" fill="#fff" stroke="#a8a8a8" stroke-width="0.3" stroke-linejoin="round"/>
<polygon points="1354.3,985.4 1359,987.5 1359,964.5 1354.3,962.4" fill="#fcfcfc" stroke="#a8a8a8" stroke-width="0.5" stroke-linejoin="round"/>
<polygon points="1354.3,962.4 1359,964.5 1361.7,962.1 1357,960.1" fill="#fff" stroke="#a8a8a8" stroke-width="0.3" stroke-linejoin="round"/>
<polygon points="1359,987.5 1363.6,989.5 1363.6,966.5 1359,964.5" fill="#ececec" stroke="#a8a8a8" stroke-width="0.5" stroke-linejoin="round"/>
<polygon points="1359,964.5 1363.6,966.5 1366.3,964.2 1361.7,962.1" fill="#fff" stroke="#a8a8a8" stroke-width="0.3" stroke-linejoin="round"/>
<polygon points="1363.6,989.5 1368.2,991.6 1368.2,967.6 1363.6,965.5" fill="#fcfcfc" stroke="#a8a8a8" stroke-width="0.5" stroke-linejoin="round"/>
<polygon points="1363.6,965.5 1368.2,967.6 1370.9,965.3 1366.3,963.2" fill="#fff" stroke="#a8a8a8" stroke-width="0.3" stroke-linejoin="round"/>
<polygon points="1368.2,991.6 1372.8,993.7 1372.8,970.7 1368.2,968.6" fill="#ececec" stroke="#a8a8a8" stroke-width="0.5" stroke-linejoin="round"/>
<polygon points="1368.2,968.6 1372.8,970.7 1375.5,968.3 1370.9,966.3" fill="#fff" stroke="#a8a8a8" stroke-width="0.3" stroke-linejoin="round"/>
<polygon points="1372.8,993.7 1377.4,995.7 1377.4,972.7 1372.8,970.7" fill="#fcfcfc" stroke="#a8a8a8" stroke-width="0.5" stroke-linejoin="round"/>
<polygon points="1372.8,970.7 1377.4,972.7 1380.1,970.4 1375.5,968.3" fill="#fff" stroke="#a8a8a8" stroke-width="0.3" stroke-linejoin="round"/>
<polygon points="1377.4,995.7 1382.1,997.8 1382.1,973.8 1377.4,971.7" fill="#ececec" stroke="#a8a8a8" stroke-width="0.5" stroke-linejoin="round"/>
<polygon points="1377.4,971.7 1382.1,973.8 1384.8,971.4 1380.1,969.4" fill="#fff" stroke="#a8a8a8" stroke-width="0.3" stroke-linejoin="round"/>
<polygon points="1382.1,997.8 1386.7,999.8 1386.7,975.8 1382.1,973.8" fill="#fcfcfc" stroke="#a8a8a8" stroke-width="0.5" stroke-linejoin="round"/>
<polygon points="1382.1,973.8 1386.7,975.8 1389.4,973.5 1384.8,971.4" fill="#fff" stroke="#a8a8a8" stroke-width="0.3" stroke-linejoin="round"/>
<polygon points="1386.7,999.8 1391.3,1001.9 1391.3,974.9 1386.7,972.8" fill="#ececec" stroke="#a8a8a8" stroke-width="0.5" stroke-linejoin="round"/>
<polygon points="1386.7,972.8 1391.3,974.9 1394,972.6 1389.4,970.5" fill="#fff" stroke="#a8a8a8" stroke-width="0.3" stroke-linejoin="round"/>
<polygon points="1391.3,1001.9 1395.9,1004 1395.9,977 1391.3,974.9" fill="#bdbdbd" stroke="#a8a8a8" stroke-width="0.5" stroke-linejoin="round"/>
<polygon points="1391.3,974.9 1395.9,977 1398.6,974.6 1394,972.6" fill="#fff" stroke="#a8a8a8" stroke-width="0.3" stroke-linejoin="round"/>
<polygon points="1395.9,1004 1400.5,1006 1400.5,982 1395.9,980" fill="#ececec" stroke="#a8a8a8" stroke-width="0.5" stroke-linejoin="round"/>
<polygon points="1395.9,980 1400.5,982 1403.2,979.7 1398.6,977.6" fill="#fff" stroke="#a8a8a8" stroke-width="0.3" stroke-linejoin="round"/>
<polygon points="1400.5,1006 1405.2,1008.1 1405.2,981.1 1400.5,979" fill="#fcfcfc" stroke="#a8a8a8" stroke-width="0.5" stroke-linejoin="round"/>
<polygon points="1400.5,979 1405.2,981.1 1407.9,978.7 1403.2,976.7" fill="#fff" stroke="#a8a8a8" stroke-width="0.3" stroke-linejoin="round"/>
<polygon points="1405.2,1008.1 1409.8,1010.1 1409.8,983.1 1405.2,981.1" fill="#bdbdbd" stroke="#a8a8a8" stroke-width="0.5" stroke-linejoin="round"/>
<polygon points="1405.2,981.1 1409.8,983.1 1412.5,980.8 1407.9,978.7" fill="#fff" stroke="#a8a8a8" stroke-width="0.3" stroke-linejoin="round"/>
<polygon points="1409.8,1010.1 1414.4,1012.2 1414.4,989.2 1409.8,987.1" fill="#fcfcfc" stroke="#a8a8a8" stroke-width="0.5" stroke-linejoin="round"/>
<polygon points="1409.8,987.1 1414.4,989.2 1417.1,986.9 1412.5,984.8" fill="#fff" stroke="#a8a8a8" stroke-width="0.3" stroke-linejoin="round"/>
<polygon points="1414.4,1012.2 1419,1014.3 1419,991.3 1414.4,989.2" fill="#ececec" stroke="#a8a8a8" stroke-width="0.5" stroke-linejoin="round"/>
<polygon points="1414.4,989.2 1419,991.3 1421.7,988.9 1417.1,986.9" fill="#fff" stroke="#a8a8a8" stroke-width="0.3" stroke-linejoin="round"/>
<polygon points="1419,1014.3 1423.6,1016.3 1423.6,992.3 1419,990.3" fill="#fcfcfc" stroke="#a8a8a8" stroke-width="0.5" stroke-linejoin="round"/>
<polygon points="1419,990.3 1423.6,992.3 1426.3,990 1421.7,987.9" fill="#fff" stroke="#a8a8a8" stroke-width="0.3" stroke-linejoin="round"/>
<polygon points="1423.6,1016.3 1428.3,1018.4 1428.3,995.4 1423.6,993.3" fill="#ececec" stroke="#a8a8a8" stroke-width="0.5" stroke-linejoin="round"/>
<polygon points="1423.6,993.3 1428.3,995.4 1431,993 1426.3,991" fill="#fff" stroke="#a8a8a8" stroke-width="0.3" stroke-linejoin="round"/>
<polygon points="1428.3,1018.4 1432.9,1020.4 1432.9,997.4 1428.3,995.4" fill="#fcfcfc" stroke="#a8a8a8" stroke-width="0.5" stroke-linejoin="round"/>
<polygon points="1428.3,995.4 1432.9,997.4 1435.6,995.1 1431,993" fill="#fff" stroke="#a8a8a8" stroke-width="0.3" stroke-linejoin="round"/>
<polygon points="1432.9,1020.4 1437.5,1022.5 1437.5,998.5 1432.9,996.4" fill="#ececec" stroke="#a8a8a8" stroke-width="0.5" stroke-linejoin="round"/>
<polygon points="1432.9,996.4 1437.5,998.5 1440.2,996.2 1435.6,994.1" fill="#fff" stroke="#a8a8a8" stroke-width="0.3" stroke-linejoin="round"/>
<polygon points="1437.5,1022.5 1442.1,1024.6 1442.1,1000.6 1437.5,998.5" fill="#fcfcfc" stroke="#a8a8a8" stroke-width="0.5" stroke-linejoin="round"/>
<polygon points="1437.5,998.5 1442.1,1000.6 1444.8,998.2 1440.2,996.2" fill="#fff" stroke="#a8a8a8" stroke-width="0.3" stroke-linejoin="round"/>
<polygon points="1442.1,1024.6 1447.1,1022.1 1447.1,998.6 1442.1,1001.1" fill="#e0e0e0" stroke="#a8a8a8" stroke-width="0.5" stroke-linejoin="round"/>
<polygon points="1317.5,970.5 1442.1,1026.1 1442.1,1029.1 1317.5,973.5" fill="#fbfbfb" stroke="#a8a8a8" stroke-width="0.5" stroke-linejoin="round"/>
<polygon points="1442.1,1026.1 1447.1,1023.6 1447.1,1026.6 1442.1,1029.1" fill="#e6e6e6" stroke="#a8a8a8" stroke-width="0.5" stroke-linejoin="round"/>
<polygon points="1128,936.5 1243.8,868.2 1243.8,1034.5 1128,1102.2" fill="rgba(60,75,95,0.26)"/>
<polygon points="1067.5,972.1 1128,936.5 1128,1102.2 1067.5,1137.5" fill="rgba(60,75,95,0.26)"/>
<polygon points="936.2,1049.5 1067.5,972.1 1067.5,1003 1060,1006 993.8,1045 993.8,1180.6 936.2,1214.2" fill="rgba(60,75,95,0.26)"/>
<polygon points="1060,1006 1067.5,1003 1067.5,1137.5 1060,1138.9" fill="rgba(255,255,255,0.35)" stroke="#4f555c" stroke-width="0.7" stroke-linejoin="round"/>
<polyline points="993.8,1180.6 993.8,1045 1060,1006" fill="none" stroke="#4f555c" stroke-width="0.7"/>
<polygon points="929.2,1046.2 936.2,1049.5 936.2,1214.2 929.2,1210" fill="rgba(255,255,255,0.35)" stroke="#4f555c" stroke-width="0.8" stroke-linejoin="round"/>
<polygon points="929.2,1046.2 1237.5,865 1243.8,868.2 936.2,1049.5" fill="rgba(255,255,255,0.45)" stroke="#4f555c" stroke-width="0.8" stroke-linejoin="round"/>
<polyline points="1243.8,868.2 1243.8,988" fill="none" stroke="#b5b5b5" stroke-width="0.8"/>
<polyline points="936.2,1214.2 1060,1141.9" fill="none" stroke="#4f555c" stroke-width="0.7"/>
<polygon points="1160,1095 1260,1040 1300,1058 1200,1118" fill="rgba(0,0,0,0.06)"/>
<polygon points="1215,1118 1300,1070 1340,1090 1255,1140" fill="rgba(0,0,0,0.07)"/>
<polygon points="1290,1062 1380,1098 1400,1088 1320,1050" fill="rgba(0,0,0,0.05)"/>
<path d="M1113,1092.5 L1118.5,1127 Q1130,1134 1142,1127 L1147,1092.5 Z" fill="#f3f3f3" stroke="#b4b8bc" stroke-width="0.8"/>
<ellipse cx="1130" cy="1092.5" rx="17" ry="7.3" fill="url(#binIn)" stroke="#b4b8bc" stroke-width="0.8"/>
<rect x="1145.5" y="1056" width="5.2" height="35" fill="#f2f2f2" stroke="#b4b8bc" stroke-width="0.7"/>
<rect x="1384" y="1063" width="5.2" height="43" fill="#f2f2f2" stroke="#b4b8bc" stroke-width="0.7"/>
<polygon points="1192.5,1081 1271,1037 1271,1062 1192.5,1106" fill="rgba(0,0,0,0.10)"/>
<polygon points="1137.5,1047.5 1192.5,1078.8 1271.3,1034.5 1367.5,1075 1395,1057.5 1395,1060.5 1367.5,1078.2 1271.3,1037.8 1192.5,1082 1137.5,1050.7" fill="#bdbdbd" stroke="#b4b8bc" stroke-width="0.6" stroke-linejoin="round"/>
<polygon points="1137.5,1047.5 1240,988.8 1395,1057.5 1367.5,1075 1271.3,1034.5 1192.5,1078.8" fill="#f4f4f4" stroke="#b4b8bc" stroke-width="0.8" stroke-linejoin="round"/>
<rect x="1188.5" y="1081" width="5.2" height="37" fill="#f2f2f2" stroke="#b4b8bc" stroke-width="0.7"/>
<rect x="1364" y="1077" width="5.2" height="38" fill="#f2f2f2" stroke="#b4b8bc" stroke-width="0.7"/>
<polygon points="1188.8,1025 1222.5,1007.5 1232.5,1013.8 1198.8,1036.2" fill="#f6f6f6" stroke="#b4b8bc" stroke-width="0.7" stroke-linejoin="round"/>
<polygon points="1198.8,1036.2 1232.5,1013.8 1232.5,1016.5 1198.8,1039" fill="#d5d5d5" stroke="#b4b8bc" stroke-width="0.5" stroke-linejoin="round"/>
<polygon points="1181.3,976.3 1232.5,951.3 1236,953.5 1236,1001.5 1185,1030 1181.3,1027.5" fill="#e2e2e2" stroke="#b4b8bc" stroke-width="0.7" stroke-linejoin="round"/>
<polygon points="1181.3,976.3 1232.5,951.3 1232.5,1000 1181.3,1027.5" fill="#f7f7f7" stroke="#b4b8bc" stroke-width="0.7" stroke-linejoin="round"/>
<polygon points="1190,985 1228.8,963.8 1228.8,995 1190,1017.5" fill="url(#monR)" stroke="#9a9a9a" stroke-width="0.6" stroke-linejoin="round"/>
<polygon points="1198,1021 1201,1019.5 1201,1023 1198,1024.5" fill="#666"/>
<ellipse cx="1267.5" cy="1012.5" rx="17" ry="7" fill="#f6f6f6" stroke="#b4b8bc" stroke-width="0.8"/>
<rect x="1266.2" y="996" width="2.8" height="15" fill="#b9b9b9"/>
<path d="M1257,973.5 L1247.5,992 Q1267.5,1004 1288.8,992 L1278,973.5 Z" fill="#f5f5f5" stroke="#b4b8bc" stroke-width="0.8"/>
<ellipse cx="1267.5" cy="973.3" rx="10.5" ry="4.3" fill="#d3d3d3" stroke="#b4b8bc" stroke-width="0.7"/>
<rect x="1230" y="1083" width="4.6" height="43" fill="#f0f0f0" stroke="#b4b8bc" stroke-width="0.7"/>
<rect x="1302" y="1030" width="4.6" height="95" fill="#f0f0f0" stroke="#b4b8bc" stroke-width="0.7"/>
<polygon points="1228.8,1081.3 1261,1061 1306,1080.5 1272.5,1100" fill="#f5f5f5" stroke="#b4b8bc" stroke-width="0.8" stroke-linejoin="round"/>
<polygon points="1228.8,1081.3 1272.5,1100 1272.5,1103 1228.8,1084.3" fill="#cfcfcf" stroke="#b4b8bc" stroke-width="0.5" stroke-linejoin="round"/>
<polygon points="1274.5,1058 1302,1039 1302,1061 1274.5,1080.5" fill="#e6e6e6" stroke="#b4b8bc" stroke-width="0.7" stroke-linejoin="round"/>
<rect x="1270.2" y="1052" width="4.6" height="97" fill="#f0f0f0" stroke="#b4b8bc" stroke-width="0.7"/>
<rect x="1302" y="1030" width="4.6" height="95" fill="#f0f0f0" stroke="#b4b8bc" stroke-width="0.7"/>
<g transform="translate(37.5 16)" fill="none" stroke="#6263bb" stroke-linecap="round">
<path d="M595.3,1317.5 C598.8,1317 609.6,1314.5 616.7,1314.6 C623.8,1314.8 631.2,1316 638,1318.4 C644.9,1320.7 651.7,1324.2 657.8,1328.5 C663.9,1332.8 669.7,1338.3 674.6,1344.3 C679.5,1350.4 683.8,1357.4 687.2,1364.7 C690.6,1372.1 693.2,1380.2 694.9,1388.3 C696.5,1396.4 697.2,1405.1 696.9,1413.4 C696.7,1421.7 693.9,1434.1 693.3,1438.2" stroke-width="24" stroke-opacity="0.7"/>
<path d="M622.8,1263.5 C627.5,1263 641.6,1260.3 650.9,1260.9 C660.3,1261.4 669.8,1263.4 678.7,1266.7 C687.6,1270 696.4,1274.9 704.3,1280.7 C712.2,1286.6 719.7,1293.9 726,1301.9 C732.4,1309.9 738,1319.2 742.4,1328.9 C746.8,1338.5 750.3,1349.2 752.5,1359.9 C754.6,1370.5 755.7,1381.9 755.5,1392.8 C755.3,1403.8 751.9,1420.2 751.2,1425.6" stroke-width="21" stroke-opacity="0.5"/>
<path d="M649.3,1213.3 C655,1212.6 672.4,1208.7 683.9,1209.1 C695.4,1209.5 707.2,1211.7 718.2,1215.7 C729.2,1219.6 740.2,1225.5 749.9,1232.7 C759.7,1239.9 769,1248.9 776.8,1258.9 C784.7,1268.9 791.7,1280.4 797.1,1292.5 C802.5,1304.6 806.7,1317.9 809.2,1331.2 C811.8,1344.5 812.9,1358.7 812.5,1372.3 C812.1,1386 807.6,1406.3 806.7,1413.1" stroke-width="17.5" stroke-opacity="0.31"/>
<path d="M670.7,1160.4 C678.1,1160.5 700.6,1158.9 715.2,1160.9 C729.8,1163 744.5,1167.1 758.2,1172.8 C771.8,1178.5 785.2,1186.2 797.1,1195.2 C809,1204.2 820.1,1215.1 829.4,1226.8 C838.8,1238.6 847,1251.9 853.3,1265.7 C859.6,1279.4 864.3,1294.5 867.2,1309.4 C870,1324.3 871,1340.1 870.2,1355.3 C869.4,1370.5 863.6,1393 862.3,1400.6" stroke-width="12.5" stroke-opacity="0.18"/>
<path d="M695.7,1107.9 C704.1,1108 729.6,1106.4 746.1,1108.9 C762.6,1111.4 779.3,1116.1 794.8,1122.8 C810.4,1129.5 825.5,1138.4 839.2,1148.8 C852.8,1159.3 865.6,1171.9 876.5,1185.5 C887.4,1199.2 897.1,1214.7 904.7,1230.7 C912.3,1246.8 918.3,1264.3 922.2,1281.9 C926.1,1299.5 928.1,1318 928,1336.1 C927.9,1354.2 922.8,1381.2 921.7,1390.2" stroke-width="9" stroke-opacity="0.105"/>
</g>
<g transform="translate(28 -4)">
<ellipse cx="480" cy="1492" rx="215" ry="42" fill="url(#rtShadow)" transform="rotate(14 480 1492)"/>
<path d="M416.3,1312 L429.3,1312 L435.2,1342 L409.8,1340 Z" fill="#ededf1" stroke="#dcdde2" stroke-width="0.6"/>
<path d="M416.3,1338 L411.6,1156.6 Q416.2,1146.9 420.8,1156.6 L429.3,1338 Z" fill="url(#ant)" stroke="#d3d5db" stroke-width="0.7"/>
<polyline points="415.5,1304.5 427.8,1305.1" fill="none" stroke="#dcdde2" stroke-width="0.7"/>
<polyline points="415.4,1300.8 427.6,1301.4" fill="none" stroke="#dcdde2" stroke-width="0.7"/>
<polyline points="413.4,1222.7 424,1223.3" fill="none" stroke="#dcdde2" stroke-width="0.7"/>
<polyline points="413.3,1219 423.9,1219.6" fill="none" stroke="#dcdde2" stroke-width="0.7"/>
<path d="M286.3,1430 L286.8,1452 Q287.5,1459 296,1461.5 Q430,1508 556,1522 Q572,1525 586,1517.5 L655,1445 Q662.5,1438 662,1428 L661,1404 L560,1490 Z" fill="#e3e5e9"/>
<path d="M583,1487 L660.5,1404 Q662.5,1420 662,1432 Q662,1439 655,1446 L588,1516.5 Q578,1523.5 566,1523 Z" fill="url(#rtSide)"/>
<path d="M586,1497 L661,1416" fill="none" stroke="#fbfbfc" stroke-width="3"/>
<path d="M587,1503 L661.5,1423" fill="none" stroke="#c9ccd2" stroke-width="1.2"/>
<polyline points="617,1479.5 617.6,1470.5" fill="none" stroke="#c3c6cc" stroke-width="1.3"/>
<polyline points="622.4,1473.9 623,1464.9" fill="none" stroke="#c3c6cc" stroke-width="1.3"/>
<polyline points="627.8,1468.3 628.4,1459.3" fill="none" stroke="#c3c6cc" stroke-width="1.3"/>
<polyline points="633.2,1462.7 633.8,1453.7" fill="none" stroke="#c3c6cc" stroke-width="1.3"/>
<polyline points="638.6,1457.1 639.2,1448.1" fill="none" stroke="#c3c6cc" stroke-width="1.3"/>
<polyline points="644,1451.5 644.6,1442.5" fill="none" stroke="#c3c6cc" stroke-width="1.3"/>
<path d="M286.2,1428 Q285.5,1440 286.8,1452 Q287.5,1459 296,1461.5 Q430,1508 556,1522 Q572,1525 584,1518.5 L584,1488 L292,1424 Z" fill="url(#rtFront)"/>
<polygon points="307.5,1425.8 549.2,1478.3 544.4,1508.3 303.3,1453.3" fill="#0d0c0c"/>
<path d="M286.5,1427.5 Q284.5,1423 291,1417.5 L383,1345.5 Q392.5,1337.5 405,1340.2 L649,1391.8 Q663.5,1395.5 660.5,1405.5 L592,1481 Q582,1492 568,1486.5 Q558,1480 549,1476.5 L480,1457.4 Q400,1441 296,1429.8 Q288.5,1429.5 286.5,1427.5 Z" fill="url(#rtTop)" stroke="#d5d8dd" stroke-width="0.8"/>
<path d="M549,1477.5 Q558,1481 568,1487.5 Q582,1493 592,1482 L660.5,1406.5" fill="none" stroke="#ffffff" stroke-width="2.6" stroke-linecap="round"/>
<path d="M288,1428.8 L296,1430.6 Q400,1442 480,1458.4 L549,1477.5" fill="none" stroke="#ffffff" stroke-width="1.6"/>
<text x="0" y="0" font-size="17" font-weight="bold" fill="#eeeff1" transform="matrix(1.25 0.27 -1.0 0.62 431 1396)" class="ls" letter-spacing="1">EDIMAX</text>
<g transform="matrix(0.977 0.212 -0.15 0.99 307.5 1425.8)" class="ls" fill="#cfcfcf">
<rect x="13" y="11" width="11" height="5.5" rx="1.5" fill="none" stroke="#bdbdbd" stroke-width="0.8"/>
<path d="M11,8 Q8,13.5 11,19 M9,6.5 Q5,13.5 9,20.5 M26,8 Q29,13.5 26,19 M28,6.5 Q32,13.5 28,20.5" fill="none" stroke="#bdbdbd" stroke-width="0.7"/>
<text x="18.5" y="21" font-size="2.6" text-anchor="middle">WPS</text>
<circle cx="42" cy="11" r="1" fill="#888"/><circle cx="42" cy="17" r="1.3" fill="none" stroke="#999" stroke-width="0.5"/>
<text x="51" y="12.6" font-size="3.2">2.4G</text><circle cx="60.5" cy="11.5" r="1" fill="#aaa"/>
<text x="52" y="22" font-size="3.2">5G</text><circle cx="58.5" cy="21" r="1" fill="#aaa"/>
<path d="M57,5 Q59,3.2 61,5 M58,6.2 Q59,5.4 60,6.2" fill="none" stroke="#bbb" stroke-width="0.6"/>
<path d="M76,12 V9.5 H99 M104,9.5 H127 V12" fill="none" stroke="#9a9a9a" stroke-width="0.5"/>
<text x="101.5" y="10.6" font-size="2.8" text-anchor="middle">LAN</text>
<circle cx="76" cy="14.5" r="1.1" fill="#8a8a8a"/><text x="76" y="19.5" font-size="2.4" text-anchor="middle" fill="#777">4</text><circle cx="76" cy="22.5" r="1.1" fill="#8a8a8a"/>
<circle cx="93" cy="14.5" r="1.1" fill="#8a8a8a"/><text x="93" y="19.5" font-size="2.4" text-anchor="middle" fill="#777">3</text><circle cx="93" cy="22.5" r="1.1" fill="#8a8a8a"/>
<circle cx="110" cy="14.5" r="1.1" fill="#8a8a8a"/><text x="110" y="19.5" font-size="2.4" text-anchor="middle" fill="#777">2</text><circle cx="110" cy="22.5" r="1.1" fill="#8a8a8a"/>
<circle cx="127" cy="14.5" r="1.1" fill="#8a8a8a"/><text x="127" y="19.5" font-size="2.4" text-anchor="middle" fill="#777">1</text><circle cx="127" cy="22.5" r="1.1" fill="#8a8a8a"/>
<circle cx="143" cy="12.5" r="2.2" fill="#e6e6e6"/><text x="148" y="13.6" font-size="2.8">Internet</text>
<text x="141" y="18.5" font-size="2.2" fill="#888">WLAN</text>
<circle cx="143" cy="22.5" r="2.2" fill="#8a8a8a"/><text x="148" y="23.6" font-size="2.8" fill="#999">Internet</text>
<text x="203" y="9.5" font-size="2.8" text-anchor="end" fill="#999">BR-6475nD</text>
<text x="240" y="11" font-size="8.3" font-weight="bold" text-anchor="end" fill="#f5f5f5" letter-spacing="-0.2">EDIMAX</text>
<text x="240" y="18.2" font-size="4.4" text-anchor="end" fill="#c9c9c9">300Mbps Wireless</text>
<text x="240" y="24.6" font-size="4.4" text-anchor="end" fill="#c9c9c9">Dual-Band Gigabit iQ Router</text>
</g>
<path d="M643.3,1355 L657.3,1355 L663.6,1385 L636.3,1383 Z" fill="#ededf1" stroke="#dcdde2" stroke-width="0.6"/>
<path d="M643.3,1381 L646.5,1191 Q651.5,1180.5 656.5,1191 L657.3,1381 Z" fill="url(#ant)" stroke="#d3d5db" stroke-width="0.7"/>
<polyline points="643.9,1345.9 657.2,1346.5" fill="none" stroke="#dcdde2" stroke-width="0.7"/>
<polyline points="643.9,1342 657.1,1342.6" fill="none" stroke="#dcdde2" stroke-width="0.7"/>
<polyline points="645.3,1260.1 656.8,1260.7" fill="none" stroke="#dcdde2" stroke-width="0.7"/>
<polyline points="645.3,1256.2 656.8,1256.8" fill="none" stroke="#dcdde2" stroke-width="0.7"/>
</g>
</g>
<g fill="none" stroke="#6263bb" stroke-linecap="round">
<path d="M2808.3,1060 C2809,1061.5 2807.4,1062.2 2812.7,1068.7 C2818,1075.2 2833.8,1087.5 2840.3,1098.8 C2846.8,1110.1 2851,1122.2 2851.6,1136.5 C2852.2,1150.8 2845.3,1176.3 2844.1,1184.3" stroke-width="25" stroke-opacity="0.7"/>
<path d="M2798.9,1013.3 C2806.2,1014.6 2829.2,1015 2842.8,1020.9 C2856.4,1026.8 2870.5,1037.6 2880.6,1048.5 C2890.7,1059.4 2898.2,1073.6 2903.2,1086.2 C2908.2,1098.8 2911.8,1107.9 2910.7,1124 C2909.6,1140.1 2899.2,1173.2 2896.9,1183" stroke-width="22.5" stroke-opacity="0.5"/>
<path d="M2832.8,968.1 C2842.9,969.8 2875.9,971.1 2893.1,978.2 C2910.3,985.3 2924.6,997.4 2935.9,1010.8 C2947.2,1024.2 2955.3,1043.9 2961,1058.6 C2966.7,1073.3 2968.6,1085.8 2969.8,1098.8 C2971.1,1111.8 2971.2,1123.1 2968.5,1136.5 C2965.8,1149.9 2956,1172.2 2953.5,1179.3" stroke-width="19" stroke-opacity="0.31"/>
<path d="M2868,924.1 C2878.5,925.6 2912,925.1 2930.8,932.9 C2949.7,940.6 2967.3,955.5 2981.1,970.6 C2994.9,985.7 3006.1,1006.2 3013.8,1023.4 C3021.6,1040.6 3025.1,1059 3027.6,1073.7 C3030.1,1088.4 3032.5,1094 3028.9,1111.4 C3025.3,1128.8 3010,1166.9 3006.2,1178" stroke-width="12.6" stroke-opacity="0.18"/>
<path d="M2905.7,882.6 C2914.1,883.5 2939.2,882.2 2956,887.7 C2972.8,893.2 2991.1,903.1 3006.2,915.3 C3021.3,927.4 3035.6,942.6 3046.5,960.6 C3057.4,978.6 3065.9,1002.5 3071.6,1023.4 C3077.2,1044.3 3082.1,1060.2 3080.4,1086.2 C3078.7,1112.2 3064.7,1163.8 3061.5,1179.3" stroke-width="9" stroke-opacity="0.105"/>
</g>
<g id="extender">
<path d="M2690,1222 L2822,1199 L2828,1206 L2700,1232 Z" fill="#000" opacity="0.07"/>
<polygon points="2696,1222 2745,1213 2712,1229 2704,1230" fill="#f4f4f4" stroke="#cfcfcf" stroke-width="0.6" stroke-linejoin="round"/>
<path d="M2610.5,992 Q2610,980 2620,976 L2632,970 L2645,1075 L2672,1218 L2634,1226 Q2622,1227 2618.5,1214 L2597.8,1092 Q2596,1080 2603,1072 L2619,1052 Q2620.5,1049 2620,1045 Z" fill="url(#exSide)" stroke="#d9d8d5" stroke-width="0.7"/>
<path d="M2619,1052 L2638,1170" fill="none" stroke="#e6e5e2" stroke-width="1"/>
<polygon points="2638.9,1141.1 2652.9,1136.5 2662.8,1188.9 2648.8,1193.6" fill="#dcdbd8" stroke="#bdbcb9" stroke-width="0.6" stroke-linejoin="round"/>
<polygon points="2641.8,1144.6 2652.3,1141.1 2660.5,1185.4 2650,1189.5" fill="#0c0c0c"/>
<polygon points="2641.8,1156 2645,1155 2647,1168 2643.8,1169" fill="#3a3a3a"/>
<path d="M2626.4,974 Q2624.2,961 2637,957.3 L2763.5,943.6 Q2777,942.2 2780,955 L2822.6,1181 Q2825,1195 2811.5,1199.6 L2687,1219.6 Q2673.5,1221.5 2670.6,1209 Z" fill="url(#exFront)" stroke="#e2e1de" stroke-width="0.9"/>
<path d="M2626.4,974 L2670.6,1209 Q2673.5,1221.5 2687,1219.6" fill="none" stroke="#e9e8e5" stroke-width="1.6"/>
<circle cx="2755.6" cy="974.6" r="4.4" fill="#ecebe9"/><circle cx="2755.2" cy="974.1" r="2.9" fill="#141414"/><circle cx="2754.6" cy="973.5" r="0.8" fill="#555"/>
<circle cx="2759.7" cy="995.5" r="4.4" fill="#ecebe9"/><circle cx="2759.3" cy="995" r="2.9" fill="#141414"/><circle cx="2758.7" cy="994.4" r="0.8" fill="#555"/>
<circle cx="2763.7" cy="1016.5" r="4.4" fill="#ecebe9"/><circle cx="2763.3" cy="1016" r="2.9" fill="#141414"/><circle cx="2762.7" cy="1015.4" r="0.8" fill="#555"/>
<circle cx="2767.5" cy="1037.5" r="4.4" fill="#ecebe9"/><circle cx="2767.1" cy="1037" r="2.9" fill="#141414"/><circle cx="2766.5" cy="1036.4" r="0.8" fill="#555"/>
<circle cx="2771.6" cy="1058.8" r="4.4" fill="#ecebe9"/><circle cx="2771.2" cy="1058.3" r="2.9" fill="#141414"/><circle cx="2770.6" cy="1057.7" r="0.8" fill="#555"/>
<path d="M2737.6,979 v-2.6 M2740.4,978.6 v-4.2 M2743.2,978.2 v-6" fill="none" stroke="#9a9a9a" stroke-width="1.1"/>
<path d="M2739,997.5 Q2744.5,993 2750,996.6 M2741,999.6 Q2744.6,996.8 2748.2,999 M2742.8,1001.5 Q2744.7,1000.2 2746.5,1001.2" fill="none" stroke="#9a9a9a" stroke-width="0.9"/>
<circle cx="2744.7" cy="1003.3" r="0.8" fill="#9a9a9a"/>
<path d="M2746.5,1015.5 A3.4,3.4 0 1 0 2750.5,1015.2 M2748.3,1013.5 v4.2" fill="none" stroke="#9a9a9a" stroke-width="0.9"/>
<text x="2746" y="1037.5" font-size="3.6" fill="#9a9a9a" transform="rotate(-6 2746 1037.5)">WPS</text>
<rect x="2747.5" y="1040.5" width="5" height="3" rx="0.8" fill="none" stroke="#9a9a9a" stroke-width="0.7" transform="rotate(-8 2750 1042)"/><rect x="2752" y="1038.8" width="5" height="3" rx="0.8" fill="none" stroke="#9a9a9a" stroke-width="0.7" transform="rotate(-8 2754 1040)"/>
<path d="M2756.3,1058 v3 M2753.3,1063.5 v-1.6 h6.3 v1.6" fill="none" stroke="#9a9a9a" stroke-width="0.8"/>
<rect x="2755.3" y="1055.8" width="2.2" height="2.2" fill="#9a9a9a"/><rect x="2752.2" y="1063.3" width="2.2" height="2.2" fill="#9a9a9a"/><rect x="2758.5" y="1063" width="2.2" height="2.2" fill="#9a9a9a"/>
<text x="0" y="0" font-size="14.4" font-weight="bold" fill="#8c8c8c" class="ls" transform="translate(2692.3 1105.4) rotate(-5.9) scale(1.33 1)">EDIMAX</text>
<text x="0" y="0" font-size="7.1" fill="#9b9b9b" class="ls" transform="translate(2683.4 1119.4) rotate(-7.6)" textLength="97" lengthAdjust="spacingAndGlyphs">N300 Universal Wi-Fi Extender</text>
<circle cx="2739.7" cy="1152.2" r="14.4" fill="#fdfdfd" stroke="#8f8f8f" stroke-width="1.3"/>
<circle cx="2739.7" cy="1152.2" r="12.6" fill="none" stroke="#ededed" stroke-width="1.2"/>
<text x="2740" y="1154.6" font-size="6.6" fill="#a2a2a2" text-anchor="middle" class="ls" transform="rotate(-5 2740 1152)">WPS</text>
</g>
<g transform="translate(0 0)">
<path d="M594,143 H783 Q821,143 821,181 V274 Q821,312 783,312 H779 L821,352.5 L717.5,312 H594 Q556,312 556,274 V181 Q556,143 594,143 Z" fill="url(#bubVL)"/>
<rect x="577.5" y="160" width="222.5" height="135.5" rx="27" ry="24" fill="url(#bubRim)"/>
<path d="M590,287 H788 Q797,283 799.5,272 Q799,295.5 773,295.5 H604 Q579,295.5 578,272 Q581,283 590,287 Z" fill="url(#bubRimB)"/>
<rect x="580" y="169.5" width="217.5" height="117" rx="22" ry="16" fill="url(#bubFace)"/>
<circle cx="689.2" cy="226" r="49" fill="none" stroke="#444142" stroke-width="3"/>
<circle cx="670.3" cy="213" r="7.4" fill="#444142"/><circle cx="708.3" cy="213" r="7.4" fill="#444142"/>
<path d="M659.3,253.5 Q689.5,214 720,253.5" fill="none" stroke="#444142" stroke-width="3.2"/>
</g>
<g transform="translate(0 0)">
<path d="M851,392 H990 Q1010,392 1013,412 L1019.5,474 Q1021,499.5 995,499.5 H845 Q819,499.5 820.5,474 L827,412 Q830,392 851,392 Z" fill="url(#suitL)"/>
<polygon points="883,392 957,392 937,499.5 903,499.5" fill="url(#shirt)"/>
<path d="M866,392 H884 L908,499.5 H890 L861,451 L875,436 L859,424 Z" fill="url(#lapL)"/>
<path d="M974,392 H956 L932,499.5 H950 L979,451 L965,436 L981,424 Z" fill="url(#lapL)"/>
<polygon points="884,392 902,392 920,407 893,427" fill="#ededed"/>
<polygon points="956,392 938,392 920,407 947,427" fill="#e4e4e4"/>
<path d="M920,407 L928,415 L925,419 Q930,421 929,427 L928,431 L935,499.5 H905 L912,431 L911,427 Q910,421 915,419 L912,415 Z" fill="url(#tieL)"/>
<path d="M901,372 H939 V385 Q941,392 946,394 Q930,408 920,408 Q910,408 894,394 Q899,392 901,385 Z" fill="url(#neckL)"/>
<circle cx="920" cy="312.7" r="62.8" fill="url(#headL)"/>
<path d="M982.5,318 A62.8,62.8 0 0 1 888,367 Q950,372 973,300 Q981,308 982.5,318 Z" fill="#6f6f6f" opacity="0.38"/>
<ellipse cx="895" cy="287" rx="24" ry="16" transform="rotate(-22 895 287)" fill="#d9d9d9" opacity="0.7"/>
<ellipse cx="889.5" cy="277.5" rx="10.5" ry="7" transform="rotate(-25 889.5 277.5)" fill="#fff"/>
</g>
<g transform="translate(0 0)">
<rect x="1058.3" y="277.2" width="275.8" height="196" rx="7" fill="#adadad"/>
<rect x="1061.5" y="281" width="269.4" height="192" rx="5" fill="url(#lapBody)"/>
<rect x="1071" y="293.7" width="251" height="159.5" fill="#5f5f5f"/>
<rect x="1073.5" y="296.7" width="246" height="153.5" fill="url(#scrL)"/>
<path d="M1043,468.5 H1349 Q1352.5,468.5 1352,472 L1350,489 Q1349,499.5 1338,499.5 H1054 Q1043,499.5 1042,489 L1040,472 Q1039.5,468.5 1043,468.5 Z" fill="url(#lapBase)"/>
<rect x="1137" y="477" width="119" height="6.2" rx="3.1" fill="#050505"/>
<circle cx="1316" cy="481.2" r="3.2" fill="#e6e6e6" stroke="#777" stroke-width="1.2"/><circle cx="1327" cy="481.2" r="3.2" fill="#4a4a4a" stroke="#888" stroke-width="1.2"/>
<rect x="1112.5" y="387.2" width="20.7" height="49" fill="url(#barW)"/>
<rect x="1150" y="367" width="20.7" height="69.2" fill="url(#barW)"/>
<rect x="1187.3" y="346.2" width="21.5" height="90.3" fill="#1b1819" stroke="#f0f0f0" stroke-width="2.2"/>
<rect x="1223.6" y="331.2" width="21.5" height="105.3" fill="#1b1819" stroke="#f0f0f0" stroke-width="2.2"/>
<rect x="1260" y="317.7" width="21.5" height="118.8" fill="#1b1819" stroke="#f0f0f0" stroke-width="2.2"/>
</g>
<g transform="translate(1777.5 0)">
<path d="M594,143 H783 Q821,143 821,181 V274 Q821,312 783,312 H779 L821,352.5 L717.5,312 H594 Q556,312 556,274 V181 Q556,143 594,143 Z" fill="url(#bubVR)"/>
<rect x="577.5" y="160" width="222.5" height="135.5" rx="27" ry="24" fill="url(#bubRim)"/>
<path d="M590,287 H788 Q797,283 799.5,272 Q799,295.5 773,295.5 H604 Q579,295.5 578,272 Q581,283 590,287 Z" fill="url(#bubRimB)"/>
<rect x="580" y="169.5" width="217.5" height="117" rx="22" ry="16" fill="url(#bubFaceR)"/>
<circle cx="689.2" cy="226" r="49" fill="none" stroke="#444142" stroke-width="3"/>
<circle cx="670.3" cy="213" r="7.4" fill="#444142"/><circle cx="708.3" cy="213" r="7.4" fill="#444142"/>
<path d="M659.5,231 H718 Q716,265 688.5,265.5 Q661,265 659.5,231 Z" fill="none" stroke="#444142" stroke-width="3" stroke-linejoin="round"/>
</g>
<g transform="translate(1777.5 0)">
<path d="M851,392 H990 Q1010,392 1013,412 L1019.5,474 Q1021,499.5 995,499.5 H845 Q819,499.5 820.5,474 L827,412 Q830,392 851,392 Z" fill="url(#suitR)"/>
<polygon points="883,392 957,392 937,499.5 903,499.5" fill="url(#shirt)"/>
<path d="M866,392 H884 L908,499.5 H890 L861,451 L875,436 L859,424 Z" fill="url(#lapR)"/>
<path d="M974,392 H956 L932,499.5 H950 L979,451 L965,436 L981,424 Z" fill="url(#lapR)"/>
<polygon points="884,392 902,392 920,407 893,427" fill="#ededed"/>
<polygon points="956,392 938,392 920,407 947,427" fill="#e4e4e4"/>
<path d="M920,407 L928,415 L925,419 Q930,421 929,427 L928,431 L935,499.5 H905 L912,431 L911,427 Q910,421 915,419 L912,415 Z" fill="url(#tieR)"/>
<path d="M901,372 H939 V385 Q941,392 946,394 Q930,408 920,408 Q910,408 894,394 Q899,392 901,385 Z" fill="url(#neckR)"/>
<circle cx="920" cy="312.7" r="62.8" fill="url(#headR)"/>
<path d="M982.5,318 A62.8,62.8 0 0 1 888,367 Q950,372 973,300 Q981,308 982.5,318 Z" fill="#14548c" opacity="0.38"/>
<ellipse cx="895" cy="287" rx="24" ry="16" transform="rotate(-22 895 287)" fill="#9fb0d8" opacity="0.7"/>
<ellipse cx="889.5" cy="277.5" rx="10.5" ry="7" transform="rotate(-25 889.5 277.5)" fill="#fff"/>
</g>
<g transform="translate(1789 0)">
<rect x="1058.3" y="277.2" width="275.8" height="196" rx="7" fill="#adadad"/>
<rect x="1061.5" y="281" width="269.4" height="192" rx="5" fill="url(#lapBody)"/>
<rect x="1071" y="293.7" width="251" height="159.5" fill="#55606e"/>
<rect x="1073.5" y="296.7" width="246" height="153.5" fill="url(#scrR)"/>
<path d="M1043,468.5 H1349 Q1352.5,468.5 1352,472 L1350,489 Q1349,499.5 1338,499.5 H1054 Q1043,499.5 1042,489 L1040,472 Q1039.5,468.5 1043,468.5 Z" fill="url(#lapBase)"/>
<rect x="1137" y="477" width="119" height="6.2" rx="3.1" fill="#050505"/>
<circle cx="1316" cy="481.2" r="3.2" fill="#c8d400" stroke="#8a9a2a" stroke-width="1.2"/><circle cx="1327" cy="481.2" r="3.2" fill="#e3000f" stroke="#a05050" stroke-width="1.2"/>
<rect x="1112.9" y="389.2" width="19.9" height="46.5" fill="url(#barG)"/>
<rect x="1150.4" y="369" width="19.9" height="66.7" fill="url(#barG)"/>
<rect x="1187.7" y="348.2" width="20.7" height="87.8" fill="url(#barG)"/>
<rect x="1224" y="333.2" width="20.7" height="102.8" fill="url(#barG)"/>
<rect x="1260.4" y="319.7" width="20.7" height="116.3" fill="url(#barG)"/>
</g>
<polygon points="1585.3,1093.8 1691.3,1093.8 1691.3,1053.3 1784.2,1146.3 1691.3,1239.7 1691.3,1200 1585.3,1200" fill="#18a3e8"/>
<polygon points="1585.3,1093.8 1691.3,1093.8 1699.2,1102 1593.7,1102" fill="#0a78c9"/>
<polygon points="1691.3,1093.8 1691.3,1053.3 1699.2,1073 1699.2,1102" fill="#1590dc"/>
<polygon points="1691.3,1053.3 1784.2,1146.3 1772.6,1146.3 1699.2,1073" fill="#19a6ea"/>
<polygon points="1784.2,1146.3 1691.3,1239.7 1699.2,1220.8 1772.6,1146.3" fill="#79c3ef"/>
<polygon points="1691.3,1239.7 1691.3,1200 1699.2,1191 1699.2,1220.8" fill="#1590dc"/>
<polygon points="1691.3,1200 1585.3,1200 1593.7,1191 1699.2,1191" fill="#7cc5f0"/>
<polygon points="1585.3,1200 1585.3,1093.8 1593.7,1102 1593.7,1191" fill="#1ea5e9"/>
<polygon points="1593.7,1102 1699.2,1102 1699.2,1073 1772.6,1146.3 1699.2,1220.8 1699.2,1191 1593.7,1191" fill="url(#arrIn)"/>
<rect x="1200.2" y="499" width="8.2" height="461.5" fill="#6c6c6c"/>
<rect x="433.3" y="1498" width="8.4" height="227.5" fill="#6c6c6c"/>
<rect x="2979.3" y="499" width="8.4" height="461.5" fill="#0a9ae6"/>
<rect x="2237.3" y="1498" width="8.4" height="227.5" fill="#0a9ae6"/>
<rect x="2720.8" y="1219" width="8.6" height="655.5" fill="#0a9ae6"/>
<text class="lbl" x="1203" y="238.7" font-size="49.3" fill="#6c6c6c" text-anchor="middle" textLength="193.6" lengthAdjust="spacingAndGlyphs">Laptop</text>
<text class="lbl" x="435.6" y="1788" font-size="49.3" fill="#6c6c6c" text-anchor="middle" textLength="192" lengthAdjust="spacingAndGlyphs">Router</text>
<text class="lbl" x="2993" y="238.7" font-size="49.3" fill="#0a9ae6" text-anchor="middle" textLength="193.6" lengthAdjust="spacingAndGlyphs">Laptop</text>
<text class="lbl" x="2239.6" y="1788" font-size="49.3" fill="#0a9ae6" text-anchor="middle" textLength="192" lengthAdjust="spacingAndGlyphs">Router</text>
<text class="lbl" x="2722.8" y="1941" font-size="49.3" fill="#0a9ae6" text-anchor="middle" textLength="150" lengthAdjust="spacingAndGlyphs">Wi-Fi</text>
<text class="lbl" x="2721.5" y="2001.3" font-size="49.3" fill="#0a9ae6" text-anchor="middle" textLength="252.6" lengthAdjust="spacingAndGlyphs">Extender</text>
</svg>
</body></html>
